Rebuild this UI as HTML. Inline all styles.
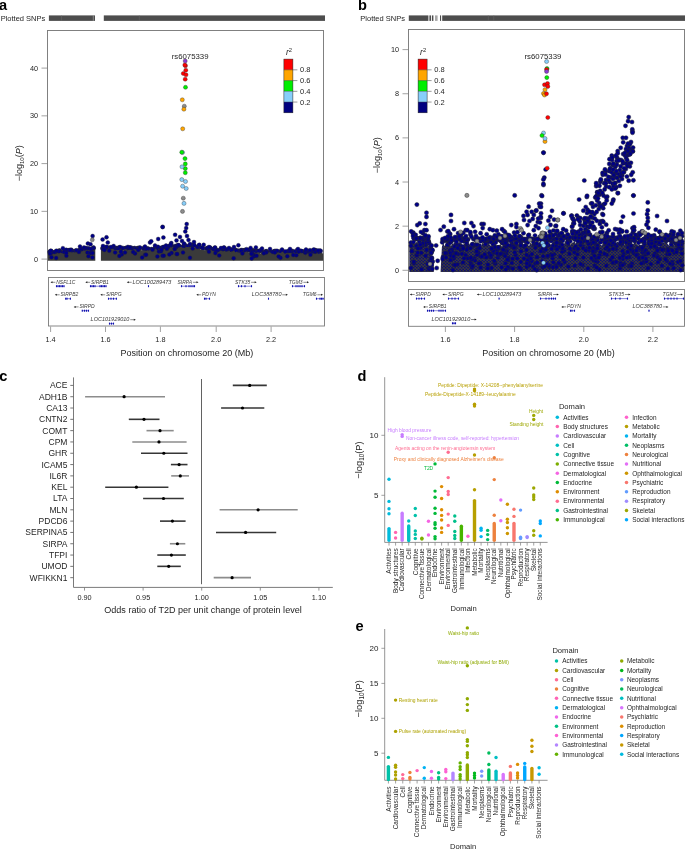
<!DOCTYPE html>
<html><head><meta charset="utf-8"><style>
html,body{margin:0;padding:0;background:#fff;}
body{width:685px;height:849px;overflow:hidden;}
svg{display:block;font-family:"Liberation Sans",sans-serif;will-change:transform;}
</style></head><body>
<svg width="685" height="849" viewBox="0 0 685 849">
<rect width="685" height="849" fill="#fff"/>
<text x="-0.9" y="9.6" font-size="14.6" fill="#000" font-weight="bold">a</text>
<text x="0.7" y="20.9" font-size="7.5" fill="#252525">Plotted SNPs</text>
<rect x="48.9" y="15.4" width="46.1" height="5.5" fill="#4d4d4d"/>
<rect x="103.8" y="15.4" width="221.2" height="5.5" fill="#4d4d4d"/>
<line x1="61.5" y1="15.4" x2="61.5" y2="20.9" stroke="#6a6a6a" stroke-width="0.5"/>
<line x1="139.3" y1="15.4" x2="139.3" y2="20.9" stroke="#6a6a6a" stroke-width="0.5"/>
<line x1="93.3" y1="15.4" x2="93.3" y2="20.9" stroke="#b0b0b0" stroke-width="0.6"/>
<rect x="47.5" y="30.5" width="276" height="240" fill="none" stroke="#7a7a7a" stroke-width="0.95"/>
<line x1="41.5" y1="259.1" x2="47.5" y2="259.1" stroke="#7a7a7a" stroke-width="0.7"/>
<text x="38" y="261.7" font-size="7.3" fill="#252525" text-anchor="end">0</text>
<line x1="41.5" y1="211.35" x2="47.5" y2="211.35" stroke="#7a7a7a" stroke-width="0.7"/>
<text x="38" y="213.95" font-size="7.3" fill="#252525" text-anchor="end">10</text>
<line x1="41.5" y1="163.6" x2="47.5" y2="163.6" stroke="#7a7a7a" stroke-width="0.7"/>
<text x="38" y="166.2" font-size="7.3" fill="#252525" text-anchor="end">20</text>
<line x1="41.5" y1="115.85" x2="47.5" y2="115.85" stroke="#7a7a7a" stroke-width="0.7"/>
<text x="38" y="118.45" font-size="7.3" fill="#252525" text-anchor="end">30</text>
<line x1="41.5" y1="68.1" x2="47.5" y2="68.1" stroke="#7a7a7a" stroke-width="0.7"/>
<text x="38" y="70.7" font-size="7.3" fill="#252525" text-anchor="end">40</text>
<text transform="translate(21.7 163.3) rotate(-90)" font-size="9" fill="#252525" text-anchor="middle">&#8722;log<tspan font-size="6.12" dy="2.52">10</tspan><tspan dy="-2.52">(</tspan><tspan font-style="italic">P</tspan>)</text>
<g fill="#000086" stroke="#2a2a2a" stroke-width="0.45"><circle cx="55.37" cy="252.06" r="2.1"/><circle cx="60.73" cy="252.33" r="2.1"/><circle cx="71.4" cy="251.79" r="2.1"/><circle cx="84.42" cy="249.14" r="2.1"/><circle cx="53.57" cy="253.21" r="2.1"/><circle cx="68.61" cy="250.67" r="2.1"/><circle cx="83.25" cy="250.19" r="2.1"/><circle cx="81.44" cy="249.36" r="2.1"/><circle cx="59.56" cy="253.15" r="2.1"/><circle cx="50.76" cy="251.96" r="2.1"/><circle cx="50.53" cy="253.84" r="2.1"/><circle cx="66.33" cy="251.11" r="2.1"/><circle cx="59.02" cy="251" r="2.1"/><circle cx="59.24" cy="250.87" r="2.1"/><circle cx="68.84" cy="251.13" r="2.1"/><circle cx="59.65" cy="250.74" r="2.1"/><circle cx="59.11" cy="251.7" r="2.1"/><circle cx="50.35" cy="251.35" r="2.1"/><circle cx="86.59" cy="249.67" r="2.1"/><circle cx="57.65" cy="251.4" r="2.1"/><circle cx="93.47" cy="247.7" r="2.1"/><circle cx="64.17" cy="250.96" r="2.1"/><circle cx="81.43" cy="250.02" r="2.1"/><circle cx="68.14" cy="253.03" r="2.1"/><circle cx="86.25" cy="248.63" r="2.1"/><circle cx="75.49" cy="250.82" r="2.1"/><circle cx="88.58" cy="248.47" r="2.1"/><circle cx="75.55" cy="251.09" r="2.1"/><circle cx="50.93" cy="251.18" r="2.1"/><circle cx="67.8" cy="252.45" r="2.1"/><circle cx="57.08" cy="252.6" r="2.1"/><circle cx="79.35" cy="250.3" r="2.1"/><circle cx="66.04" cy="251.72" r="2.1"/><circle cx="83.96" cy="249.24" r="2.1"/><circle cx="72.53" cy="251.16" r="2.1"/><circle cx="50.71" cy="251.95" r="2.1"/><circle cx="51.33" cy="252.05" r="2.1"/><circle cx="75.74" cy="253.2" r="2.1"/><circle cx="66.88" cy="251.04" r="2.1"/><circle cx="93" cy="248.59" r="2.1"/><circle cx="83.61" cy="251.1" r="2.1"/><circle cx="59.71" cy="251.3" r="2.1"/><circle cx="72.21" cy="251.6" r="2.1"/><circle cx="69.79" cy="250.67" r="2.1"/><circle cx="61.36" cy="253.51" r="2.1"/><circle cx="49.65" cy="252.03" r="2.1"/><circle cx="84.19" cy="249.72" r="2.1"/><circle cx="82.28" cy="251.39" r="2.1"/><circle cx="85.33" cy="249.9" r="2.1"/><circle cx="68.32" cy="250.46" r="2.1"/><circle cx="51.89" cy="252.11" r="2.1"/><circle cx="58.27" cy="251.91" r="2.1"/><circle cx="213.09" cy="249.74" r="2.1"/><circle cx="178.29" cy="245.67" r="2.1"/><circle cx="220.49" cy="250.18" r="2.1"/><circle cx="202.87" cy="248.72" r="2.1"/><circle cx="108.53" cy="247.71" r="2.1"/><circle cx="230.57" cy="250.27" r="2.1"/><circle cx="291.22" cy="251.59" r="2.1"/><circle cx="281.44" cy="252.91" r="2.1"/><circle cx="158.39" cy="248.62" r="2.1"/><circle cx="120.65" cy="249.34" r="2.1"/><circle cx="106.06" cy="249.49" r="2.1"/><circle cx="157.13" cy="247.91" r="2.1"/><circle cx="126.41" cy="248.69" r="2.1"/><circle cx="117.64" cy="248.57" r="2.1"/><circle cx="137.41" cy="248.76" r="2.1"/><circle cx="162.25" cy="247.51" r="2.1"/><circle cx="258.45" cy="251.65" r="2.1"/><circle cx="206.3" cy="248.56" r="2.1"/><circle cx="107.58" cy="248.51" r="2.1"/><circle cx="143.64" cy="248.94" r="2.1"/><circle cx="126.25" cy="249.06" r="2.1"/><circle cx="148.25" cy="249.02" r="2.1"/><circle cx="235.22" cy="249.81" r="2.1"/><circle cx="106.32" cy="247.72" r="2.1"/><circle cx="134.52" cy="248.14" r="2.1"/><circle cx="256.92" cy="251.27" r="2.1"/><circle cx="251.12" cy="251.16" r="2.1"/><circle cx="316.35" cy="251.38" r="2.1"/><circle cx="277.36" cy="251.69" r="2.1"/><circle cx="244.62" cy="250.17" r="2.1"/><circle cx="189" cy="246.27" r="2.1"/><circle cx="240.77" cy="250.42" r="2.1"/><circle cx="115.29" cy="248.71" r="2.1"/><circle cx="294.4" cy="253.97" r="2.1"/><circle cx="169.59" cy="246.87" r="2.1"/><circle cx="308.39" cy="251.89" r="2.1"/><circle cx="265.52" cy="251.54" r="2.1"/><circle cx="104.26" cy="247.84" r="2.1"/><circle cx="295.1" cy="253.14" r="2.1"/><circle cx="313.41" cy="251.65" r="2.1"/><circle cx="227.46" cy="250.51" r="2.1"/><circle cx="315.95" cy="253.27" r="2.1"/><circle cx="256.79" cy="251.74" r="2.1"/><circle cx="178.48" cy="245.62" r="2.1"/><circle cx="147.52" cy="248.76" r="2.1"/><circle cx="144.97" cy="249.27" r="2.1"/><circle cx="125.3" cy="248.4" r="2.1"/><circle cx="212.01" cy="249.43" r="2.1"/><circle cx="173.75" cy="247.44" r="2.1"/><circle cx="106.37" cy="249.36" r="2.1"/><circle cx="146.45" cy="249.82" r="2.1"/><circle cx="274.05" cy="253.94" r="2.1"/><circle cx="176.76" cy="246.01" r="2.1"/><circle cx="286.11" cy="252.66" r="2.1"/><circle cx="306.83" cy="252.45" r="2.1"/><circle cx="253.08" cy="252.49" r="2.1"/><circle cx="208.65" cy="249.26" r="2.1"/><circle cx="261.49" cy="250.79" r="2.1"/><circle cx="120.97" cy="249.11" r="2.1"/><circle cx="149.1" cy="250.5" r="2.1"/><circle cx="268.87" cy="252.63" r="2.1"/><circle cx="183.13" cy="246.81" r="2.1"/><circle cx="177.02" cy="246.21" r="2.1"/><circle cx="234.85" cy="252.03" r="2.1"/><circle cx="311.68" cy="251.6" r="2.1"/><circle cx="223.27" cy="249.57" r="2.1"/><circle cx="125.27" cy="248.34" r="2.1"/><circle cx="292.35" cy="251.07" r="2.1"/><circle cx="275.23" cy="251.34" r="2.1"/><circle cx="237.31" cy="250.76" r="2.1"/><circle cx="273.87" cy="251.93" r="2.1"/><circle cx="151.46" cy="249.18" r="2.1"/><circle cx="120.33" cy="248.09" r="2.1"/><circle cx="226.18" cy="251.81" r="2.1"/><circle cx="305.27" cy="251.99" r="2.1"/><circle cx="274.99" cy="251.07" r="2.1"/><circle cx="283.93" cy="252.67" r="2.1"/><circle cx="122.51" cy="248" r="2.1"/><circle cx="127.64" cy="248.18" r="2.1"/><circle cx="154.95" cy="248.1" r="2.1"/><circle cx="319.1" cy="251.69" r="2.1"/><circle cx="139.11" cy="248.35" r="2.1"/><circle cx="155.34" cy="247.86" r="2.1"/><circle cx="302.13" cy="251.59" r="2.1"/><circle cx="185.36" cy="247.99" r="2.1"/><circle cx="166.88" cy="247.29" r="2.1"/><circle cx="157.97" cy="248.21" r="2.1"/><circle cx="245.39" cy="250.2" r="2.1"/><circle cx="111.09" cy="251.12" r="2.1"/><circle cx="167.21" cy="246.95" r="2.1"/><circle cx="233.23" cy="250.62" r="2.1"/><circle cx="116.21" cy="248.1" r="2.1"/><circle cx="302.71" cy="254.16" r="2.1"/><circle cx="126.82" cy="248.51" r="2.1"/><circle cx="149.59" cy="250.67" r="2.1"/><circle cx="221.46" cy="251.32" r="2.1"/><circle cx="253.32" cy="250.92" r="2.1"/><circle cx="221.17" cy="249.83" r="2.1"/><circle cx="169.8" cy="246.18" r="2.1"/><circle cx="163.98" cy="247.76" r="2.1"/><circle cx="318.05" cy="252.81" r="2.1"/><circle cx="243.51" cy="250.6" r="2.1"/><circle cx="308.7" cy="251.88" r="2.1"/><circle cx="174.16" cy="246.31" r="2.1"/><circle cx="171.86" cy="247.19" r="2.1"/><circle cx="168.81" cy="248.47" r="2.1"/><circle cx="175.72" cy="247.14" r="2.1"/><circle cx="233.09" cy="250.06" r="2.1"/><circle cx="156.15" cy="248.68" r="2.1"/><circle cx="118.26" cy="247.92" r="2.1"/><circle cx="223.28" cy="249.58" r="2.1"/><circle cx="241.74" cy="250.17" r="2.1"/><circle cx="166.18" cy="247.31" r="2.1"/><circle cx="291.58" cy="252.3" r="2.1"/><circle cx="136.21" cy="250.16" r="2.1"/><circle cx="119.31" cy="247.84" r="2.1"/><circle cx="310.57" cy="252.06" r="2.1"/><circle cx="318.39" cy="253" r="2.1"/><circle cx="282.57" cy="251.12" r="2.1"/><circle cx="215.2" cy="249.25" r="2.1"/><circle cx="304.01" cy="251.74" r="2.1"/><circle cx="133.47" cy="250.44" r="2.1"/><circle cx="302.07" cy="252.06" r="2.1"/><circle cx="300.45" cy="251.23" r="2.1"/><circle cx="278.69" cy="252.77" r="2.1"/><circle cx="266.04" cy="252.01" r="2.1"/><circle cx="253.63" cy="251" r="2.1"/><circle cx="137.03" cy="249.19" r="2.1"/><circle cx="259.16" cy="251.12" r="2.1"/><circle cx="116.53" cy="248.58" r="2.1"/><circle cx="313.67" cy="251.67" r="2.1"/><circle cx="221.12" cy="250.45" r="2.1"/><circle cx="289.09" cy="252.08" r="2.1"/><circle cx="176.67" cy="245.95" r="2.1"/><circle cx="158.97" cy="249.31" r="2.1"/><circle cx="193.78" cy="245.49" r="2.1"/><circle cx="227.53" cy="250.41" r="2.1"/><circle cx="132.73" cy="248.41" r="2.1"/><circle cx="129.84" cy="248.08" r="2.1"/><circle cx="189.64" cy="247.57" r="2.1"/><circle cx="190.36" cy="245.97" r="2.1"/><circle cx="104.04" cy="247.94" r="2.1"/><circle cx="218.34" cy="250.63" r="2.1"/><circle cx="198.52" cy="246.27" r="2.1"/><circle cx="252.95" cy="250.52" r="2.1"/><circle cx="210.97" cy="249.39" r="2.1"/><circle cx="207.41" cy="248.52" r="2.1"/><circle cx="225.3" cy="250.48" r="2.1"/><circle cx="301.29" cy="251.86" r="2.1"/><circle cx="244.16" cy="250.54" r="2.1"/><circle cx="112.97" cy="249.03" r="2.1"/><circle cx="294.82" cy="251.6" r="2.1"/><circle cx="137.37" cy="248.29" r="2.1"/><circle cx="170.78" cy="248.44" r="2.1"/><circle cx="254.28" cy="251.15" r="2.1"/><circle cx="256.19" cy="251.49" r="2.1"/><circle cx="263.9" cy="252.69" r="2.1"/><circle cx="299.03" cy="252.33" r="2.1"/><circle cx="312.95" cy="251.79" r="2.1"/><circle cx="157.36" cy="248.03" r="2.1"/><circle cx="150.12" cy="250.02" r="2.1"/><circle cx="113.83" cy="248.6" r="2.1"/><circle cx="251.88" cy="250.6" r="2.1"/><circle cx="215.35" cy="249.82" r="2.1"/><circle cx="138.54" cy="248.1" r="2.1"/><circle cx="317.58" cy="251.5" r="2.1"/><circle cx="279.58" cy="251.51" r="2.1"/><circle cx="302.59" cy="251.72" r="2.1"/><circle cx="312.8" cy="252.45" r="2.1"/><circle cx="287.04" cy="252.51" r="2.1"/><circle cx="247.08" cy="250.58" r="2.1"/><circle cx="305.1" cy="252.3" r="2.1"/><circle cx="315.39" cy="252.74" r="2.1"/><circle cx="197.34" cy="247.36" r="2.1"/><circle cx="138.53" cy="248.34" r="2.1"/><circle cx="301.72" cy="251.59" r="2.1"/><circle cx="312.8" cy="252.31" r="2.1"/><circle cx="191.92" cy="246.37" r="2.1"/><circle cx="128.3" cy="248.18" r="2.1"/><circle cx="266.78" cy="251.62" r="2.1"/><circle cx="103.28" cy="247.8" r="2.1"/><circle cx="107.01" cy="248.73" r="2.1"/><circle cx="240.02" cy="251.7" r="2.1"/><circle cx="147.71" cy="249.58" r="2.1"/><circle cx="164.85" cy="248.13" r="2.1"/><circle cx="230.85" cy="249.79" r="2.1"/><circle cx="157.42" cy="248.57" r="2.1"/><circle cx="279.74" cy="252.8" r="2.1"/><circle cx="315.91" cy="252.48" r="2.1"/><circle cx="290.05" cy="251.33" r="2.1"/><circle cx="271.06" cy="251.85" r="2.1"/><circle cx="164.69" cy="247.73" r="2.1"/><circle cx="126.11" cy="248.11" r="2.1"/><circle cx="266.28" cy="251.31" r="2.1"/><circle cx="221.98" cy="251.06" r="2.1"/><circle cx="315.89" cy="251.59" r="2.1"/><circle cx="132.36" cy="249.54" r="2.1"/><circle cx="170.66" cy="245.99" r="2.1"/><circle cx="212.72" cy="249.52" r="2.1"/><circle cx="102.59" cy="248.44" r="2.1"/><circle cx="199.4" cy="247.49" r="2.1"/><circle cx="189.99" cy="245.63" r="2.1"/><circle cx="274.13" cy="251.38" r="2.1"/><circle cx="244.43" cy="251.35" r="2.1"/><circle cx="185.2" cy="245.44" r="2.1"/><circle cx="163.28" cy="247.42" r="2.1"/><circle cx="233.58" cy="251.3" r="2.1"/><circle cx="214.45" cy="250.22" r="2.1"/><circle cx="318.85" cy="253.38" r="2.1"/><circle cx="192.09" cy="245.81" r="2.1"/><circle cx="265.7" cy="251.77" r="2.1"/><circle cx="139.75" cy="248.15" r="2.1"/><circle cx="238.37" cy="250.95" r="2.1"/><circle cx="103.17" cy="247.54" r="2.1"/><circle cx="187.74" cy="246.45" r="2.1"/><circle cx="291.27" cy="251.5" r="2.1"/><circle cx="230.57" cy="249.78" r="2.1"/><circle cx="266.61" cy="253.3" r="2.1"/><circle cx="210.45" cy="248.53" r="2.1"/><circle cx="244.67" cy="251.8" r="2.1"/><circle cx="240.49" cy="251.33" r="2.1"/><circle cx="241.38" cy="250.89" r="2.1"/><circle cx="307.91" cy="251.55" r="2.1"/><circle cx="270.71" cy="253.06" r="2.1"/><circle cx="281.2" cy="251.75" r="2.1"/><circle cx="160.42" cy="248.19" r="2.1"/><circle cx="257.67" cy="251.66" r="2.1"/><circle cx="135.75" cy="249.09" r="2.1"/><circle cx="285.07" cy="252.24" r="2.1"/><circle cx="112.35" cy="247.86" r="2.1"/><circle cx="214.3" cy="248.73" r="2.1"/><circle cx="180.29" cy="246.78" r="2.1"/><circle cx="246.45" cy="251.57" r="2.1"/><circle cx="309.89" cy="251.27" r="2.1"/><circle cx="253.82" cy="251.95" r="2.1"/><circle cx="235.08" cy="250.76" r="2.1"/><circle cx="148.21" cy="248.83" r="2.1"/><circle cx="161.41" cy="249.85" r="2.1"/><circle cx="118.82" cy="248.52" r="2.1"/><circle cx="183.15" cy="246.73" r="2.1"/><circle cx="214.58" cy="248.76" r="2.1"/><circle cx="245.62" cy="250.85" r="2.1"/><circle cx="258.86" cy="251.03" r="2.1"/><circle cx="236.1" cy="250.62" r="2.1"/></g>
<path d="M47.9 260.8 L47.9 252.46 L49.1 253.08 L50.3 252.25 L51.5 253.43 L52.7 253.54 L53.9 252.41 L55.1 252.15 L56.3 253.58 L57.5 253.02 L58.7 253.24 L59.9 251.57 L61.1 253.24 L62.3 252.63 L63.5 251.96 L64.7 252.13 L65.9 252.73 L67.1 252.72 L68.3 251.46 L69.5 252.28 L70.7 251.3 L71.9 252.85 L73.1 251.73 L74.3 252.61 L75.5 252.18 L76.7 251.88 L77.9 251.13 L79.1 251.6 L80.3 250.7 L81.5 250.4 L82.7 251.26 L83.9 250.25 L85.1 250.73 L86.3 249.41 L87.5 250.06 L88.7 249.89 L89.9 248.98 L91.1 248.49 L92.3 248.99 L93.5 249.09 L94.7 248.22 L95.3 248.37 L95.3 260.8 Z" fill="#3a3a3a"/>
<path d="M100.9 260.8 L100.9 248.93 L102.1 249.74 L103.3 249.94 L104.5 248.27 L105.7 248.38 L106.9 250.01 L108.1 248.48 L109.3 249.01 L110.5 248.74 L111.7 248.7 L112.9 248.59 L114.1 249.83 L115.3 250.06 L116.5 249.95 L117.7 250.29 L118.9 249.94 L120.1 249.41 L121.3 249.9 L122.5 250.6 L123.7 249.95 L124.9 249.17 L126.1 248.82 L127.3 250.59 L128.5 249.91 L129.7 249.45 L130.9 249.97 L132.1 249.9 L133.3 249.84 L134.5 248.93 L135.7 249.53 L136.9 249.66 L138.1 249.25 L139.3 250.63 L140.5 249.73 L141.7 250.22 L142.9 250.34 L144.1 250.41 L145.3 250.38 L146.5 250.46 L147.7 249.47 L148.9 250.94 L150.1 249.3 L151.3 250.75 L152.5 250.54 L153.7 250.46 L154.9 248.78 L156.1 248.78 L157.3 250.14 L158.5 249.37 L159.7 249.09 L160.9 250.24 L162.1 248.27 L163.3 249.18 L164.5 248.92 L165.7 248.11 L166.9 248.38 L168.1 248.75 L169.3 248.84 L170.5 246.87 L171.7 247.61 L172.9 246.66 L174.1 248.06 L175.3 246.6 L176.5 246.47 L177.7 247.14 L178.9 247.82 L180.1 246.95 L181.3 246.56 L182.5 247.86 L183.7 247.86 L184.9 247.93 L186.1 246.8 L187.3 247.02 L188.5 246.63 L189.7 247.23 L190.9 246.75 L192.1 246.74 L193.3 247.6 L194.5 247.92 L195.7 247.38 L196.9 246.78 L198.1 248.24 L199.3 248.19 L200.5 249.63 L201.7 249.45 L202.9 250.04 L204.1 250.13 L205.3 250.09 L206.5 250.87 L207.7 250.8 L208.9 249.79 L210.1 249.58 L211.3 250.07 L212.5 250.43 L213.7 249.65 L214.9 250.21 L216.1 250.73 L217.3 249.73 L218.5 251.33 L219.7 251.07 L220.9 250.45 L222.1 250.49 L223.3 250.66 L224.5 250.66 L225.7 251.57 L226.9 251.14 L228.1 251.25 L229.3 250.56 L230.5 252.15 L231.7 251.02 L232.9 251.07 L234.1 250.6 L235.3 252.47 L236.5 251.52 L237.7 252.43 L238.9 252.51 L240.1 252.64 L241.3 252.38 L242.5 252.65 L243.7 252.69 L244.9 252.5 L246.1 251.21 L247.3 252.04 L248.5 252.19 L249.7 253.07 L250.9 252.7 L252.1 252.59 L253.3 252.73 L254.5 252 L255.7 253.21 L256.9 252.66 L258.1 252.23 L259.3 252.4 L260.5 253.46 L261.7 252.58 L262.9 251.86 L264.1 251.83 L265.3 252.92 L266.5 252.68 L267.7 253.37 L268.9 251.94 L270.1 252.4 L271.3 253.05 L272.5 251.7 L273.7 251.81 L274.9 252.71 L276.1 252.16 L277.3 251.85 L278.5 252.17 L279.7 252.92 L280.9 252.72 L282.1 251.83 L283.3 251.83 L284.5 253.4 L285.7 252.99 L286.9 252.06 L288.1 253.45 L289.3 251.78 L290.5 252.48 L291.7 253.45 L292.9 253.18 L294.1 252.34 L295.3 253.56 L296.5 252.99 L297.7 253.53 L298.9 253.59 L300.1 252.67 L301.3 253.18 L302.5 252.93 L303.7 253.74 L304.9 253.45 L306.1 253.32 L307.3 253.5 L308.5 253.88 L309.7 252.41 L310.9 252.31 L312.1 253.41 L313.3 253.46 L314.5 252.96 L315.7 252.92 L316.9 252.76 L318.1 253.73 L319.3 253.56 L320.5 253.15 L321.7 252.07 L322.9 253.7 L323.2 252.92 L323.2 260.8 Z" fill="#3a3a3a"/>
<circle cx="51.86" cy="252.41" r="2" fill="#000086" stroke="#2a2a2a" stroke-width="0.35"/>
<circle cx="59.02" cy="251.35" r="2" fill="#000086" stroke="#2a2a2a" stroke-width="0.35"/>
<circle cx="50.94" cy="250.66" r="2" fill="#000086" stroke="#2a2a2a" stroke-width="0.35"/>
<circle cx="92.21" cy="248.84" r="2" fill="#000086" stroke="#2a2a2a" stroke-width="0.35"/>
<circle cx="76.63" cy="250.24" r="2" fill="#000086" stroke="#2a2a2a" stroke-width="0.35"/>
<circle cx="54.64" cy="252.12" r="2" fill="#000086" stroke="#2a2a2a" stroke-width="0.35"/>
<circle cx="80.15" cy="249.71" r="2" fill="#000086" stroke="#2a2a2a" stroke-width="0.35"/>
<circle cx="71.38" cy="249.78" r="2" fill="#000086" stroke="#2a2a2a" stroke-width="0.35"/>
<circle cx="66.18" cy="249.72" r="2" fill="#000086" stroke="#2a2a2a" stroke-width="0.35"/>
<circle cx="85.81" cy="248" r="2" fill="#000086" stroke="#2a2a2a" stroke-width="0.35"/>
<circle cx="69.94" cy="249.91" r="2" fill="#000086" stroke="#2a2a2a" stroke-width="0.35"/>
<circle cx="81.14" cy="248.71" r="2" fill="#000086" stroke="#2a2a2a" stroke-width="0.35"/>
<circle cx="64.06" cy="252.03" r="2" fill="#000086" stroke="#2a2a2a" stroke-width="0.35"/>
<circle cx="93.55" cy="247.93" r="2" fill="#000086" stroke="#2a2a2a" stroke-width="0.35"/>
<circle cx="51.45" cy="257.36" r="2" fill="#000086" stroke="#2a2a2a" stroke-width="0.35"/>
<circle cx="87.48" cy="252.47" r="2" fill="#000086" stroke="#2a2a2a" stroke-width="0.35"/>
<circle cx="66.41" cy="255.85" r="2" fill="#000086" stroke="#2a2a2a" stroke-width="0.35"/>
<circle cx="90.2" cy="253.01" r="2" fill="#000086" stroke="#2a2a2a" stroke-width="0.35"/>
<circle cx="88.47" cy="256.32" r="2" fill="#000086" stroke="#2a2a2a" stroke-width="0.35"/>
<circle cx="56.16" cy="258" r="2" fill="#000086" stroke="#2a2a2a" stroke-width="0.35"/>
<circle cx="50.07" cy="253.72" r="2" fill="#000086" stroke="#2a2a2a" stroke-width="0.35"/>
<circle cx="78.92" cy="251.95" r="2" fill="#000086" stroke="#2a2a2a" stroke-width="0.35"/>
<circle cx="66.25" cy="253.01" r="2" fill="#000086" stroke="#2a2a2a" stroke-width="0.35"/>
<circle cx="144.01" cy="247.63" r="2" fill="#000086" stroke="#2a2a2a" stroke-width="0.35"/>
<circle cx="103.61" cy="248.34" r="2" fill="#000086" stroke="#2a2a2a" stroke-width="0.35"/>
<circle cx="128.73" cy="247.75" r="2" fill="#000086" stroke="#2a2a2a" stroke-width="0.35"/>
<circle cx="266.19" cy="252.51" r="2" fill="#000086" stroke="#2a2a2a" stroke-width="0.35"/>
<circle cx="315.29" cy="251.82" r="2" fill="#000086" stroke="#2a2a2a" stroke-width="0.35"/>
<circle cx="223.32" cy="248.47" r="2" fill="#000086" stroke="#2a2a2a" stroke-width="0.35"/>
<circle cx="217.67" cy="250.33" r="2" fill="#000086" stroke="#2a2a2a" stroke-width="0.35"/>
<circle cx="311.47" cy="250.63" r="2" fill="#000086" stroke="#2a2a2a" stroke-width="0.35"/>
<circle cx="191.94" cy="244.95" r="2" fill="#000086" stroke="#2a2a2a" stroke-width="0.35"/>
<circle cx="168.61" cy="246.16" r="2" fill="#000086" stroke="#2a2a2a" stroke-width="0.35"/>
<circle cx="213.44" cy="249.06" r="2" fill="#000086" stroke="#2a2a2a" stroke-width="0.35"/>
<circle cx="316.56" cy="250.93" r="2" fill="#000086" stroke="#2a2a2a" stroke-width="0.35"/>
<circle cx="138.14" cy="250.02" r="2" fill="#000086" stroke="#2a2a2a" stroke-width="0.35"/>
<circle cx="263.83" cy="253.2" r="2" fill="#000086" stroke="#2a2a2a" stroke-width="0.35"/>
<circle cx="226.5" cy="249.15" r="2" fill="#000086" stroke="#2a2a2a" stroke-width="0.35"/>
<circle cx="307.78" cy="251" r="2" fill="#000086" stroke="#2a2a2a" stroke-width="0.35"/>
<circle cx="298.75" cy="251.36" r="2" fill="#000086" stroke="#2a2a2a" stroke-width="0.35"/>
<circle cx="305.29" cy="252.67" r="2" fill="#000086" stroke="#2a2a2a" stroke-width="0.35"/>
<circle cx="288" cy="250.97" r="2" fill="#000086" stroke="#2a2a2a" stroke-width="0.35"/>
<circle cx="276.94" cy="250.76" r="2" fill="#000086" stroke="#2a2a2a" stroke-width="0.35"/>
<circle cx="184.12" cy="244.24" r="2" fill="#000086" stroke="#2a2a2a" stroke-width="0.35"/>
<circle cx="176.2" cy="246.13" r="2" fill="#000086" stroke="#2a2a2a" stroke-width="0.35"/>
<circle cx="202.43" cy="247.27" r="2" fill="#000086" stroke="#2a2a2a" stroke-width="0.35"/>
<circle cx="193.45" cy="244.97" r="2" fill="#000086" stroke="#2a2a2a" stroke-width="0.35"/>
<circle cx="106.38" cy="246.85" r="2" fill="#000086" stroke="#2a2a2a" stroke-width="0.35"/>
<circle cx="290.53" cy="250.77" r="2" fill="#000086" stroke="#2a2a2a" stroke-width="0.35"/>
<circle cx="231.69" cy="249.58" r="2" fill="#000086" stroke="#2a2a2a" stroke-width="0.35"/>
<circle cx="158.96" cy="251.49" r="2" fill="#000086" stroke="#2a2a2a" stroke-width="0.35"/>
<circle cx="215.07" cy="247.68" r="2" fill="#000086" stroke="#2a2a2a" stroke-width="0.35"/>
<circle cx="197.47" cy="247.04" r="2" fill="#000086" stroke="#2a2a2a" stroke-width="0.35"/>
<circle cx="272.8" cy="251.97" r="2" fill="#000086" stroke="#2a2a2a" stroke-width="0.35"/>
<circle cx="210.16" cy="247.48" r="2" fill="#000086" stroke="#2a2a2a" stroke-width="0.35"/>
<circle cx="315.45" cy="250.08" r="2" fill="#000086" stroke="#2a2a2a" stroke-width="0.35"/>
<circle cx="130.79" cy="247.4" r="2" fill="#000086" stroke="#2a2a2a" stroke-width="0.35"/>
<circle cx="314.36" cy="249.98" r="2" fill="#000086" stroke="#2a2a2a" stroke-width="0.35"/>
<circle cx="157.93" cy="246.81" r="2" fill="#000086" stroke="#2a2a2a" stroke-width="0.35"/>
<circle cx="207.62" cy="248.58" r="2" fill="#000086" stroke="#2a2a2a" stroke-width="0.35"/>
<circle cx="261.06" cy="249.96" r="2" fill="#000086" stroke="#2a2a2a" stroke-width="0.35"/>
<circle cx="285.38" cy="251.45" r="2" fill="#000086" stroke="#2a2a2a" stroke-width="0.35"/>
<circle cx="320.78" cy="251.08" r="2" fill="#000086" stroke="#2a2a2a" stroke-width="0.35"/>
<circle cx="222.93" cy="249.28" r="2" fill="#000086" stroke="#2a2a2a" stroke-width="0.35"/>
<circle cx="309.88" cy="250.19" r="2" fill="#000086" stroke="#2a2a2a" stroke-width="0.35"/>
<circle cx="315.03" cy="251.45" r="2" fill="#000086" stroke="#2a2a2a" stroke-width="0.35"/>
<circle cx="194.42" cy="245.16" r="2" fill="#000086" stroke="#2a2a2a" stroke-width="0.35"/>
<circle cx="249.69" cy="249.95" r="2" fill="#000086" stroke="#2a2a2a" stroke-width="0.35"/>
<circle cx="163.53" cy="246.9" r="2" fill="#000086" stroke="#2a2a2a" stroke-width="0.35"/>
<circle cx="207.6" cy="247.93" r="2" fill="#000086" stroke="#2a2a2a" stroke-width="0.35"/>
<circle cx="274.86" cy="252.47" r="2" fill="#000086" stroke="#2a2a2a" stroke-width="0.35"/>
<circle cx="250.82" cy="250.41" r="2" fill="#000086" stroke="#2a2a2a" stroke-width="0.35"/>
<circle cx="249.05" cy="249.84" r="2" fill="#000086" stroke="#2a2a2a" stroke-width="0.35"/>
<circle cx="166.93" cy="248.84" r="2" fill="#000086" stroke="#2a2a2a" stroke-width="0.35"/>
<circle cx="127.87" cy="246.88" r="2" fill="#000086" stroke="#2a2a2a" stroke-width="0.35"/>
<circle cx="289.66" cy="250.9" r="2" fill="#000086" stroke="#2a2a2a" stroke-width="0.35"/>
<circle cx="300.95" cy="250.74" r="2" fill="#000086" stroke="#2a2a2a" stroke-width="0.35"/>
<circle cx="146.52" cy="248.5" r="2" fill="#000086" stroke="#2a2a2a" stroke-width="0.35"/>
<circle cx="297.13" cy="250" r="2" fill="#000086" stroke="#2a2a2a" stroke-width="0.35"/>
<circle cx="319.96" cy="250.4" r="2" fill="#000086" stroke="#2a2a2a" stroke-width="0.35"/>
<circle cx="298.67" cy="251.5" r="2" fill="#000086" stroke="#2a2a2a" stroke-width="0.35"/>
<circle cx="221.87" cy="248.44" r="2" fill="#000086" stroke="#2a2a2a" stroke-width="0.35"/>
<circle cx="176.32" cy="246.88" r="2" fill="#000086" stroke="#2a2a2a" stroke-width="0.35"/>
<circle cx="208.97" cy="251.7" r="2" fill="#000086" stroke="#2a2a2a" stroke-width="0.35"/>
<circle cx="246.54" cy="249.2" r="2" fill="#000086" stroke="#2a2a2a" stroke-width="0.35"/>
<circle cx="305.43" cy="251.02" r="2" fill="#000086" stroke="#2a2a2a" stroke-width="0.35"/>
<circle cx="220.94" cy="248.06" r="2" fill="#000086" stroke="#2a2a2a" stroke-width="0.35"/>
<circle cx="198.95" cy="245.36" r="2" fill="#000086" stroke="#2a2a2a" stroke-width="0.35"/>
<circle cx="152.52" cy="249.71" r="2" fill="#000086" stroke="#2a2a2a" stroke-width="0.35"/>
<circle cx="162.61" cy="255.76" r="2" fill="#000086" stroke="#2a2a2a" stroke-width="0.35"/>
<circle cx="192.67" cy="248.54" r="2" fill="#000086" stroke="#2a2a2a" stroke-width="0.35"/>
<circle cx="145.23" cy="254.74" r="2" fill="#000086" stroke="#2a2a2a" stroke-width="0.35"/>
<circle cx="233.65" cy="258.22" r="2" fill="#000086" stroke="#2a2a2a" stroke-width="0.35"/>
<circle cx="219.24" cy="255.47" r="2" fill="#000086" stroke="#2a2a2a" stroke-width="0.35"/>
<circle cx="135.04" cy="253.41" r="2" fill="#000086" stroke="#2a2a2a" stroke-width="0.35"/>
<circle cx="163.76" cy="255.63" r="2" fill="#000086" stroke="#2a2a2a" stroke-width="0.35"/>
<circle cx="160.97" cy="251.25" r="2" fill="#000086" stroke="#2a2a2a" stroke-width="0.35"/>
<circle cx="183.03" cy="252.55" r="2" fill="#000086" stroke="#2a2a2a" stroke-width="0.35"/>
<circle cx="176.61" cy="254.12" r="2" fill="#000086" stroke="#2a2a2a" stroke-width="0.35"/>
<circle cx="142.14" cy="257.47" r="2" fill="#000086" stroke="#2a2a2a" stroke-width="0.35"/>
<circle cx="254.63" cy="255.61" r="2" fill="#000086" stroke="#2a2a2a" stroke-width="0.35"/>
<circle cx="115.15" cy="252.48" r="2" fill="#000086" stroke="#2a2a2a" stroke-width="0.35"/>
<circle cx="253.74" cy="256.28" r="2" fill="#000086" stroke="#2a2a2a" stroke-width="0.35"/>
<circle cx="280.46" cy="257.87" r="2" fill="#000086" stroke="#2a2a2a" stroke-width="0.35"/>
<circle cx="171.56" cy="252.98" r="2" fill="#000086" stroke="#2a2a2a" stroke-width="0.35"/>
<circle cx="174.78" cy="248.85" r="2" fill="#000086" stroke="#2a2a2a" stroke-width="0.35"/>
<circle cx="133.13" cy="252.02" r="2" fill="#000086" stroke="#2a2a2a" stroke-width="0.35"/>
<circle cx="121.7" cy="254.42" r="2" fill="#000086" stroke="#2a2a2a" stroke-width="0.35"/>
<circle cx="256.55" cy="255.82" r="2" fill="#000086" stroke="#2a2a2a" stroke-width="0.35"/>
<circle cx="252.57" cy="253.63" r="2" fill="#000086" stroke="#2a2a2a" stroke-width="0.35"/>
<circle cx="146.13" cy="254.8" r="2" fill="#000086" stroke="#2a2a2a" stroke-width="0.35"/>
<circle cx="296.32" cy="255.2" r="2" fill="#000086" stroke="#2a2a2a" stroke-width="0.35"/>
<circle cx="103.33" cy="249.32" r="2" fill="#000086" stroke="#2a2a2a" stroke-width="0.35"/>
<circle cx="169.35" cy="254.49" r="2" fill="#000086" stroke="#2a2a2a" stroke-width="0.35"/>
<circle cx="120.95" cy="251.63" r="2" fill="#000086" stroke="#2a2a2a" stroke-width="0.35"/>
<circle cx="251.68" cy="258.4" r="2" fill="#000086" stroke="#2a2a2a" stroke-width="0.35"/>
<circle cx="177.2" cy="254.07" r="2" fill="#000086" stroke="#2a2a2a" stroke-width="0.35"/>
<circle cx="216.09" cy="250.76" r="2" fill="#000086" stroke="#2a2a2a" stroke-width="0.35"/>
<circle cx="174.73" cy="248.98" r="2" fill="#000086" stroke="#2a2a2a" stroke-width="0.35"/>
<circle cx="157.41" cy="256.43" r="2" fill="#000086" stroke="#2a2a2a" stroke-width="0.35"/>
<circle cx="251.79" cy="252.43" r="2" fill="#000086" stroke="#2a2a2a" stroke-width="0.35"/>
<circle cx="119.37" cy="256.06" r="2" fill="#000086" stroke="#2a2a2a" stroke-width="0.35"/>
<circle cx="125.03" cy="252.48" r="2" fill="#000086" stroke="#2a2a2a" stroke-width="0.35"/>
<circle cx="161.47" cy="249.7" r="2" fill="#000086" stroke="#2a2a2a" stroke-width="0.35"/>
<circle cx="109.24" cy="250.71" r="2" fill="#000086" stroke="#2a2a2a" stroke-width="0.35"/>
<circle cx="189.97" cy="257.74" r="2" fill="#000086" stroke="#2a2a2a" stroke-width="0.35"/>
<circle cx="242.4" cy="253.42" r="2" fill="#000086" stroke="#2a2a2a" stroke-width="0.35"/>
<circle cx="251.45" cy="253.89" r="2" fill="#000086" stroke="#2a2a2a" stroke-width="0.35"/>
<circle cx="215.39" cy="253.1" r="2" fill="#000086" stroke="#2a2a2a" stroke-width="0.35"/>
<circle cx="310.44" cy="254.87" r="2" fill="#000086" stroke="#2a2a2a" stroke-width="0.35"/>
<circle cx="278.62" cy="256.4" r="2" fill="#000086" stroke="#2a2a2a" stroke-width="0.35"/>
<circle cx="287.34" cy="256.22" r="2" fill="#000086" stroke="#2a2a2a" stroke-width="0.35"/>
<circle cx="293.28" cy="255.09" r="2" fill="#000086" stroke="#2a2a2a" stroke-width="0.35"/>
<circle cx="92.6" cy="236" r="2" fill="#000086" stroke="#2a2a2a" stroke-width="0.35"/>
<circle cx="87.9" cy="243.5" r="2" fill="#000086" stroke="#2a2a2a" stroke-width="0.35"/>
<circle cx="90.5" cy="244.2" r="2" fill="#000086" stroke="#2a2a2a" stroke-width="0.35"/>
<circle cx="102.6" cy="239.5" r="2" fill="#000086" stroke="#2a2a2a" stroke-width="0.35"/>
<circle cx="106.5" cy="237.3" r="2" fill="#000086" stroke="#2a2a2a" stroke-width="0.35"/>
<circle cx="107.8" cy="242.6" r="2" fill="#000086" stroke="#2a2a2a" stroke-width="0.35"/>
<circle cx="113.6" cy="246" r="2" fill="#000086" stroke="#2a2a2a" stroke-width="0.35"/>
<circle cx="162.6" cy="226.9" r="2" fill="#000086" stroke="#2a2a2a" stroke-width="0.35"/>
<circle cx="163.4" cy="237.5" r="2" fill="#000086" stroke="#2a2a2a" stroke-width="0.35"/>
<circle cx="158.2" cy="239" r="2" fill="#000086" stroke="#2a2a2a" stroke-width="0.35"/>
<circle cx="150" cy="242.5" r="2" fill="#000086" stroke="#2a2a2a" stroke-width="0.35"/>
<circle cx="151.2" cy="241.3" r="2" fill="#000086" stroke="#2a2a2a" stroke-width="0.35"/>
<circle cx="175.1" cy="234.8" r="2" fill="#000086" stroke="#2a2a2a" stroke-width="0.35"/>
<circle cx="186.7" cy="224.1" r="2" fill="#000086" stroke="#2a2a2a" stroke-width="0.35"/>
<circle cx="186.2" cy="228.1" r="2" fill="#000086" stroke="#2a2a2a" stroke-width="0.35"/>
<circle cx="185.3" cy="231.6" r="2" fill="#000086" stroke="#2a2a2a" stroke-width="0.35"/>
<circle cx="187" cy="236" r="2" fill="#000086" stroke="#2a2a2a" stroke-width="0.35"/>
<circle cx="180" cy="236.9" r="2" fill="#000086" stroke="#2a2a2a" stroke-width="0.35"/>
<circle cx="194" cy="242.1" r="2" fill="#000086" stroke="#2a2a2a" stroke-width="0.35"/>
<circle cx="199.3" cy="244.8" r="2" fill="#000086" stroke="#2a2a2a" stroke-width="0.35"/>
<circle cx="203.7" cy="244.8" r="2" fill="#000086" stroke="#2a2a2a" stroke-width="0.35"/>
<circle cx="224.2" cy="247.7" r="2" fill="#000086" stroke="#2a2a2a" stroke-width="0.35"/>
<circle cx="171.3" cy="243" r="2" fill="#000086" stroke="#2a2a2a" stroke-width="0.35"/>
<circle cx="176.5" cy="240.4" r="2" fill="#000086" stroke="#2a2a2a" stroke-width="0.35"/>
<circle cx="62.9" cy="248.2" r="2" fill="#000086" stroke="#2a2a2a" stroke-width="0.35"/>
<circle cx="70.4" cy="250" r="2" fill="#000086" stroke="#2a2a2a" stroke-width="0.35"/>
<circle cx="56.4" cy="250.7" r="2" fill="#000086" stroke="#2a2a2a" stroke-width="0.35"/>
<circle cx="170.8" cy="244.2" r="2" fill="#000086" stroke="#2a2a2a" stroke-width="0.35"/>
<circle cx="223.9" cy="247.4" r="2" fill="#000086" stroke="#2a2a2a" stroke-width="0.35"/>
<circle cx="238.4" cy="245.3" r="2" fill="#000086" stroke="#2a2a2a" stroke-width="0.35"/>
<circle cx="250.6" cy="247.9" r="2" fill="#000086" stroke="#2a2a2a" stroke-width="0.35"/>
<circle cx="255.9" cy="247.4" r="2" fill="#000086" stroke="#2a2a2a" stroke-width="0.35"/>
<circle cx="313.7" cy="249.5" r="2" fill="#000086" stroke="#2a2a2a" stroke-width="0.35"/>
<circle cx="182" cy="241" r="2" fill="#000086" stroke="#2a2a2a" stroke-width="0.35"/>
<circle cx="184" cy="243.5" r="2" fill="#000086" stroke="#2a2a2a" stroke-width="0.35"/>
<circle cx="188.5" cy="240" r="2" fill="#000086" stroke="#2a2a2a" stroke-width="0.35"/>
<circle cx="190" cy="244" r="2" fill="#000086" stroke="#2a2a2a" stroke-width="0.35"/>
<circle cx="178.5" cy="245" r="2" fill="#000086" stroke="#2a2a2a" stroke-width="0.35"/>
<circle cx="92.4" cy="257.5" r="2" fill="#000086" stroke="#2a2a2a" stroke-width="0.35"/>
<circle cx="92.5" cy="253" r="2" fill="#000086" stroke="#2a2a2a" stroke-width="0.35"/>
<circle cx="91" cy="249" r="2" fill="#000086" stroke="#2a2a2a" stroke-width="0.35"/>
<circle cx="103" cy="246" r="2" fill="#000086" stroke="#2a2a2a" stroke-width="0.35"/>
<circle cx="104.5" cy="250" r="2" fill="#000086" stroke="#2a2a2a" stroke-width="0.35"/>
<circle cx="111" cy="247" r="2" fill="#000086" stroke="#2a2a2a" stroke-width="0.35"/>
<circle cx="80" cy="246.5" r="2" fill="#000086" stroke="#2a2a2a" stroke-width="0.35"/>
<circle cx="84" cy="247.5" r="2" fill="#000086" stroke="#2a2a2a" stroke-width="0.35"/>
<circle cx="229" cy="248" r="2" fill="#000086" stroke="#2a2a2a" stroke-width="0.35"/>
<circle cx="234" cy="247" r="2" fill="#000086" stroke="#2a2a2a" stroke-width="0.35"/>
<circle cx="262" cy="248.5" r="2" fill="#000086" stroke="#2a2a2a" stroke-width="0.35"/>
<circle cx="270" cy="249" r="2" fill="#000086" stroke="#2a2a2a" stroke-width="0.35"/>
<circle cx="282" cy="249.5" r="2" fill="#000086" stroke="#2a2a2a" stroke-width="0.35"/>
<circle cx="290" cy="249" r="2" fill="#000086" stroke="#2a2a2a" stroke-width="0.35"/>
<circle cx="298" cy="249" r="2" fill="#000086" stroke="#2a2a2a" stroke-width="0.35"/>
<circle cx="306" cy="249.5" r="2" fill="#000086" stroke="#2a2a2a" stroke-width="0.35"/>
<circle cx="318" cy="250.5" r="2" fill="#000086" stroke="#2a2a2a" stroke-width="0.35"/>
<circle cx="130" cy="247.5" r="2" fill="#000086" stroke="#2a2a2a" stroke-width="0.35"/>
<circle cx="140" cy="247.5" r="2" fill="#000086" stroke="#2a2a2a" stroke-width="0.35"/>
<circle cx="120" cy="247" r="2" fill="#000086" stroke="#2a2a2a" stroke-width="0.35"/>
<circle cx="145" cy="246.5" r="2" fill="#000086" stroke="#2a2a2a" stroke-width="0.35"/>
<circle cx="155" cy="245.5" r="2" fill="#000086" stroke="#2a2a2a" stroke-width="0.35"/>
<circle cx="166" cy="245.5" r="2" fill="#000086" stroke="#2a2a2a" stroke-width="0.35"/>
<circle cx="209" cy="247" r="2" fill="#000086" stroke="#2a2a2a" stroke-width="0.35"/>
<circle cx="215" cy="247.5" r="2" fill="#000086" stroke="#2a2a2a" stroke-width="0.35"/>
<circle cx="92.3" cy="239.8" r="2" fill="#8c8c8c" stroke="#2a2a2a" stroke-width="0.35"/>
<circle cx="162.6" cy="227" r="2" fill="#000086" stroke="#2a2a2a" stroke-width="0.35"/>
<circle cx="182.5" cy="211.4" r="2.05" fill="#8c8c8c" stroke="#2a2a2a" stroke-width="0.35"/>
<circle cx="183.3" cy="198.2" r="2.05" fill="#8c8c8c" stroke="#2a2a2a" stroke-width="0.35"/>
<circle cx="184" cy="203.4" r="2.05" fill="#87cefa" stroke="#2a2a2a" stroke-width="0.35"/>
<circle cx="186.2" cy="188.5" r="2.05" fill="#87cefa" stroke="#2a2a2a" stroke-width="0.35"/>
<circle cx="182.6" cy="186.2" r="2.05" fill="#87cefa" stroke="#2a2a2a" stroke-width="0.35"/>
<circle cx="185.5" cy="181.5" r="2.05" fill="#87cefa" stroke="#2a2a2a" stroke-width="0.35"/>
<circle cx="181.8" cy="179.6" r="2.05" fill="#87cefa" stroke="#2a2a2a" stroke-width="0.35"/>
<circle cx="185.3" cy="172.7" r="2.05" fill="#00ee00" stroke="#2a2a2a" stroke-width="0.35"/>
<circle cx="185.3" cy="168.6" r="2.05" fill="#00ee00" stroke="#2a2a2a" stroke-width="0.35"/>
<circle cx="182" cy="166.8" r="2.05" fill="#87cefa" stroke="#2a2a2a" stroke-width="0.35"/>
<circle cx="185.3" cy="163.9" r="2.05" fill="#00ee00" stroke="#2a2a2a" stroke-width="0.35"/>
<circle cx="182.5" cy="152.5" r="2.05" fill="#87cefa" stroke="#2a2a2a" stroke-width="0.35"/>
<circle cx="181.8" cy="152.2" r="2.05" fill="#00ee00" stroke="#2a2a2a" stroke-width="0.35"/>
<circle cx="185" cy="158.6" r="2.05" fill="#00ee00" stroke="#2a2a2a" stroke-width="0.35"/>
<circle cx="182.7" cy="128.8" r="2.05" fill="#ffa500" stroke="#2a2a2a" stroke-width="0.35"/>
<circle cx="184.3" cy="106.2" r="2.05" fill="#8c8c8c" stroke="#2a2a2a" stroke-width="0.35"/>
<circle cx="183.9" cy="109.2" r="2.05" fill="#ffa500" stroke="#2a2a2a" stroke-width="0.35"/>
<circle cx="182.3" cy="99.8" r="2.05" fill="#ffa500" stroke="#2a2a2a" stroke-width="0.35"/>
<circle cx="185.5" cy="87.3" r="2.05" fill="#00ee00" stroke="#2a2a2a" stroke-width="0.35"/>
<circle cx="185.2" cy="79.2" r="2.05" fill="#ff0000" stroke="#2a2a2a" stroke-width="0.35"/>
<circle cx="183.3" cy="73.5" r="2.05" fill="#ff0000" stroke="#2a2a2a" stroke-width="0.35"/>
<circle cx="186" cy="74.8" r="2.05" fill="#ff0000" stroke="#2a2a2a" stroke-width="0.35"/>
<circle cx="185.8" cy="70.2" r="2.05" fill="#ff0000" stroke="#2a2a2a" stroke-width="0.35"/>
<circle cx="185.5" cy="65.8" r="2.05" fill="#ff0000" stroke="#2a2a2a" stroke-width="0.35"/>
<circle cx="184.8" cy="65" r="2.05" fill="#ff0000" stroke="#2a2a2a" stroke-width="0.35"/>
<circle cx="185.2" cy="61" r="2.05" fill="#8b3bcf" stroke="#2a2a2a" stroke-width="0.35"/>
<text x="190.1" y="58.6" font-size="7.8" fill="#252525" text-anchor="middle">rs6075339</text>
<rect x="283.9" y="59.1" width="9" height="10.74" fill="#ff0000"/>
<rect x="283.9" y="69.84" width="9" height="10.74" fill="#ffa500"/>
<rect x="283.9" y="80.58" width="9" height="10.74" fill="#00ee00"/>
<rect x="283.9" y="91.32" width="9" height="10.74" fill="#87cefa"/>
<rect x="283.9" y="102.06" width="9" height="10.74" fill="#000080"/>
<rect x="283.9" y="59.1" width="9" height="53.7" fill="none" stroke="#222" stroke-width="0.5"/>
<line x1="283.9" y1="69.84" x2="292.9" y2="69.84" stroke="#222" stroke-width="0.4"/>
<line x1="283.9" y1="80.58" x2="292.9" y2="80.58" stroke="#222" stroke-width="0.4"/>
<line x1="283.9" y1="91.32" x2="292.9" y2="91.32" stroke="#222" stroke-width="0.4"/>
<line x1="283.9" y1="102.06" x2="292.9" y2="102.06" stroke="#222" stroke-width="0.4"/>
<line x1="292.9" y1="69.84" x2="297.4" y2="69.84" stroke="#555" stroke-width="0.6"/>
<text x="300.1" y="72.44" font-size="7.5" fill="#252525">0.8</text>
<line x1="292.9" y1="80.58" x2="297.4" y2="80.58" stroke="#555" stroke-width="0.6"/>
<text x="300.1" y="83.18" font-size="7.5" fill="#252525">0.6</text>
<line x1="292.9" y1="91.32" x2="297.4" y2="91.32" stroke="#555" stroke-width="0.6"/>
<text x="300.1" y="93.92" font-size="7.5" fill="#252525">0.4</text>
<line x1="292.9" y1="102.06" x2="297.4" y2="102.06" stroke="#555" stroke-width="0.6"/>
<text x="300.1" y="104.66" font-size="7.5" fill="#252525">0.2</text>
<text x="285.9" y="55.3" font-size="8.6" fill="#252525" font-style="italic">r<tspan font-size="5.8" dy="-3.4" font-style="normal">2</tspan></text>
<rect x="48.5" y="277.5" width="276" height="48.5" fill="none" stroke="#7a7a7a" stroke-width="0.9"/>
<line x1="51.4" y1="282.3" x2="55.4" y2="282.3" stroke="#222" stroke-width="0.5"/>
<path d="M50.5 282.3 l2 -1 v2 z" fill="#222"/>
<text x="56.2" y="283.6" font-size="5" fill="#3a3a3a" font-style="italic">NSFL1C</text>
<line x1="56" y1="286.2" x2="64.3" y2="286.2" stroke="#1010b0" stroke-width="0.5"/>
<rect x="55.95" y="285.2" width="1.1" height="2" fill="#1010b0"/>
<rect x="57.45" y="285.2" width="1.1" height="2" fill="#1010b0"/>
<rect x="58.95" y="285.2" width="1.1" height="2" fill="#1010b0"/>
<rect x="60.45" y="285.2" width="1.1" height="2" fill="#1010b0"/>
<rect x="61.95" y="285.2" width="1.1" height="2" fill="#1010b0"/>
<rect x="63.45" y="285.2" width="1.1" height="2" fill="#1010b0"/>
<line x1="86.2" y1="282.3" x2="90.2" y2="282.3" stroke="#222" stroke-width="0.5"/>
<path d="M85.3 282.3 l2 -1 v2 z" fill="#222"/>
<text x="91" y="283.6" font-size="5" fill="#3a3a3a" font-style="italic">SIRPB1</text>
<line x1="90" y1="286.2" x2="106.4" y2="286.2" stroke="#1010b0" stroke-width="0.5"/>
<rect x="89.95" y="285.2" width="1.1" height="2" fill="#1010b0"/>
<rect x="91.45" y="285.2" width="1.1" height="2" fill="#1010b0"/>
<rect x="92.95" y="285.2" width="1.1" height="2" fill="#1010b0"/>
<rect x="94.45" y="285.2" width="1.1" height="2" fill="#1010b0"/>
<rect x="99.45" y="285.2" width="1.1" height="2" fill="#1010b0"/>
<rect x="100.95" y="285.2" width="1.1" height="2" fill="#1010b0"/>
<rect x="102.45" y="285.2" width="1.1" height="2" fill="#1010b0"/>
<rect x="103.95" y="285.2" width="1.1" height="2" fill="#1010b0"/>
<rect x="105.45" y="285.2" width="1.1" height="2" fill="#1010b0"/>
<line x1="127.7" y1="282.3" x2="131.7" y2="282.3" stroke="#222" stroke-width="0.5"/>
<path d="M126.8 282.3 l2 -1 v2 z" fill="#222"/>
<text x="132.5" y="283.6" font-size="5.5" fill="#3a3a3a" font-style="italic">LOC100289473</text>
<line x1="148.3" y1="286.2" x2="148.8" y2="286.2" stroke="#1010b0" stroke-width="0.5"/>
<rect x="147.95" y="285.2" width="1.1" height="2" fill="#1010b0"/>
<text x="177.5" y="283.6" font-size="5" fill="#3a3a3a" font-style="italic">SIRPA</text>
<line x1="192.93" y1="282.3" x2="197.13" y2="282.3" stroke="#222" stroke-width="0.5"/>
<path d="M198.53 282.3 l-2 -1 v2 z" fill="#222"/>
<line x1="181" y1="286.2" x2="195" y2="286.2" stroke="#1010b0" stroke-width="0.5"/>
<rect x="180.95" y="285.2" width="1.1" height="2" fill="#1010b0"/>
<rect x="185.45" y="285.2" width="1.1" height="2" fill="#1010b0"/>
<rect x="188.45" y="285.2" width="1.1" height="2" fill="#1010b0"/>
<rect x="190.45" y="285.2" width="1.1" height="2" fill="#1010b0"/>
<rect x="192.45" y="285.2" width="1.1" height="2" fill="#1010b0"/>
<rect x="193.95" y="285.2" width="1.1" height="2" fill="#1010b0"/>
<text x="235" y="283.6" font-size="5" fill="#3a3a3a" font-style="italic">STK35</text>
<line x1="251.09" y1="282.3" x2="255.29" y2="282.3" stroke="#222" stroke-width="0.5"/>
<path d="M256.69 282.3 l-2 -1 v2 z" fill="#222"/>
<line x1="238" y1="286.2" x2="252" y2="286.2" stroke="#1010b0" stroke-width="0.5"/>
<rect x="237.95" y="285.2" width="1.1" height="2" fill="#1010b0"/>
<rect x="240.95" y="285.2" width="1.1" height="2" fill="#1010b0"/>
<rect x="244.45" y="285.2" width="1.1" height="2" fill="#1010b0"/>
<rect x="250.95" y="285.2" width="1.1" height="2" fill="#1010b0"/>
<text x="288.7" y="283.6" font-size="5" fill="#3a3a3a" font-style="italic">TGM3</text>
<line x1="303.39" y1="282.3" x2="307.59" y2="282.3" stroke="#222" stroke-width="0.5"/>
<path d="M308.99 282.3 l-2 -1 v2 z" fill="#222"/>
<line x1="292" y1="286.2" x2="305" y2="286.2" stroke="#1010b0" stroke-width="0.5"/>
<rect x="291.95" y="285.2" width="1.1" height="2" fill="#1010b0"/>
<rect x="295.45" y="285.2" width="1.1" height="2" fill="#1010b0"/>
<rect x="297.45" y="285.2" width="1.1" height="2" fill="#1010b0"/>
<rect x="299.45" y="285.2" width="1.1" height="2" fill="#1010b0"/>
<rect x="301.45" y="285.2" width="1.1" height="2" fill="#1010b0"/>
<rect x="303.95" y="285.2" width="1.1" height="2" fill="#1010b0"/>
<line x1="55.7" y1="294.8" x2="59.7" y2="294.8" stroke="#222" stroke-width="0.5"/>
<path d="M54.8 294.8 l2 -1 v2 z" fill="#222"/>
<text x="60.5" y="296.1" font-size="5" fill="#3a3a3a" font-style="italic">SIRPB2</text>
<line x1="65.2" y1="298.7" x2="70.9" y2="298.7" stroke="#1010b0" stroke-width="0.5"/>
<rect x="65.15" y="297.7" width="1.1" height="2" fill="#1010b0"/>
<rect x="66.45" y="297.7" width="1.1" height="2" fill="#1010b0"/>
<rect x="69.85" y="297.7" width="1.1" height="2" fill="#1010b0"/>
<line x1="101.2" y1="294.8" x2="105.2" y2="294.8" stroke="#222" stroke-width="0.5"/>
<path d="M100.3 294.8 l2 -1 v2 z" fill="#222"/>
<text x="106" y="296.1" font-size="5" fill="#3a3a3a" font-style="italic">SIRPG</text>
<line x1="108" y1="298.7" x2="116.9" y2="298.7" stroke="#1010b0" stroke-width="0.5"/>
<rect x="107.95" y="297.7" width="1.1" height="2" fill="#1010b0"/>
<rect x="110.45" y="297.7" width="1.1" height="2" fill="#1010b0"/>
<rect x="112.95" y="297.7" width="1.1" height="2" fill="#1010b0"/>
<rect x="115.85" y="297.7" width="1.1" height="2" fill="#1010b0"/>
<line x1="197.2" y1="294.8" x2="201.2" y2="294.8" stroke="#222" stroke-width="0.5"/>
<path d="M196.3 294.8 l2 -1 v2 z" fill="#222"/>
<text x="202" y="296.1" font-size="5" fill="#3a3a3a" font-style="italic">PDYN</text>
<line x1="204" y1="298.7" x2="210" y2="298.7" stroke="#1010b0" stroke-width="0.5"/>
<rect x="203.95" y="297.7" width="1.1" height="2" fill="#1010b0"/>
<rect x="205.45" y="297.7" width="1.1" height="2" fill="#1010b0"/>
<rect x="208.95" y="297.7" width="1.1" height="2" fill="#1010b0"/>
<text x="251.8" y="296.1" font-size="5.5" fill="#3a3a3a" font-style="italic">LOC388780</text>
<line x1="282.26" y1="294.8" x2="286.46" y2="294.8" stroke="#222" stroke-width="0.5"/>
<path d="M287.86 294.8 l-2 -1 v2 z" fill="#222"/>
<line x1="268.3" y1="298.7" x2="268.8" y2="298.7" stroke="#1010b0" stroke-width="0.5"/>
<rect x="267.95" y="297.7" width="1.1" height="2" fill="#1010b0"/>
<text x="302.7" y="296.1" font-size="5" fill="#3a3a3a" font-style="italic">TGM6</text>
<line x1="317.39" y1="294.8" x2="321.59" y2="294.8" stroke="#222" stroke-width="0.5"/>
<path d="M322.99 294.8 l-2 -1 v2 z" fill="#222"/>
<line x1="316" y1="298.7" x2="324" y2="298.7" stroke="#1010b0" stroke-width="0.5"/>
<rect x="315.95" y="297.7" width="1.1" height="2" fill="#1010b0"/>
<rect x="319.45" y="297.7" width="1.1" height="2" fill="#1010b0"/>
<rect x="320.95" y="297.7" width="1.1" height="2" fill="#1010b0"/>
<rect x="322.45" y="297.7" width="1.1" height="2" fill="#1010b0"/>
<line x1="74.6" y1="306.9" x2="78.6" y2="306.9" stroke="#222" stroke-width="0.5"/>
<path d="M73.7 306.9 l2 -1 v2 z" fill="#222"/>
<text x="79.4" y="308.2" font-size="5" fill="#3a3a3a" font-style="italic">SIRPD</text>
<line x1="81.8" y1="310.7" x2="89" y2="310.7" stroke="#1010b0" stroke-width="0.5"/>
<rect x="81.75" y="309.7" width="1.1" height="2" fill="#1010b0"/>
<rect x="83.95" y="309.7" width="1.1" height="2" fill="#1010b0"/>
<rect x="85.95" y="309.7" width="1.1" height="2" fill="#1010b0"/>
<rect x="87.95" y="309.7" width="1.1" height="2" fill="#1010b0"/>
<text x="90.6" y="321" font-size="5.5" fill="#3a3a3a" font-style="italic">LOC101929010</text>
<line x1="130.24" y1="319.7" x2="134.44" y2="319.7" stroke="#222" stroke-width="0.5"/>
<path d="M135.84 319.7 l-2 -1 v2 z" fill="#222"/>
<line x1="109" y1="323.6" x2="114" y2="323.6" stroke="#1010b0" stroke-width="0.5"/>
<rect x="108.95" y="322.6" width="1.1" height="2" fill="#1010b0"/>
<rect x="110.95" y="322.6" width="1.1" height="2" fill="#1010b0"/>
<rect x="112.95" y="322.6" width="1.1" height="2" fill="#1010b0"/>
<line x1="50.6" y1="326.6" x2="50.6" y2="332" stroke="#7a7a7a" stroke-width="0.7"/>
<text x="50.6" y="342" font-size="7.3" fill="#252525" text-anchor="middle">1.4</text>
<line x1="105.5" y1="326.6" x2="105.5" y2="332" stroke="#7a7a7a" stroke-width="0.7"/>
<text x="105.5" y="342" font-size="7.3" fill="#252525" text-anchor="middle">1.6</text>
<line x1="160.4" y1="326.6" x2="160.4" y2="332" stroke="#7a7a7a" stroke-width="0.7"/>
<text x="160.4" y="342" font-size="7.3" fill="#252525" text-anchor="middle">1.8</text>
<line x1="216.2" y1="326.6" x2="216.2" y2="332" stroke="#7a7a7a" stroke-width="0.7"/>
<text x="216.2" y="342" font-size="7.3" fill="#252525" text-anchor="middle">2.0</text>
<line x1="271.1" y1="326.6" x2="271.1" y2="332" stroke="#7a7a7a" stroke-width="0.7"/>
<text x="271.1" y="342" font-size="7.3" fill="#252525" text-anchor="middle">2.2</text>
<text x="186.9" y="355.9" font-size="9" fill="#252525" text-anchor="middle">Position on chromosome 20 (Mb)</text>
<text x="358" y="9.6" font-size="14.6" fill="#000" font-weight="bold">b</text>
<text x="360.3" y="20.9" font-size="7.5" fill="#252525">Plotted SNPs</text>
<rect x="408.8" y="15.4" width="19.6" height="5.5" fill="#4d4d4d"/>
<rect x="429.4" y="15.4" width="1.6" height="5.5" fill="#4d4d4d"/>
<rect x="431.9" y="15.4" width="1.5" height="5.5" fill="#4d4d4d"/>
<rect x="440" y="15.4" width="1.1" height="5.5" fill="#4d4d4d"/>
<rect x="442.2" y="15.4" width="243.3" height="5.5" fill="#4d4d4d"/>
<rect x="435" y="15.4" width="2.6" height="5.5" fill="#a8a8a8"/>
<line x1="488.3" y1="15.4" x2="488.3" y2="20.9" stroke="#6a6a6a" stroke-width="0.5"/>
<line x1="493.8" y1="15.4" x2="493.8" y2="20.9" stroke="#6a6a6a" stroke-width="0.5"/>
<rect x="408.5" y="29.5" width="276" height="252" fill="none" stroke="#7a7a7a" stroke-width="0.95"/>
<line x1="402.5" y1="270.3" x2="408.5" y2="270.3" stroke="#7a7a7a" stroke-width="0.7"/>
<text x="399" y="272.9" font-size="7.3" fill="#252525" text-anchor="end">0</text>
<line x1="402.5" y1="226.16" x2="408.5" y2="226.16" stroke="#7a7a7a" stroke-width="0.7"/>
<text x="399" y="228.76" font-size="7.3" fill="#252525" text-anchor="end">2</text>
<line x1="402.5" y1="182.02" x2="408.5" y2="182.02" stroke="#7a7a7a" stroke-width="0.7"/>
<text x="399" y="184.62" font-size="7.3" fill="#252525" text-anchor="end">4</text>
<line x1="402.5" y1="137.88" x2="408.5" y2="137.88" stroke="#7a7a7a" stroke-width="0.7"/>
<text x="399" y="140.48" font-size="7.3" fill="#252525" text-anchor="end">6</text>
<line x1="402.5" y1="93.74" x2="408.5" y2="93.74" stroke="#7a7a7a" stroke-width="0.7"/>
<text x="399" y="96.34" font-size="7.3" fill="#252525" text-anchor="end">8</text>
<line x1="402.5" y1="49.6" x2="408.5" y2="49.6" stroke="#7a7a7a" stroke-width="0.7"/>
<text x="399" y="52.2" font-size="7.3" fill="#252525" text-anchor="end">10</text>
<text transform="translate(379.9 155.3) rotate(-90)" font-size="9" fill="#252525" text-anchor="middle">&#8722;log<tspan font-size="6.12" dy="2.52">10</tspan><tspan dy="-2.52">(</tspan><tspan font-style="italic">P</tspan>)</text>
<defs><pattern id="mesh" width="3.2" height="3" patternUnits="userSpaceOnUse"><rect width="3.2" height="3" fill="#3b3b36"/><circle cx="0.8" cy="0.75" r="0.85" fill="#0a0a78"/><circle cx="2.4" cy="2.25" r="0.85" fill="#0a0a78"/></pattern></defs>
<path d="M409.3 272.1 L409.3 242.62 L410.6 241.75 L411.9 244.25 L413.2 241.36 L414.5 243.68 L415.8 242.83 L417.1 241.29 L418.4 243.54 L419.7 241.19 L421 243.17 L422.3 241.35 L423.6 241.45 L424.9 243.12 L426.2 245.13 L427.5 242.72 L428.8 246.08 L430.1 250.96 L431.4 255.42 L432.7 256.43 L433.8 260.96 L433.8 272.1 Z" fill="url(#mesh)"/>
<path d="M440.6 272.1 L440.6 271.5 L441.9 246.88 L443.2 242.23 L444.5 246.29 L445.8 243.45 L447.1 242.72 L448.4 242.59 L449.7 243.54 L451 246.08 L452.3 242.9 L453.6 244.91 L454.9 245.19 L456.2 243.86 L457.5 244.74 L458.8 242.31 L460.1 242.3 L461.4 243.03 L462.7 245.4 L464 244.14 L465.3 243.57 L466.6 244.93 L467.9 244.27 L469.2 243.5 L470.5 245.97 L471.8 245.49 L473.1 243.22 L474.4 244.87 L475.7 244.63 L477 246.38 L478.3 245.65 L479.6 243.44 L480.9 246.9 L482.2 242.59 L483.5 244.09 L484.8 245.79 L486.1 242.76 L487.4 244.44 L488.7 242.2 L490 245.34 L491.3 245.82 L492.6 244.87 L493.9 246.38 L495.2 243.57 L496.5 245.48 L497.8 244.97 L499.1 244.9 L500.4 244.28 L501.7 246.2 L503 246.72 L504.3 244.37 L505.6 245.32 L506.9 242.3 L508.2 245.51 L509.5 245.24 L510.8 246.97 L512.1 246.11 L513.4 243.42 L514.7 243.93 L516 245.34 L517.3 242.11 L518.6 244.31 L519.9 242.84 L521.2 242.59 L522.5 242.29 L523.8 245.84 L525.1 242.65 L526.4 243.24 L527.7 243.95 L529 246.36 L530.3 242.4 L531.6 244.25 L532.9 244.75 L534.2 246.42 L535.5 246.1 L536.8 246.32 L538.1 243.39 L539.4 244.08 L540.7 243.79 L542 246.42 L543.3 246.79 L544.6 242.75 L545.9 242.88 L547.2 243.16 L548.5 243.17 L549.8 244.42 L551.1 244.95 L552.4 243.31 L553.7 242.02 L555 244.09 L556.3 243.85 L557.6 244.83 L558.9 246.77 L560.2 243.95 L561.5 243.08 L562.8 243.59 L564.1 243.88 L565.4 240.77 L566.7 245 L568 244.4 L569.3 244.87 L570.6 244.49 L571.9 242.46 L573.2 242.49 L574.5 241.02 L575.8 243.67 L577.1 240.81 L578.4 240.84 L579.7 241.54 L581 241.31 L582.3 242.2 L583.6 240.76 L584.9 240.5 L586.2 241.26 L587.5 241.01 L588.8 242.32 L590.1 240.63 L591.4 244.87 L592.7 243.57 L594 241.24 L595.3 241.76 L596.6 242.24 L597.9 242.32 L599.2 241.11 L600.5 244.74 L601.8 245.47 L603.1 242.83 L604.4 242.92 L605.7 240.93 L607 241.01 L608.3 242.21 L609.6 241.82 L610.9 244.64 L612.2 241.31 L613.5 240.62 L614.8 245.25 L616.1 243.14 L617.4 241.23 L618.7 243.22 L620 240.64 L621.3 243.14 L622.6 245.39 L623.9 244.82 L625.2 243.98 L626.5 241.81 L627.8 242.33 L629.1 241.34 L630.4 244.36 L631.7 243.16 L633 244.4 L634.3 242.15 L635.6 241.62 L636.9 244.56 L638.2 245.42 L639.5 244.76 L640.8 245.53 L642.1 245.59 L643.4 245.2 L644.7 242.63 L646 244.09 L647.3 243.28 L648.6 241.64 L649.9 241.64 L651.2 242.9 L652.5 242.8 L653.8 244.96 L655.1 246.28 L656.4 243.74 L657.7 246.19 L659 246.44 L660.3 246.28 L661.6 243.32 L662.9 242.6 L664.2 242.63 L665.5 242.48 L666.8 242.52 L668.1 244.62 L669.4 246 L670.7 245.7 L672 243.9 L673.3 244.76 L674.6 245.5 L675.9 241.92 L677.2 244.8 L678.5 246.05 L679.8 245.41 L681.1 245.25 L682.4 243.89 L683.7 242.39 L684 246.5 L684 272.1 Z" fill="url(#mesh)"/>
<g fill="#000086" stroke="#2a2a2a" stroke-width="0.45"><circle cx="428.28" cy="242.9" r="2.1"/><circle cx="428.54" cy="268.28" r="2.1"/><circle cx="419.47" cy="241.6" r="2.1"/><circle cx="431.81" cy="258.56" r="2.1"/><circle cx="414.41" cy="238.23" r="2.1"/><circle cx="413.99" cy="263.33" r="2.1"/><circle cx="428.67" cy="241.95" r="2.1"/><circle cx="429.11" cy="268.92" r="2.1"/><circle cx="425.32" cy="240.6" r="2.1"/><circle cx="422.89" cy="238.25" r="2.1"/><circle cx="410.92" cy="268" r="2.1"/><circle cx="425.15" cy="244.91" r="2.1"/><circle cx="431.51" cy="250.93" r="2.1"/><circle cx="430.13" cy="260.89" r="2.1"/><circle cx="415.33" cy="239.18" r="2.1"/><circle cx="417.16" cy="239.05" r="2.1"/><circle cx="423.74" cy="239.26" r="2.1"/><circle cx="419.99" cy="238.25" r="2.1"/><circle cx="430.98" cy="248.7" r="2.1"/><circle cx="420.86" cy="246.83" r="2.1"/><circle cx="430.86" cy="249.45" r="2.1"/><circle cx="431.16" cy="251.55" r="2.1"/><circle cx="422.51" cy="244.81" r="2.1"/><circle cx="411.02" cy="242.49" r="2.1"/><circle cx="414.7" cy="238" r="2.1"/><circle cx="428.5" cy="241.73" r="2.1"/><circle cx="421.21" cy="252.89" r="2.1"/><circle cx="423.07" cy="240.19" r="2.1"/><circle cx="422.21" cy="245.85" r="2.1"/><circle cx="428.17" cy="240.7" r="2.1"/><circle cx="423.15" cy="239.14" r="2.1"/><circle cx="416.8" cy="255.32" r="2.1"/><circle cx="421.97" cy="246.07" r="2.1"/><circle cx="427.62" cy="264.12" r="2.1"/><circle cx="420.53" cy="247.93" r="2.1"/><circle cx="421.92" cy="244.46" r="2.1"/><circle cx="426.12" cy="242.8" r="2.1"/><circle cx="422.55" cy="243.48" r="2.1"/><circle cx="431.69" cy="257.59" r="2.1"/><circle cx="430.23" cy="266.86" r="2.1"/><circle cx="416.41" cy="245.99" r="2.1"/><circle cx="431.73" cy="262.75" r="2.1"/><circle cx="413.67" cy="238.21" r="2.1"/><circle cx="420.5" cy="238.06" r="2.1"/><circle cx="415.99" cy="238.06" r="2.1"/><circle cx="425.6" cy="255.95" r="2.1"/><circle cx="430.69" cy="246.4" r="2.1"/><circle cx="426.64" cy="249.89" r="2.1"/><circle cx="413.8" cy="261.88" r="2.1"/><circle cx="432.27" cy="250.14" r="2.1"/><circle cx="431.94" cy="251.2" r="2.1"/><circle cx="421.51" cy="269.42" r="2.1"/><circle cx="429.25" cy="243.29" r="2.1"/><circle cx="420.27" cy="244.57" r="2.1"/><circle cx="418.2" cy="238.64" r="2.1"/><circle cx="417.73" cy="252.74" r="2.1"/><circle cx="411.04" cy="245.81" r="2.1"/><circle cx="420.47" cy="238" r="2.1"/><circle cx="418.03" cy="248.38" r="2.1"/><circle cx="422.07" cy="238.04" r="2.1"/><circle cx="432.67" cy="261.62" r="2.1"/><circle cx="432.37" cy="249.9" r="2.1"/><circle cx="416.55" cy="238.01" r="2.1"/><circle cx="428.05" cy="241.6" r="2.1"/><circle cx="413.5" cy="242.07" r="2.1"/><circle cx="431.02" cy="261.3" r="2.1"/><circle cx="416.39" cy="238.34" r="2.1"/><circle cx="431.19" cy="253.2" r="2.1"/><circle cx="426.29" cy="238.1" r="2.1"/><circle cx="411.89" cy="251.13" r="2.1"/><circle cx="420.13" cy="238.06" r="2.1"/><circle cx="667.97" cy="249.14" r="2.1"/><circle cx="635.07" cy="237.59" r="2.1"/><circle cx="648.21" cy="238.55" r="2.1"/><circle cx="649.78" cy="243.26" r="2.1"/><circle cx="523.8" cy="246.53" r="2.1"/><circle cx="665.16" cy="239.84" r="2.1"/><circle cx="473.29" cy="245.7" r="2.1"/><circle cx="499.57" cy="239.15" r="2.1"/><circle cx="481.04" cy="239.02" r="2.1"/><circle cx="490.75" cy="240.91" r="2.1"/><circle cx="515.58" cy="255.12" r="2.1"/><circle cx="511.96" cy="244.91" r="2.1"/><circle cx="485" cy="241.46" r="2.1"/><circle cx="446.57" cy="240.12" r="2.1"/><circle cx="445.89" cy="253.81" r="2.1"/><circle cx="574.78" cy="238.1" r="2.1"/><circle cx="556.43" cy="265.53" r="2.1"/><circle cx="467.77" cy="258.32" r="2.1"/><circle cx="546.18" cy="244.77" r="2.1"/><circle cx="643.01" cy="241.87" r="2.1"/><circle cx="564.11" cy="250.82" r="2.1"/><circle cx="678.58" cy="240.93" r="2.1"/><circle cx="642.45" cy="252.28" r="2.1"/><circle cx="595.22" cy="241.23" r="2.1"/><circle cx="525.82" cy="239.03" r="2.1"/><circle cx="473.43" cy="239.05" r="2.1"/><circle cx="620.46" cy="238.74" r="2.1"/><circle cx="481.48" cy="239.08" r="2.1"/><circle cx="644.61" cy="261.23" r="2.1"/><circle cx="603.53" cy="239.07" r="2.1"/><circle cx="500.48" cy="240.64" r="2.1"/><circle cx="552.74" cy="239.37" r="2.1"/><circle cx="549.47" cy="240.27" r="2.1"/><circle cx="673.61" cy="268.16" r="2.1"/><circle cx="573.83" cy="238.61" r="2.1"/><circle cx="674.54" cy="240.4" r="2.1"/><circle cx="527.99" cy="239" r="2.1"/><circle cx="534.02" cy="244.22" r="2.1"/><circle cx="563.17" cy="238.2" r="2.1"/><circle cx="563.64" cy="237.5" r="2.1"/><circle cx="505.76" cy="239.1" r="2.1"/><circle cx="538.32" cy="239.02" r="2.1"/><circle cx="447.61" cy="240.79" r="2.1"/><circle cx="498.21" cy="247.64" r="2.1"/><circle cx="569.52" cy="253.92" r="2.1"/><circle cx="600.41" cy="252.17" r="2.1"/><circle cx="653.71" cy="241.8" r="2.1"/><circle cx="520.67" cy="269.07" r="2.1"/><circle cx="478.16" cy="253.38" r="2.1"/><circle cx="596.96" cy="237.52" r="2.1"/><circle cx="643.17" cy="262.59" r="2.1"/><circle cx="593.14" cy="253.06" r="2.1"/><circle cx="637.62" cy="237.79" r="2.1"/><circle cx="568.22" cy="243.83" r="2.1"/><circle cx="643.09" cy="257.32" r="2.1"/><circle cx="641.03" cy="247.22" r="2.1"/><circle cx="657.01" cy="251.19" r="2.1"/><circle cx="609.01" cy="238.46" r="2.1"/><circle cx="449.7" cy="239.25" r="2.1"/><circle cx="528.99" cy="239.14" r="2.1"/><circle cx="643.3" cy="246.33" r="2.1"/><circle cx="593.24" cy="248.13" r="2.1"/><circle cx="605.97" cy="243.38" r="2.1"/><circle cx="443" cy="257.14" r="2.1"/><circle cx="622.23" cy="243.78" r="2.1"/><circle cx="570.97" cy="249.53" r="2.1"/><circle cx="458.09" cy="253.99" r="2.1"/><circle cx="502.88" cy="239.06" r="2.1"/><circle cx="506.09" cy="253.63" r="2.1"/><circle cx="491.58" cy="254.14" r="2.1"/><circle cx="676.96" cy="244.33" r="2.1"/><circle cx="534.24" cy="244.33" r="2.1"/><circle cx="606.7" cy="254.8" r="2.1"/><circle cx="590.64" cy="248.82" r="2.1"/><circle cx="460.84" cy="239.32" r="2.1"/><circle cx="503.3" cy="254.3" r="2.1"/><circle cx="515.44" cy="247.02" r="2.1"/><circle cx="445.2" cy="239.04" r="2.1"/><circle cx="506.87" cy="251.02" r="2.1"/><circle cx="608.74" cy="250.26" r="2.1"/><circle cx="512.18" cy="245.39" r="2.1"/><circle cx="554" cy="244" r="2.1"/><circle cx="470.71" cy="262.82" r="2.1"/><circle cx="490.14" cy="268.59" r="2.1"/><circle cx="667.46" cy="238.5" r="2.1"/><circle cx="552.63" cy="258.37" r="2.1"/><circle cx="675.13" cy="243.15" r="2.1"/><circle cx="506.84" cy="239.74" r="2.1"/><circle cx="669.71" cy="239.25" r="2.1"/><circle cx="582.1" cy="237.8" r="2.1"/><circle cx="568.29" cy="266.61" r="2.1"/><circle cx="474.1" cy="258.39" r="2.1"/><circle cx="564.6" cy="262.01" r="2.1"/><circle cx="611.42" cy="238.47" r="2.1"/><circle cx="658.19" cy="244.11" r="2.1"/><circle cx="448.18" cy="239" r="2.1"/><circle cx="560.5" cy="242.33" r="2.1"/><circle cx="514.85" cy="239.28" r="2.1"/><circle cx="524.96" cy="240.97" r="2.1"/><circle cx="644.36" cy="238.5" r="2.1"/><circle cx="622.83" cy="258.96" r="2.1"/><circle cx="471.08" cy="264.97" r="2.1"/><circle cx="613.75" cy="263" r="2.1"/><circle cx="511.93" cy="241.91" r="2.1"/><circle cx="536.73" cy="270.11" r="2.1"/><circle cx="583.96" cy="240.33" r="2.1"/><circle cx="545.19" cy="240.41" r="2.1"/><circle cx="453.81" cy="239.13" r="2.1"/><circle cx="643.02" cy="240.07" r="2.1"/><circle cx="667.3" cy="239.63" r="2.1"/><circle cx="506.13" cy="245.23" r="2.1"/><circle cx="487.88" cy="241.93" r="2.1"/><circle cx="672.25" cy="262.1" r="2.1"/><circle cx="637.56" cy="248.33" r="2.1"/><circle cx="661.97" cy="265.87" r="2.1"/><circle cx="574.34" cy="252.34" r="2.1"/><circle cx="454.1" cy="253.77" r="2.1"/><circle cx="550.68" cy="254.78" r="2.1"/><circle cx="597.26" cy="239.12" r="2.1"/><circle cx="453.98" cy="265" r="2.1"/><circle cx="472.83" cy="244.15" r="2.1"/><circle cx="524.89" cy="240.7" r="2.1"/><circle cx="620.01" cy="268.37" r="2.1"/><circle cx="504.8" cy="250.34" r="2.1"/><circle cx="514.58" cy="246.67" r="2.1"/><circle cx="537.08" cy="239.43" r="2.1"/><circle cx="481.09" cy="239.72" r="2.1"/><circle cx="660.17" cy="244.42" r="2.1"/><circle cx="495.14" cy="263.64" r="2.1"/><circle cx="681.95" cy="243.16" r="2.1"/><circle cx="475.79" cy="239.6" r="2.1"/><circle cx="464.03" cy="241.38" r="2.1"/><circle cx="464.12" cy="240.01" r="2.1"/><circle cx="504.36" cy="247.08" r="2.1"/><circle cx="655.67" cy="254.38" r="2.1"/><circle cx="541.52" cy="242.76" r="2.1"/><circle cx="568.31" cy="240.64" r="2.1"/><circle cx="523.57" cy="239.04" r="2.1"/><circle cx="508.97" cy="267.83" r="2.1"/><circle cx="472.49" cy="245.01" r="2.1"/><circle cx="593.69" cy="260.45" r="2.1"/><circle cx="494.16" cy="240.36" r="2.1"/><circle cx="501.98" cy="242.46" r="2.1"/><circle cx="549.47" cy="266.86" r="2.1"/><circle cx="646.39" cy="261.38" r="2.1"/><circle cx="447.45" cy="239.01" r="2.1"/><circle cx="612.91" cy="262.6" r="2.1"/><circle cx="556.07" cy="247.69" r="2.1"/><circle cx="442.24" cy="242.29" r="2.1"/><circle cx="665.19" cy="258.51" r="2.1"/><circle cx="648.02" cy="268.13" r="2.1"/><circle cx="501.98" cy="239.15" r="2.1"/><circle cx="479.34" cy="245.57" r="2.1"/><circle cx="606.31" cy="265.79" r="2.1"/><circle cx="615.85" cy="249.02" r="2.1"/><circle cx="626.21" cy="242.5" r="2.1"/><circle cx="574.89" cy="237.51" r="2.1"/><circle cx="630.42" cy="238.49" r="2.1"/><circle cx="663.53" cy="249.59" r="2.1"/><circle cx="515.29" cy="239.22" r="2.1"/><circle cx="502.78" cy="249.54" r="2.1"/><circle cx="610.28" cy="237.67" r="2.1"/><circle cx="459.13" cy="245.63" r="2.1"/><circle cx="582.44" cy="240.87" r="2.1"/><circle cx="495.99" cy="248.2" r="2.1"/><circle cx="444.72" cy="240.76" r="2.1"/><circle cx="553.04" cy="267.21" r="2.1"/><circle cx="597.28" cy="261.81" r="2.1"/><circle cx="556.56" cy="239.96" r="2.1"/><circle cx="501.64" cy="267.33" r="2.1"/><circle cx="611.74" cy="239.43" r="2.1"/><circle cx="447.44" cy="244.86" r="2.1"/><circle cx="604.48" cy="241.58" r="2.1"/><circle cx="504.1" cy="250.82" r="2.1"/><circle cx="664.79" cy="239.4" r="2.1"/><circle cx="450.4" cy="241.31" r="2.1"/><circle cx="543.39" cy="251.48" r="2.1"/><circle cx="489.86" cy="257.1" r="2.1"/><circle cx="620.03" cy="243.84" r="2.1"/><circle cx="491.58" cy="267.99" r="2.1"/><circle cx="517.2" cy="258.38" r="2.1"/><circle cx="497.73" cy="239.84" r="2.1"/><circle cx="625.17" cy="239.25" r="2.1"/><circle cx="671.23" cy="244.38" r="2.1"/><circle cx="487.27" cy="239.85" r="2.1"/><circle cx="542.54" cy="250.73" r="2.1"/><circle cx="670.47" cy="238.81" r="2.1"/><circle cx="536.87" cy="239.76" r="2.1"/><circle cx="676.57" cy="238.79" r="2.1"/><circle cx="454.67" cy="239.04" r="2.1"/><circle cx="536.83" cy="263.11" r="2.1"/><circle cx="654.79" cy="253.53" r="2.1"/><circle cx="682.21" cy="265.24" r="2.1"/><circle cx="521.42" cy="239.55" r="2.1"/><circle cx="667.37" cy="254.21" r="2.1"/><circle cx="449.87" cy="250.7" r="2.1"/><circle cx="533.3" cy="241.94" r="2.1"/><circle cx="522.01" cy="239.44" r="2.1"/><circle cx="442.89" cy="240.47" r="2.1"/><circle cx="526.76" cy="266.97" r="2.1"/><circle cx="471.96" cy="267.59" r="2.1"/><circle cx="492.1" cy="241.63" r="2.1"/><circle cx="639.87" cy="257.93" r="2.1"/><circle cx="546.25" cy="239.02" r="2.1"/><circle cx="556.12" cy="241.92" r="2.1"/><circle cx="663.43" cy="239.11" r="2.1"/><circle cx="529.84" cy="263.04" r="2.1"/><circle cx="449.49" cy="242.69" r="2.1"/><circle cx="637.52" cy="254.78" r="2.1"/><circle cx="451.98" cy="239.01" r="2.1"/><circle cx="457.26" cy="264.55" r="2.1"/><circle cx="504.04" cy="254.51" r="2.1"/><circle cx="658.39" cy="240.86" r="2.1"/><circle cx="507.72" cy="267.13" r="2.1"/><circle cx="590.65" cy="238.82" r="2.1"/><circle cx="614.62" cy="239.57" r="2.1"/><circle cx="508.52" cy="239" r="2.1"/><circle cx="624.01" cy="264.02" r="2.1"/><circle cx="594.74" cy="265.92" r="2.1"/><circle cx="448.04" cy="239.95" r="2.1"/><circle cx="556.53" cy="267.06" r="2.1"/><circle cx="671.71" cy="241.74" r="2.1"/><circle cx="502.6" cy="243.11" r="2.1"/><circle cx="560.93" cy="264.84" r="2.1"/><circle cx="486.22" cy="257.4" r="2.1"/><circle cx="619.88" cy="257.97" r="2.1"/><circle cx="628.14" cy="247.38" r="2.1"/><circle cx="521.07" cy="241.02" r="2.1"/><circle cx="529.26" cy="256.31" r="2.1"/><circle cx="461.21" cy="239.63" r="2.1"/><circle cx="623.34" cy="238.64" r="2.1"/><circle cx="457.77" cy="239.01" r="2.1"/><circle cx="575.15" cy="239.72" r="2.1"/><circle cx="678.05" cy="262.05" r="2.1"/><circle cx="679.87" cy="239.81" r="2.1"/><circle cx="462.43" cy="239.11" r="2.1"/><circle cx="562.13" cy="251.86" r="2.1"/><circle cx="549.74" cy="239.96" r="2.1"/><circle cx="542.49" cy="248.92" r="2.1"/><circle cx="604.39" cy="253.79" r="2.1"/><circle cx="645.99" cy="250.38" r="2.1"/><circle cx="471.35" cy="259.58" r="2.1"/><circle cx="512.88" cy="246.99" r="2.1"/><circle cx="531.94" cy="254.05" r="2.1"/><circle cx="490.13" cy="240.09" r="2.1"/><circle cx="501.23" cy="239.35" r="2.1"/><circle cx="654.93" cy="247.02" r="2.1"/><circle cx="520.72" cy="242.38" r="2.1"/><circle cx="680.98" cy="244.72" r="2.1"/><circle cx="497.87" cy="257.73" r="2.1"/><circle cx="599.39" cy="269.49" r="2.1"/><circle cx="466.82" cy="244.22" r="2.1"/><circle cx="639.28" cy="259.05" r="2.1"/><circle cx="662.2" cy="238.51" r="2.1"/><circle cx="512.86" cy="239.19" r="2.1"/><circle cx="487.81" cy="268.21" r="2.1"/><circle cx="582.52" cy="264.99" r="2.1"/><circle cx="531.76" cy="261.1" r="2.1"/><circle cx="550.26" cy="240.23" r="2.1"/><circle cx="629.33" cy="266.1" r="2.1"/><circle cx="467.65" cy="248.02" r="2.1"/><circle cx="591.36" cy="238.34" r="2.1"/><circle cx="530.91" cy="239.29" r="2.1"/><circle cx="491.28" cy="240.17" r="2.1"/><circle cx="586.42" cy="249.2" r="2.1"/><circle cx="491.15" cy="239" r="2.1"/><circle cx="520.94" cy="251.29" r="2.1"/><circle cx="486.75" cy="240.91" r="2.1"/><circle cx="491.14" cy="257.01" r="2.1"/><circle cx="574.06" cy="237.54" r="2.1"/><circle cx="466.59" cy="242.36" r="2.1"/><circle cx="574.56" cy="248.67" r="2.1"/><circle cx="464.13" cy="239.41" r="2.1"/><circle cx="609.51" cy="241.34" r="2.1"/><circle cx="510.36" cy="240.84" r="2.1"/><circle cx="671.54" cy="240.44" r="2.1"/><circle cx="578.5" cy="240.26" r="2.1"/><circle cx="542.4" cy="260.98" r="2.1"/><circle cx="681.99" cy="241.3" r="2.1"/><circle cx="489.65" cy="253.57" r="2.1"/><circle cx="491.2" cy="239" r="2.1"/><circle cx="659.13" cy="242.54" r="2.1"/><circle cx="639.58" cy="241.26" r="2.1"/><circle cx="654.61" cy="243.44" r="2.1"/><circle cx="481.31" cy="239" r="2.1"/><circle cx="574.9" cy="248.73" r="2.1"/><circle cx="661.1" cy="238.6" r="2.1"/><circle cx="591.9" cy="240.52" r="2.1"/><circle cx="563.57" cy="237.82" r="2.1"/><circle cx="510.36" cy="245.53" r="2.1"/><circle cx="664.88" cy="238.65" r="2.1"/><circle cx="560.22" cy="256.92" r="2.1"/><circle cx="674.83" cy="239.15" r="2.1"/><circle cx="472.67" cy="266.11" r="2.1"/><circle cx="676.92" cy="244.02" r="2.1"/><circle cx="455.04" cy="264.95" r="2.1"/><circle cx="535.53" cy="263.5" r="2.1"/><circle cx="591.45" cy="258.08" r="2.1"/><circle cx="480.76" cy="256.5" r="2.1"/><circle cx="495.63" cy="242.55" r="2.1"/><circle cx="645.83" cy="258.72" r="2.1"/><circle cx="486.22" cy="239.81" r="2.1"/><circle cx="538.38" cy="245.43" r="2.1"/><circle cx="534.49" cy="239.2" r="2.1"/><circle cx="501.64" cy="253.41" r="2.1"/><circle cx="658.09" cy="238.51" r="2.1"/><circle cx="577.5" cy="254.29" r="2.1"/><circle cx="451.37" cy="259.43" r="2.1"/><circle cx="470.53" cy="248.14" r="2.1"/><circle cx="574.54" cy="248.17" r="2.1"/><circle cx="515.88" cy="242.89" r="2.1"/><circle cx="582.38" cy="241.71" r="2.1"/><circle cx="600.72" cy="242.23" r="2.1"/><circle cx="547.67" cy="239" r="2.1"/><circle cx="591.11" cy="243.39" r="2.1"/><circle cx="498.8" cy="255.33" r="2.1"/><circle cx="629.86" cy="242.53" r="2.1"/><circle cx="485.4" cy="244.18" r="2.1"/><circle cx="467.96" cy="239.23" r="2.1"/><circle cx="545.8" cy="239.1" r="2.1"/><circle cx="548.54" cy="245.2" r="2.1"/><circle cx="452.01" cy="249.55" r="2.1"/><circle cx="461.99" cy="253.83" r="2.1"/><circle cx="629.3" cy="244.04" r="2.1"/><circle cx="455.26" cy="245.02" r="2.1"/><circle cx="533.11" cy="266.65" r="2.1"/><circle cx="474.97" cy="260.55" r="2.1"/><circle cx="681.87" cy="253.5" r="2.1"/><circle cx="638.29" cy="238.14" r="2.1"/><circle cx="678.4" cy="244.27" r="2.1"/><circle cx="672.37" cy="264.18" r="2.1"/><circle cx="481.93" cy="256.63" r="2.1"/><circle cx="666.1" cy="238.55" r="2.1"/><circle cx="526.63" cy="254.95" r="2.1"/><circle cx="480.4" cy="263.01" r="2.1"/><circle cx="508.36" cy="258.13" r="2.1"/><circle cx="476.74" cy="244.97" r="2.1"/><circle cx="663.53" cy="239.23" r="2.1"/><circle cx="505.45" cy="245.08" r="2.1"/><circle cx="518.97" cy="239.01" r="2.1"/><circle cx="486.01" cy="239.39" r="2.1"/><circle cx="667.5" cy="251.05" r="2.1"/><circle cx="657.64" cy="238.94" r="2.1"/><circle cx="631.04" cy="237.68" r="2.1"/><circle cx="569.89" cy="248.55" r="2.1"/><circle cx="528.76" cy="261.52" r="2.1"/><circle cx="575.78" cy="246.35" r="2.1"/><circle cx="654.54" cy="238.64" r="2.1"/><circle cx="681.1" cy="248.95" r="2.1"/><circle cx="537.06" cy="257.14" r="2.1"/><circle cx="505.9" cy="269.49" r="2.1"/><circle cx="581.11" cy="240.32" r="2.1"/><circle cx="626.17" cy="242.12" r="2.1"/><circle cx="484.73" cy="254.32" r="2.1"/><circle cx="453.82" cy="258.37" r="2.1"/><circle cx="503.23" cy="249.66" r="2.1"/><circle cx="678.96" cy="247.29" r="2.1"/><circle cx="601.89" cy="239.51" r="2.1"/><circle cx="442.63" cy="239.01" r="2.1"/><circle cx="478.14" cy="248.76" r="2.1"/><circle cx="546.2" cy="245.28" r="2.1"/><circle cx="657.67" cy="238.75" r="2.1"/><circle cx="496.88" cy="250.22" r="2.1"/><circle cx="447.56" cy="239" r="2.1"/><circle cx="527.6" cy="239.14" r="2.1"/><circle cx="528.13" cy="239.86" r="2.1"/><circle cx="582.61" cy="246.68" r="2.1"/><circle cx="491.33" cy="249.06" r="2.1"/><circle cx="556.46" cy="239.25" r="2.1"/><circle cx="667.54" cy="239.57" r="2.1"/><circle cx="478.12" cy="239.11" r="2.1"/><circle cx="595.75" cy="260.99" r="2.1"/><circle cx="630.39" cy="241.17" r="2.1"/><circle cx="505.78" cy="239" r="2.1"/><circle cx="597.37" cy="245.71" r="2.1"/><circle cx="526.49" cy="249.92" r="2.1"/><circle cx="548.97" cy="265.7" r="2.1"/><circle cx="618.69" cy="238.66" r="2.1"/><circle cx="659.58" cy="238.52" r="2.1"/><circle cx="570.09" cy="241.26" r="2.1"/><circle cx="499.38" cy="239.03" r="2.1"/><circle cx="629.6" cy="237.5" r="2.1"/><circle cx="574.75" cy="265.75" r="2.1"/><circle cx="476.43" cy="239.65" r="2.1"/><circle cx="588.5" cy="243.9" r="2.1"/><circle cx="596.56" cy="257.42" r="2.1"/><circle cx="484.22" cy="240.87" r="2.1"/><circle cx="514.44" cy="239.02" r="2.1"/><circle cx="656.18" cy="256.12" r="2.1"/><circle cx="614.32" cy="237.5" r="2.1"/><circle cx="645.37" cy="254.15" r="2.1"/><circle cx="554.14" cy="254.23" r="2.1"/><circle cx="551.07" cy="239.88" r="2.1"/><circle cx="467.53" cy="239.94" r="2.1"/><circle cx="451.54" cy="241.27" r="2.1"/><circle cx="622.57" cy="251.16" r="2.1"/><circle cx="645.59" cy="252.51" r="2.1"/><circle cx="506.2" cy="246.55" r="2.1"/><circle cx="547.11" cy="256.64" r="2.1"/><circle cx="568.09" cy="238.85" r="2.1"/><circle cx="596.67" cy="267.53" r="2.1"/><circle cx="494.41" cy="261.96" r="2.1"/><circle cx="445.86" cy="240.23" r="2.1"/><circle cx="499.01" cy="254.34" r="2.1"/><circle cx="669.49" cy="254.2" r="2.1"/><circle cx="520.85" cy="261.97" r="2.1"/><circle cx="521.25" cy="240.01" r="2.1"/><circle cx="660.56" cy="248.99" r="2.1"/><circle cx="608.9" cy="249.79" r="2.1"/><circle cx="677.75" cy="243.66" r="2.1"/><circle cx="644.23" cy="251.86" r="2.1"/><circle cx="648.52" cy="242.85" r="2.1"/><circle cx="616.54" cy="246" r="2.1"/><circle cx="516.24" cy="239.75" r="2.1"/><circle cx="592" cy="237.57" r="2.1"/><circle cx="661.34" cy="238.81" r="2.1"/><circle cx="448.67" cy="239.15" r="2.1"/><circle cx="665.71" cy="240.96" r="2.1"/><circle cx="476.33" cy="239.01" r="2.1"/><circle cx="452.22" cy="251.92" r="2.1"/><circle cx="594.71" cy="251.25" r="2.1"/><circle cx="619.47" cy="237.55" r="2.1"/><circle cx="584.27" cy="240.38" r="2.1"/><circle cx="638.91" cy="257.78" r="2.1"/><circle cx="656.64" cy="238.55" r="2.1"/><circle cx="650.99" cy="264.07" r="2.1"/><circle cx="669.4" cy="238.65" r="2.1"/><circle cx="491.7" cy="239.16" r="2.1"/><circle cx="450.48" cy="259.99" r="2.1"/><circle cx="637.57" cy="248.46" r="2.1"/><circle cx="640.71" cy="249.02" r="2.1"/><circle cx="511.34" cy="239.12" r="2.1"/><circle cx="465.75" cy="255.01" r="2.1"/><circle cx="491.52" cy="241.01" r="2.1"/><circle cx="544.16" cy="239" r="2.1"/><circle cx="503.96" cy="240.5" r="2.1"/><circle cx="614.41" cy="240.47" r="2.1"/><circle cx="519.39" cy="267.57" r="2.1"/><circle cx="563.4" cy="259.72" r="2.1"/><circle cx="590.96" cy="237.51" r="2.1"/><circle cx="541.55" cy="243.27" r="2.1"/><circle cx="628.19" cy="240.07" r="2.1"/><circle cx="611.74" cy="244.88" r="2.1"/><circle cx="494.31" cy="260.86" r="2.1"/><circle cx="464.07" cy="258.37" r="2.1"/><circle cx="483.19" cy="239" r="2.1"/><circle cx="490.81" cy="255.26" r="2.1"/><circle cx="677.47" cy="238.5" r="2.1"/><circle cx="560.29" cy="243.45" r="2.1"/><circle cx="633.9" cy="238.07" r="2.1"/><circle cx="561.2" cy="240.08" r="2.1"/><circle cx="642.34" cy="239.76" r="2.1"/><circle cx="669.3" cy="240.04" r="2.1"/><circle cx="493.86" cy="252.23" r="2.1"/><circle cx="562.09" cy="237.66" r="2.1"/><circle cx="595.35" cy="237.58" r="2.1"/><circle cx="631.77" cy="251.26" r="2.1"/><circle cx="631.54" cy="248.2" r="2.1"/><circle cx="527.76" cy="242.49" r="2.1"/><circle cx="537.14" cy="262.61" r="2.1"/><circle cx="462.93" cy="262.49" r="2.1"/><circle cx="448.26" cy="239.7" r="2.1"/><circle cx="505.52" cy="263.31" r="2.1"/><circle cx="562.79" cy="240.69" r="2.1"/><circle cx="654.89" cy="239.47" r="2.1"/><circle cx="553.09" cy="245.85" r="2.1"/><circle cx="623.73" cy="254.05" r="2.1"/><circle cx="597.7" cy="240.1" r="2.1"/><circle cx="520.79" cy="239.36" r="2.1"/><circle cx="645.05" cy="250.28" r="2.1"/><circle cx="620.72" cy="237.96" r="2.1"/><circle cx="547.77" cy="255.84" r="2.1"/><circle cx="581.55" cy="237.73" r="2.1"/><circle cx="553.36" cy="262.28" r="2.1"/><circle cx="499.45" cy="239.59" r="2.1"/><circle cx="514.74" cy="252.4" r="2.1"/><circle cx="645.19" cy="238.86" r="2.1"/><circle cx="479.73" cy="240.09" r="2.1"/><circle cx="520.77" cy="245.56" r="2.1"/><circle cx="480.92" cy="241.15" r="2.1"/><circle cx="487.74" cy="268.37" r="2.1"/><circle cx="617.53" cy="237.64" r="2.1"/><circle cx="673.75" cy="238.63" r="2.1"/><circle cx="534.65" cy="269" r="2.1"/><circle cx="633.45" cy="253.03" r="2.1"/><circle cx="546.84" cy="239.63" r="2.1"/><circle cx="595.7" cy="237.65" r="2.1"/><circle cx="491.87" cy="242.22" r="2.1"/><circle cx="450.36" cy="242.44" r="2.1"/><circle cx="632.52" cy="251.08" r="2.1"/><circle cx="562.62" cy="248.39" r="2.1"/><circle cx="553.66" cy="239.29" r="2.1"/><circle cx="587.45" cy="241.23" r="2.1"/><circle cx="620.47" cy="263.44" r="2.1"/><circle cx="545.66" cy="247.23" r="2.1"/><circle cx="622.43" cy="241.6" r="2.1"/><circle cx="497.19" cy="253.29" r="2.1"/><circle cx="653.95" cy="255.64" r="2.1"/><circle cx="610.64" cy="259.79" r="2.1"/><circle cx="605.71" cy="248.77" r="2.1"/><circle cx="551.41" cy="240.92" r="2.1"/><circle cx="593.36" cy="237.62" r="2.1"/><circle cx="543.15" cy="256.31" r="2.1"/><circle cx="613.78" cy="248.27" r="2.1"/><circle cx="502.36" cy="242.97" r="2.1"/><circle cx="551.72" cy="248.97" r="2.1"/><circle cx="540.69" cy="251.16" r="2.1"/><circle cx="666.01" cy="239.04" r="2.1"/><circle cx="599.67" cy="255.41" r="2.1"/><circle cx="535.72" cy="244.63" r="2.1"/><circle cx="676.69" cy="238.51" r="2.1"/><circle cx="572.93" cy="237.91" r="2.1"/><circle cx="630.3" cy="265.73" r="2.1"/><circle cx="567.12" cy="237.63" r="2.1"/><circle cx="580.44" cy="244.99" r="2.1"/><circle cx="614.78" cy="244.06" r="2.1"/><circle cx="596.01" cy="258.35" r="2.1"/><circle cx="567.72" cy="241.36" r="2.1"/><circle cx="670.28" cy="239.25" r="2.1"/><circle cx="606.86" cy="240.97" r="2.1"/><circle cx="625.71" cy="237.71" r="2.1"/><circle cx="679.06" cy="241.15" r="2.1"/><circle cx="455.82" cy="240.4" r="2.1"/><circle cx="538.36" cy="239" r="2.1"/><circle cx="542.91" cy="242.9" r="2.1"/><circle cx="610.2" cy="240.17" r="2.1"/><circle cx="506" cy="239.86" r="2.1"/><circle cx="620.6" cy="265.68" r="2.1"/><circle cx="569.01" cy="238.35" r="2.1"/><circle cx="635.04" cy="240.95" r="2.1"/><circle cx="493.21" cy="239.23" r="2.1"/><circle cx="629.05" cy="257.2" r="2.1"/><circle cx="594.81" cy="242.82" r="2.1"/><circle cx="577.43" cy="238.42" r="2.1"/><circle cx="674.11" cy="241.11" r="2.1"/><circle cx="595.89" cy="257.73" r="2.1"/><circle cx="638.57" cy="242.79" r="2.1"/><circle cx="513.02" cy="246.37" r="2.1"/><circle cx="472.31" cy="259.17" r="2.1"/><circle cx="527.55" cy="260.16" r="2.1"/><circle cx="506.54" cy="241.99" r="2.1"/><circle cx="503.2" cy="243.03" r="2.1"/><circle cx="486.93" cy="239" r="2.1"/><circle cx="615.86" cy="239.06" r="2.1"/><circle cx="501.14" cy="240.76" r="2.1"/><circle cx="557.58" cy="243.08" r="2.1"/><circle cx="595.53" cy="249.53" r="2.1"/><circle cx="529.4" cy="265.13" r="2.1"/><circle cx="647.78" cy="238.53" r="2.1"/><circle cx="641.39" cy="263.5" r="2.1"/><circle cx="630.84" cy="237.79" r="2.1"/><circle cx="642.22" cy="249.09" r="2.1"/><circle cx="445.81" cy="239" r="2.1"/><circle cx="671.2" cy="250.02" r="2.1"/><circle cx="502.36" cy="239.13" r="2.1"/><circle cx="476.54" cy="239.95" r="2.1"/><circle cx="628.98" cy="240.07" r="2.1"/><circle cx="478.93" cy="263.49" r="2.1"/><circle cx="632.68" cy="237.95" r="2.1"/><circle cx="656.61" cy="248.12" r="2.1"/><circle cx="630.18" cy="249.94" r="2.1"/><circle cx="657.28" cy="256.4" r="2.1"/><circle cx="644.02" cy="239.15" r="2.1"/><circle cx="608.89" cy="244.65" r="2.1"/><circle cx="620.7" cy="242.02" r="2.1"/><circle cx="654.57" cy="246.22" r="2.1"/><circle cx="505.84" cy="239.96" r="2.1"/><circle cx="475.72" cy="244.72" r="2.1"/><circle cx="456.26" cy="244.02" r="2.1"/><circle cx="476.95" cy="244.67" r="2.1"/><circle cx="562.06" cy="244.94" r="2.1"/><circle cx="649.81" cy="238.5" r="2.1"/><circle cx="644.49" cy="243.62" r="2.1"/><circle cx="577.55" cy="249.8" r="2.1"/><circle cx="644.44" cy="241.51" r="2.1"/><circle cx="542.97" cy="267.33" r="2.1"/><circle cx="460.34" cy="249.57" r="2.1"/><circle cx="595.25" cy="237.51" r="2.1"/><circle cx="588.89" cy="250.58" r="2.1"/><circle cx="666.32" cy="240.72" r="2.1"/><circle cx="678.4" cy="244.82" r="2.1"/><circle cx="558.81" cy="263.07" r="2.1"/><circle cx="450.36" cy="253.1" r="2.1"/><circle cx="592.64" cy="239.93" r="2.1"/><circle cx="649.52" cy="241.34" r="2.1"/><circle cx="556.37" cy="245.66" r="2.1"/><circle cx="627.6" cy="238.28" r="2.1"/><circle cx="546.91" cy="242.94" r="2.1"/><circle cx="575.5" cy="258.21" r="2.1"/><circle cx="512.67" cy="258.82" r="2.1"/><circle cx="539.34" cy="245.02" r="2.1"/><circle cx="507.57" cy="245.1" r="2.1"/><circle cx="676.78" cy="249.96" r="2.1"/><circle cx="632.74" cy="239.8" r="2.1"/><circle cx="518.49" cy="240.72" r="2.1"/><circle cx="583.3" cy="248.49" r="2.1"/><circle cx="630.88" cy="237.51" r="2.1"/><circle cx="616.08" cy="261.93" r="2.1"/><circle cx="573.42" cy="237.52" r="2.1"/><circle cx="514.48" cy="239" r="2.1"/><circle cx="487.9" cy="264.64" r="2.1"/><circle cx="588.65" cy="249.48" r="2.1"/><circle cx="632.04" cy="263.56" r="2.1"/><circle cx="589.38" cy="247.75" r="2.1"/><circle cx="593.01" cy="251.22" r="2.1"/><circle cx="585.67" cy="250.5" r="2.1"/><circle cx="493.33" cy="250.8" r="2.1"/><circle cx="552.37" cy="255.28" r="2.1"/><circle cx="466.59" cy="239.52" r="2.1"/><circle cx="451.1" cy="255.9" r="2.1"/><circle cx="662.13" cy="250.01" r="2.1"/><circle cx="530.95" cy="258.53" r="2.1"/><circle cx="631.44" cy="245.71" r="2.1"/><circle cx="504.28" cy="240.76" r="2.1"/><circle cx="543.68" cy="241" r="2.1"/><circle cx="545.82" cy="249.76" r="2.1"/><circle cx="666.89" cy="238.53" r="2.1"/><circle cx="578.74" cy="237.51" r="2.1"/><circle cx="470.79" cy="257.83" r="2.1"/><circle cx="580.62" cy="264.17" r="2.1"/><circle cx="549.62" cy="239" r="2.1"/><circle cx="535.35" cy="247.86" r="2.1"/><circle cx="667.82" cy="268.76" r="2.1"/><circle cx="556.59" cy="242.72" r="2.1"/><circle cx="466.75" cy="249.87" r="2.1"/><circle cx="493.27" cy="239.34" r="2.1"/><circle cx="445.94" cy="239" r="2.1"/><circle cx="606.71" cy="237.71" r="2.1"/><circle cx="674.7" cy="238.59" r="2.1"/><circle cx="651.41" cy="238.73" r="2.1"/><circle cx="446.48" cy="253.15" r="2.1"/><circle cx="500.49" cy="253.83" r="2.1"/><circle cx="487.29" cy="239.02" r="2.1"/><circle cx="628.43" cy="252.05" r="2.1"/><circle cx="648.03" cy="253.38" r="2.1"/><circle cx="462.48" cy="249.24" r="2.1"/><circle cx="612.84" cy="242.59" r="2.1"/><circle cx="666.52" cy="239.68" r="2.1"/><circle cx="674.21" cy="252.78" r="2.1"/><circle cx="444.94" cy="239" r="2.1"/><circle cx="598.76" cy="257.65" r="2.1"/><circle cx="461.37" cy="240.89" r="2.1"/><circle cx="617.7" cy="237.94" r="2.1"/><circle cx="649.35" cy="244.12" r="2.1"/><circle cx="456.58" cy="241.82" r="2.1"/><circle cx="580.54" cy="242.03" r="2.1"/><circle cx="605.06" cy="237.82" r="2.1"/><circle cx="634.04" cy="240.38" r="2.1"/><circle cx="597.36" cy="248.28" r="2.1"/><circle cx="542.76" cy="242.17" r="2.1"/><circle cx="631.37" cy="266.04" r="2.1"/><circle cx="630.98" cy="245.87" r="2.1"/><circle cx="512.55" cy="239.04" r="2.1"/><circle cx="676.53" cy="252.12" r="2.1"/><circle cx="641.27" cy="240.75" r="2.1"/><circle cx="587.96" cy="268.46" r="2.1"/><circle cx="642.21" cy="247.85" r="2.1"/><circle cx="516.45" cy="243.08" r="2.1"/><circle cx="655.88" cy="241.54" r="2.1"/><circle cx="606.97" cy="247.17" r="2.1"/><circle cx="657.81" cy="257.47" r="2.1"/><circle cx="510.36" cy="239" r="2.1"/><circle cx="505.49" cy="242.95" r="2.1"/><circle cx="583.35" cy="257.57" r="2.1"/><circle cx="655.72" cy="238.52" r="2.1"/><circle cx="642.68" cy="257.72" r="2.1"/><circle cx="650.85" cy="246.79" r="2.1"/><circle cx="508.09" cy="260.19" r="2.1"/><circle cx="636.37" cy="250.67" r="2.1"/><circle cx="662.05" cy="241" r="2.1"/><circle cx="462.67" cy="246.55" r="2.1"/><circle cx="634.05" cy="238.19" r="2.1"/><circle cx="622.69" cy="265.1" r="2.1"/><circle cx="498.51" cy="248.41" r="2.1"/><circle cx="605.25" cy="242.71" r="2.1"/><circle cx="491.9" cy="240.17" r="2.1"/><circle cx="622.92" cy="256.17" r="2.1"/><circle cx="552.81" cy="239.09" r="2.1"/><circle cx="636.26" cy="255.08" r="2.1"/><circle cx="498.23" cy="247.43" r="2.1"/><circle cx="658" cy="262.15" r="2.1"/><circle cx="567.76" cy="243.02" r="2.1"/><circle cx="583.99" cy="238.1" r="2.1"/><circle cx="488.47" cy="239.51" r="2.1"/><circle cx="610.88" cy="240.37" r="2.1"/><circle cx="578" cy="241.18" r="2.1"/><circle cx="566.64" cy="237.84" r="2.1"/><circle cx="452.93" cy="269.99" r="2.1"/><circle cx="532.19" cy="239.14" r="2.1"/><circle cx="594.44" cy="255.92" r="2.1"/><circle cx="479.77" cy="248.05" r="2.1"/><circle cx="525.19" cy="245.48" r="2.1"/><circle cx="447.15" cy="239.01" r="2.1"/><circle cx="680.49" cy="260.95" r="2.1"/><circle cx="559.21" cy="247" r="2.1"/><circle cx="505.14" cy="256.14" r="2.1"/><circle cx="544.68" cy="266.34" r="2.1"/><circle cx="626.8" cy="257.74" r="2.1"/><circle cx="674.01" cy="239.68" r="2.1"/><circle cx="451.31" cy="239.66" r="2.1"/><circle cx="485.68" cy="239.08" r="2.1"/><circle cx="454.47" cy="246.67" r="2.1"/><circle cx="651.68" cy="243.37" r="2.1"/><circle cx="670.1" cy="263.77" r="2.1"/><circle cx="457.64" cy="248.09" r="2.1"/><circle cx="537.81" cy="239.19" r="2.1"/><circle cx="673.01" cy="239.72" r="2.1"/><circle cx="578.01" cy="248.73" r="2.1"/><circle cx="672.31" cy="250.61" r="2.1"/><circle cx="536.78" cy="243.55" r="2.1"/><circle cx="480.63" cy="267.7" r="2.1"/><circle cx="680.81" cy="239.35" r="2.1"/><circle cx="451.49" cy="240.18" r="2.1"/><circle cx="526.89" cy="263.41" r="2.1"/><circle cx="659.84" cy="259.2" r="2.1"/><circle cx="453.52" cy="256.53" r="2.1"/><circle cx="612.93" cy="248.99" r="2.1"/><circle cx="679.29" cy="238.53" r="2.1"/><circle cx="477.04" cy="254.89" r="2.1"/><circle cx="668.21" cy="250.93" r="2.1"/><circle cx="514.09" cy="247.85" r="2.1"/><circle cx="624.55" cy="237.65" r="2.1"/><circle cx="520.13" cy="240.2" r="2.1"/><circle cx="472.07" cy="244.39" r="2.1"/><circle cx="482.76" cy="240" r="2.1"/><circle cx="476.64" cy="251.26" r="2.1"/><circle cx="445.23" cy="253.05" r="2.1"/><circle cx="489.14" cy="239.01" r="2.1"/><circle cx="665.4" cy="239.34" r="2.1"/><circle cx="666.91" cy="260.99" r="2.1"/><circle cx="656.02" cy="238.78" r="2.1"/><circle cx="549.81" cy="239.12" r="2.1"/><circle cx="665.66" cy="259.5" r="2.1"/><circle cx="593.39" cy="242.37" r="2.1"/><circle cx="523.95" cy="258.55" r="2.1"/><circle cx="557.1" cy="249.22" r="2.1"/><circle cx="476.55" cy="239.84" r="2.1"/><circle cx="455.85" cy="252.89" r="2.1"/><circle cx="575.34" cy="237.82" r="2.1"/><circle cx="651.7" cy="239.83" r="2.1"/><circle cx="541.27" cy="239.36" r="2.1"/><circle cx="507.43" cy="259.51" r="2.1"/><circle cx="522.68" cy="239.43" r="2.1"/><circle cx="560.34" cy="239.59" r="2.1"/><circle cx="659.5" cy="238.67" r="2.1"/><circle cx="677.66" cy="238.53" r="2.1"/><circle cx="657.55" cy="250.55" r="2.1"/><circle cx="493" cy="244.29" r="2.1"/><circle cx="511.07" cy="240.21" r="2.1"/><circle cx="490.71" cy="241.76" r="2.1"/><circle cx="680.64" cy="270.05" r="2.1"/><circle cx="664.77" cy="238.62" r="2.1"/><circle cx="511.84" cy="262.98" r="2.1"/><circle cx="456.03" cy="253.49" r="2.1"/><circle cx="512.82" cy="268.62" r="2.1"/><circle cx="446.06" cy="257.65" r="2.1"/><circle cx="524.22" cy="239.28" r="2.1"/><circle cx="442.66" cy="259.08" r="2.1"/><circle cx="568.9" cy="238.08" r="2.1"/><circle cx="546.92" cy="264.01" r="2.1"/><circle cx="494.71" cy="247.14" r="2.1"/><circle cx="475.42" cy="239.51" r="2.1"/><circle cx="627.57" cy="251.95" r="2.1"/><circle cx="489.53" cy="239.07" r="2.1"/><circle cx="463.23" cy="248.47" r="2.1"/><circle cx="561.41" cy="238.96" r="2.1"/><circle cx="491.77" cy="248.62" r="2.1"/><circle cx="612.49" cy="257.31" r="2.1"/><circle cx="582.45" cy="238.21" r="2.1"/><circle cx="427.93" cy="239.56" r="2.1"/><circle cx="607.01" cy="232.92" r="2.1"/><circle cx="425.12" cy="236.49" r="2.1"/><circle cx="639.84" cy="233.73" r="2.1"/><circle cx="646.01" cy="237.71" r="2.1"/><circle cx="658.49" cy="238.47" r="2.1"/><circle cx="540.12" cy="236.54" r="2.1"/><circle cx="460.79" cy="236.45" r="2.1"/><circle cx="637.03" cy="235.7" r="2.1"/><circle cx="511.33" cy="237.01" r="2.1"/><circle cx="572.41" cy="232.05" r="2.1"/><circle cx="531.69" cy="238.84" r="2.1"/><circle cx="550.77" cy="233.83" r="2.1"/><circle cx="632.91" cy="232.6" r="2.1"/><circle cx="646.27" cy="235.44" r="2.1"/><circle cx="514.12" cy="232.6" r="2.1"/><circle cx="615.11" cy="229.03" r="2.1"/><circle cx="670.46" cy="235.07" r="2.1"/><circle cx="545.08" cy="233.49" r="2.1"/><circle cx="556.69" cy="238.54" r="2.1"/><circle cx="415.65" cy="234.86" r="2.1"/><circle cx="459.79" cy="238.35" r="2.1"/><circle cx="478.38" cy="238.54" r="2.1"/><circle cx="600.82" cy="236.49" r="2.1"/><circle cx="463.26" cy="232.95" r="2.1"/><circle cx="567.38" cy="236.82" r="2.1"/><circle cx="552.75" cy="238.39" r="2.1"/><circle cx="647.38" cy="236.5" r="2.1"/><circle cx="605.77" cy="235.29" r="2.1"/><circle cx="544.75" cy="238.35" r="2.1"/><circle cx="546.71" cy="238.58" r="2.1"/><circle cx="520.74" cy="236.74" r="2.1"/><circle cx="447.39" cy="231.51" r="2.1"/><circle cx="450.19" cy="234.12" r="2.1"/><circle cx="566.39" cy="237.44" r="2.1"/><circle cx="635.5" cy="234.8" r="2.1"/><circle cx="665.96" cy="234.9" r="2.1"/><circle cx="639.24" cy="234.48" r="2.1"/><circle cx="553.49" cy="230.51" r="2.1"/><circle cx="622.1" cy="230.97" r="2.1"/><circle cx="502.42" cy="238.75" r="2.1"/><circle cx="528.91" cy="234.94" r="2.1"/><circle cx="677.87" cy="235.17" r="2.1"/><circle cx="632.51" cy="228.14" r="2.1"/><circle cx="641.4" cy="233.37" r="2.1"/><circle cx="671.5" cy="236.71" r="2.1"/><circle cx="665.07" cy="238.48" r="2.1"/><circle cx="582.72" cy="232.79" r="2.1"/><circle cx="509.49" cy="237.33" r="2.1"/><circle cx="528.22" cy="238.67" r="2.1"/><circle cx="547.8" cy="236.56" r="2.1"/><circle cx="674.73" cy="238.18" r="2.1"/><circle cx="622.01" cy="231.62" r="2.1"/><circle cx="630.93" cy="235.04" r="2.1"/><circle cx="651.43" cy="237.61" r="2.1"/><circle cx="585.15" cy="236.71" r="2.1"/><circle cx="482.56" cy="237.44" r="2.1"/><circle cx="558.04" cy="235.76" r="2.1"/><circle cx="662.36" cy="236.03" r="2.1"/><circle cx="552.04" cy="236.64" r="2.1"/><circle cx="528.4" cy="235.47" r="2.1"/><circle cx="493.38" cy="237.87" r="2.1"/><circle cx="586.77" cy="233.1" r="2.1"/><circle cx="671.01" cy="234.35" r="2.1"/><circle cx="550.26" cy="238.42" r="2.1"/><circle cx="555.74" cy="233.99" r="2.1"/><circle cx="450.52" cy="237.3" r="2.1"/><circle cx="490.15" cy="237.32" r="2.1"/><circle cx="520.99" cy="238.2" r="2.1"/><circle cx="559.14" cy="235.74" r="2.1"/><circle cx="639.25" cy="232.99" r="2.1"/><circle cx="587.55" cy="233.77" r="2.1"/><circle cx="464.93" cy="237.77" r="2.1"/><circle cx="559.61" cy="234.15" r="2.1"/><circle cx="577.29" cy="233.69" r="2.1"/><circle cx="476.14" cy="238.25" r="2.1"/><circle cx="470.49" cy="234.59" r="2.1"/><circle cx="569.89" cy="237.15" r="2.1"/><circle cx="413.24" cy="232.62" r="2.1"/><circle cx="475.12" cy="231.84" r="2.1"/><circle cx="561.97" cy="233.82" r="2.1"/><circle cx="679.59" cy="238.3" r="2.1"/><circle cx="490.67" cy="238.63" r="2.1"/><circle cx="428.24" cy="238.1" r="2.1"/><circle cx="647.86" cy="237" r="2.1"/><circle cx="515.89" cy="238.41" r="2.1"/><circle cx="530.09" cy="238.8" r="2.1"/><circle cx="471.47" cy="236.84" r="2.1"/><circle cx="671.89" cy="238.31" r="2.1"/><circle cx="502.01" cy="236.4" r="2.1"/><circle cx="506.22" cy="236.18" r="2.1"/><circle cx="642.05" cy="232.94" r="2.1"/><circle cx="634.19" cy="230.17" r="2.1"/><circle cx="612.92" cy="236.68" r="2.1"/><circle cx="617.4" cy="229.71" r="2.1"/><circle cx="603.43" cy="236.28" r="2.1"/><circle cx="659.71" cy="232.15" r="2.1"/><circle cx="411.18" cy="231.47" r="2.1"/><circle cx="619.03" cy="232.97" r="2.1"/><circle cx="672.83" cy="235.79" r="2.1"/><circle cx="566.14" cy="230.65" r="2.1"/><circle cx="648.26" cy="234.62" r="2.1"/><circle cx="575.8" cy="233.91" r="2.1"/><circle cx="535.01" cy="235.61" r="2.1"/><circle cx="607.4" cy="236.31" r="2.1"/><circle cx="561.61" cy="233.18" r="2.1"/><circle cx="514.97" cy="235.54" r="2.1"/><circle cx="641.93" cy="231.38" r="2.1"/><circle cx="546.38" cy="236.3" r="2.1"/><circle cx="493" cy="238.01" r="2.1"/><circle cx="449.58" cy="233.71" r="2.1"/><circle cx="661.2" cy="235.79" r="2.1"/><circle cx="498.42" cy="234.24" r="2.1"/><circle cx="671.74" cy="231.35" r="2.1"/><circle cx="465.78" cy="230.15" r="2.1"/><circle cx="412.92" cy="233.59" r="2.1"/><circle cx="422.95" cy="233.16" r="2.1"/><circle cx="661.25" cy="236.41" r="2.1"/><circle cx="621.16" cy="221.88" r="2.1"/><circle cx="551.26" cy="235.15" r="2.1"/><circle cx="551.21" cy="237.23" r="2.1"/><circle cx="507.66" cy="234.89" r="2.1"/><circle cx="572.36" cy="231.01" r="2.1"/><circle cx="594.68" cy="228.7" r="2.1"/><circle cx="553.39" cy="235.46" r="2.1"/><circle cx="519.44" cy="236.46" r="2.1"/><circle cx="563.25" cy="229.22" r="2.1"/><circle cx="673.3" cy="234.34" r="2.1"/><circle cx="542.87" cy="233.14" r="2.1"/><circle cx="681.94" cy="236.19" r="2.1"/><circle cx="503.72" cy="230.87" r="2.1"/><circle cx="456.61" cy="237.44" r="2.1"/><circle cx="496.84" cy="230.66" r="2.1"/><circle cx="549.94" cy="237.86" r="2.1"/><circle cx="654.2" cy="235.42" r="2.1"/><circle cx="680.34" cy="230.75" r="2.1"/><circle cx="652.46" cy="236.19" r="2.1"/><circle cx="489.15" cy="237.75" r="2.1"/><circle cx="549.67" cy="236.1" r="2.1"/><circle cx="459.8" cy="238.91" r="2.1"/><circle cx="582.02" cy="234.15" r="2.1"/><circle cx="681.29" cy="235.96" r="2.1"/><circle cx="583.77" cy="233.03" r="2.1"/><circle cx="625.02" cy="236.28" r="2.1"/><circle cx="493.74" cy="238.85" r="2.1"/><circle cx="416.9" cy="204.6" r="2.1"/><circle cx="426.5" cy="212.8" r="2.1"/><circle cx="426.5" cy="216.9" r="2.1"/><circle cx="417.3" cy="225.1" r="2.1"/><circle cx="419.7" cy="223.4" r="2.1"/><circle cx="425.4" cy="224" r="2.1"/><circle cx="424.4" cy="230.2" r="2.1"/><circle cx="426.5" cy="230.2" r="2.1"/><circle cx="428.5" cy="236.3" r="2.1"/><circle cx="425.4" cy="235.3" r="2.1"/><circle cx="416.2" cy="238.4" r="2.1"/><circle cx="421" cy="232" r="2.1"/><circle cx="413" cy="236" r="2.1"/><circle cx="431.6" cy="245.5" r="2.1"/><circle cx="431.2" cy="252.7" r="2.1"/><circle cx="431.2" cy="258.8" r="2.1"/><circle cx="431.6" cy="264.9" r="2.1"/><circle cx="432.2" cy="269" r="2.1"/><circle cx="436.1" cy="245.5" r="2.1"/><circle cx="437.7" cy="260.8" r="2.1"/><circle cx="436.7" cy="268" r="2.1"/><circle cx="443.8" cy="226.7" r="2.1"/><circle cx="451" cy="214.9" r="2.1"/><circle cx="451" cy="221" r="2.1"/><circle cx="448.3" cy="231.2" r="2.1"/><circle cx="454" cy="229.2" r="2.1"/><circle cx="447.9" cy="236.3" r="2.1"/><circle cx="464.3" cy="223" r="2.1"/><circle cx="471.4" cy="223" r="2.1"/><circle cx="473.5" cy="226.1" r="2.1"/><circle cx="467.3" cy="230.2" r="2.1"/><circle cx="470.4" cy="232.2" r="2.1"/><circle cx="461.2" cy="234.3" r="2.1"/><circle cx="458.1" cy="233.2" r="2.1"/><circle cx="459.2" cy="236.3" r="2.1"/><circle cx="481.6" cy="224" r="2.1"/><circle cx="483.7" cy="224" r="2.1"/><circle cx="482.7" cy="228.1" r="2.1"/><circle cx="489.8" cy="229.2" r="2.1"/><circle cx="492.9" cy="230.2" r="2.1"/><circle cx="480.6" cy="233.2" r="2.1"/><circle cx="486.7" cy="234.3" r="2.1"/><circle cx="494.9" cy="235.3" r="2.1"/><circle cx="502.1" cy="229.2" r="2.1"/><circle cx="501.1" cy="236.3" r="2.1"/><circle cx="511.3" cy="225.1" r="2.1"/><circle cx="516.4" cy="224" r="2.1"/><circle cx="516.4" cy="227.1" r="2.1"/><circle cx="514.7" cy="195.4" r="2.1"/><circle cx="509.2" cy="235.3" r="2.1"/><circle cx="517.4" cy="232.2" r="2.1"/><circle cx="523.5" cy="233.2" r="2.1"/><circle cx="527.6" cy="225.1" r="2.1"/><circle cx="527.6" cy="214.9" r="2.1"/><circle cx="526.6" cy="211.8" r="2.1"/><circle cx="528.6" cy="206.7" r="2.1"/><circle cx="523.5" cy="215.9" r="2.1"/><circle cx="532.7" cy="218.9" r="2.1"/><circle cx="531.7" cy="211.8" r="2.1"/><circle cx="535.8" cy="210.8" r="2.1"/><circle cx="533.8" cy="214.9" r="2.1"/><circle cx="539.9" cy="206.7" r="2.1"/><circle cx="540.9" cy="203.6" r="2.1"/><circle cx="540.9" cy="217.9" r="2.1"/><circle cx="537.8" cy="222" r="2.1"/><circle cx="535.8" cy="226.1" r="2.1"/><circle cx="533.8" cy="230.2" r="2.1"/><circle cx="541.5" cy="195.4" r="2.1"/><circle cx="519.4" cy="236.3" r="2.1"/><circle cx="524" cy="220" r="2.1"/><circle cx="529.5" cy="221" r="2.1"/><circle cx="476" cy="236" r="2.1"/><circle cx="505" cy="232" r="2.1"/><circle cx="497" cy="237" r="2.1"/><circle cx="455" cy="237" r="2.1"/><circle cx="440.5" cy="230" r="2.1"/><circle cx="445" cy="238" r="2.1"/><circle cx="466" cy="236" r="2.1"/><circle cx="543.5" cy="185" r="2.1"/><circle cx="542.1" cy="196" r="2.1"/><circle cx="539.2" cy="203.7" r="2.1"/><circle cx="541" cy="206.9" r="2.1"/><circle cx="536.4" cy="210.4" r="2.1"/><circle cx="541" cy="213.3" r="2.1"/><circle cx="540.7" cy="216.8" r="2.1"/><circle cx="538.2" cy="218.6" r="2.1"/><circle cx="540" cy="222.5" r="2.1"/><circle cx="552" cy="210.8" r="2.1"/><circle cx="563.6" cy="213.3" r="2.1"/><circle cx="571.7" cy="215.7" r="2.1"/><circle cx="573.2" cy="218.9" r="2.1"/><circle cx="573.5" cy="223.2" r="2.1"/><circle cx="572.1" cy="226.7" r="2.1"/><circle cx="550.2" cy="216.8" r="2.1"/><circle cx="548.4" cy="220.7" r="2.1"/><circle cx="554.1" cy="219.6" r="2.1"/><circle cx="550.5" cy="224.9" r="2.1"/><circle cx="555.5" cy="226" r="2.1"/><circle cx="549.8" cy="231.6" r="2.1"/><circle cx="556.9" cy="231.3" r="2.1"/><circle cx="538.5" cy="228.1" r="2.1"/><circle cx="567.5" cy="234.8" r="2.1"/><circle cx="564" cy="236.6" r="2.1"/><circle cx="556.1" cy="225.8" r="2.1"/><circle cx="557.2" cy="230.9" r="2.1"/><circle cx="543.5" cy="152.6" r="2.1"/><circle cx="545.7" cy="169.5" r="2.1"/><circle cx="544.3" cy="177.6" r="2.1"/><circle cx="543.4" cy="179.5" r="2.1"/><circle cx="543.4" cy="183.9" r="2.1"/><circle cx="628.7" cy="117.1" r="2.1"/><circle cx="628.1" cy="121.2" r="2.1"/><circle cx="632" cy="122" r="2.1"/><circle cx="625.5" cy="125.8" r="2.1"/><circle cx="632.3" cy="129.4" r="2.1"/><circle cx="632.5" cy="131.5" r="2.1"/><circle cx="632.5" cy="132.7" r="2.1"/><circle cx="622.8" cy="137.8" r="2.1"/><circle cx="626" cy="137.8" r="2.1"/><circle cx="623.2" cy="142.3" r="2.1"/><circle cx="631" cy="142" r="2.1"/><circle cx="629" cy="145" r="2.1"/><circle cx="633" cy="147.6" r="2.1"/><circle cx="632.8" cy="151.2" r="2.1"/><circle cx="620.7" cy="147.8" r="2.1"/><circle cx="627" cy="146" r="2.1"/><circle cx="629" cy="148" r="2.1"/><circle cx="631" cy="150" r="2.1"/><circle cx="628" cy="151" r="2.1"/><circle cx="626" cy="149" r="2.1"/><circle cx="630" cy="144" r="2.1"/><circle cx="628" cy="143.5" r="2.1"/><circle cx="617.7" cy="151.1" r="2.1"/><circle cx="617.7" cy="153.3" r="2.1"/><circle cx="623.2" cy="154" r="2.1"/><circle cx="626.5" cy="151.5" r="2.1"/><circle cx="629.4" cy="151.1" r="2.1"/><circle cx="632.7" cy="151.5" r="2.1"/><circle cx="625" cy="155.5" r="2.1"/><circle cx="628" cy="155.1" r="2.1"/><circle cx="629.8" cy="154.4" r="2.1"/><circle cx="612.3" cy="157.3" r="2.1"/><circle cx="617" cy="157.7" r="2.1"/><circle cx="626.1" cy="158" r="2.1"/><circle cx="627.2" cy="160.2" r="2.1"/><circle cx="630.9" cy="162.8" r="2.1"/><circle cx="628.7" cy="163.9" r="2.1"/><circle cx="625.8" cy="163.5" r="2.1"/><circle cx="609.3" cy="163.9" r="2.1"/><circle cx="620.7" cy="166.4" r="2.1"/><circle cx="629.8" cy="166.4" r="2.1"/><circle cx="625.8" cy="169" r="2.1"/><circle cx="610.4" cy="168.2" r="2.1"/><circle cx="619.9" cy="170.1" r="2.1"/><circle cx="609.3" cy="171.2" r="2.1"/><circle cx="611.9" cy="172.6" r="2.1"/><circle cx="632.7" cy="172.3" r="2.1"/><circle cx="631.2" cy="174.8" r="2.1"/><circle cx="615.5" cy="173.4" r="2.1"/><circle cx="618.8" cy="174.1" r="2.1"/><circle cx="622.1" cy="175.5" r="2.1"/><circle cx="602.8" cy="174.8" r="2.1"/><circle cx="626.9" cy="176.6" r="2.1"/><circle cx="610.8" cy="177.4" r="2.1"/><circle cx="614.1" cy="177.4" r="2.1"/><circle cx="617.7" cy="177.7" r="2.1"/><circle cx="628.7" cy="180.7" r="2.1"/><circle cx="633.4" cy="180.3" r="2.1"/><circle cx="618.8" cy="181" r="2.1"/><circle cx="600.2" cy="182.1" r="2.1"/><circle cx="604.2" cy="183.2" r="2.1"/><circle cx="609.7" cy="182.1" r="2.1"/><circle cx="612.6" cy="183.6" r="2.1"/><circle cx="615.5" cy="182.8" r="2.1"/><circle cx="596.2" cy="186.1" r="2.1"/><circle cx="599.5" cy="185.8" r="2.1"/><circle cx="606.1" cy="186.5" r="2.1"/><circle cx="609.3" cy="187.2" r="2.1"/><circle cx="613.4" cy="186.5" r="2.1"/><circle cx="616.3" cy="187.2" r="2.1"/><circle cx="619.9" cy="185.8" r="2.1"/><circle cx="597.3" cy="192.3" r="2.1"/><circle cx="600.2" cy="190.9" r="2.1"/><circle cx="604.6" cy="189.4" r="2.1"/><circle cx="611.9" cy="189.4" r="2.1"/><circle cx="615.2" cy="188.7" r="2.1"/><circle cx="617.7" cy="193.1" r="2.1"/><circle cx="596.9" cy="196" r="2.1"/><circle cx="599.5" cy="194.5" r="2.1"/><circle cx="603.5" cy="195.6" r="2.1"/><circle cx="607.2" cy="196.7" r="2.1"/><circle cx="633.4" cy="195.6" r="2.1"/><circle cx="613.4" cy="199.6" r="2.1"/><circle cx="584.3" cy="180.5" r="2.1"/><circle cx="613" cy="179" r="2.1"/><circle cx="606" cy="180" r="2.1"/><circle cx="622" cy="179" r="2.1"/><circle cx="624" cy="172" r="2.1"/><circle cx="621" cy="160" r="2.1"/><circle cx="614" cy="165" r="2.1"/><circle cx="612" cy="160" r="2.1"/><circle cx="579.1" cy="199.5" r="2.1"/><circle cx="586.8" cy="196.9" r="2.1"/><circle cx="587.1" cy="195.8" r="2.1"/><circle cx="597.3" cy="192.2" r="2.1"/><circle cx="599.5" cy="194.4" r="2.1"/><circle cx="597" cy="195.8" r="2.1"/><circle cx="602.4" cy="192.9" r="2.1"/><circle cx="591.1" cy="203.5" r="2.1"/><circle cx="593" cy="206.8" r="2.1"/><circle cx="595.9" cy="205.3" r="2.1"/><circle cx="599.2" cy="203.1" r="2.1"/><circle cx="600.3" cy="206.1" r="2.1"/><circle cx="598.8" cy="209" r="2.1"/><circle cx="603.5" cy="204.6" r="2.1"/><circle cx="603.2" cy="208.2" r="2.1"/><circle cx="563.4" cy="213.4" r="2.1"/><circle cx="587.5" cy="209.7" r="2.1"/><circle cx="587.1" cy="213" r="2.1"/><circle cx="591.5" cy="212.6" r="2.1"/><circle cx="594.4" cy="214.1" r="2.1"/><circle cx="596.6" cy="211.9" r="2.1"/><circle cx="602.4" cy="214.1" r="2.1"/><circle cx="571.4" cy="215.9" r="2.1"/><circle cx="576.9" cy="215.5" r="2.1"/><circle cx="572.5" cy="218.5" r="2.1"/><circle cx="578.4" cy="217.7" r="2.1"/><circle cx="580.2" cy="218.1" r="2.1"/><circle cx="574" cy="220.7" r="2.1"/><circle cx="579.8" cy="221.4" r="2.1"/><circle cx="584.2" cy="219.2" r="2.1"/><circle cx="587.1" cy="218.5" r="2.1"/><circle cx="588.6" cy="218.8" r="2.1"/><circle cx="592.2" cy="217.7" r="2.1"/><circle cx="594.8" cy="218.5" r="2.1"/><circle cx="584.9" cy="222.1" r="2.1"/><circle cx="589.3" cy="222.1" r="2.1"/><circle cx="592.2" cy="222.5" r="2.1"/><circle cx="574" cy="223.6" r="2.1"/><circle cx="580.2" cy="225" r="2.1"/><circle cx="600.6" cy="221.4" r="2.1"/><circle cx="599.9" cy="223.9" r="2.1"/><circle cx="572.2" cy="226.5" r="2.1"/><circle cx="583.5" cy="225.8" r="2.1"/><circle cx="587.1" cy="226.5" r="2.1"/><circle cx="589.3" cy="227.2" r="2.1"/><circle cx="593.7" cy="228.7" r="2.1"/><circle cx="580.9" cy="229.4" r="2.1"/><circle cx="585.3" cy="229.4" r="2.1"/><circle cx="587.1" cy="230.9" r="2.1"/><circle cx="574.3" cy="231.6" r="2.1"/><circle cx="600.3" cy="232.3" r="2.1"/><circle cx="567.8" cy="234.5" r="2.1"/><circle cx="563.8" cy="236.4" r="2.1"/><circle cx="572.5" cy="233.8" r="2.1"/><circle cx="579.1" cy="234.5" r="2.1"/><circle cx="590" cy="234.5" r="2.1"/><circle cx="594.4" cy="236.7" r="2.1"/><circle cx="633.5" cy="195.5" r="2.1"/><circle cx="618" cy="193.1" r="2.1"/><circle cx="613" cy="201.1" r="2.1"/><circle cx="611.8" cy="203.6" r="2.1"/><circle cx="606.2" cy="197.4" r="2.1"/><circle cx="605" cy="203.6" r="2.1"/><circle cx="647.8" cy="202.4" r="2.1"/><circle cx="647.8" cy="210.4" r="2.1"/><circle cx="647.1" cy="214.2" r="2.1"/><circle cx="647.8" cy="217.9" r="2.1"/><circle cx="647.8" cy="221.6" r="2.1"/><circle cx="646.5" cy="224.7" r="2.1"/><circle cx="648.4" cy="227.8" r="2.1"/><circle cx="633.5" cy="213.5" r="2.1"/><circle cx="623" cy="216.6" r="2.1"/><circle cx="657.1" cy="216" r="2.1"/><circle cx="667" cy="221" r="2.1"/><circle cx="673.8" cy="232.1" r="2.1"/><circle cx="634.1" cy="227.2" r="2.1"/><circle cx="633.5" cy="230.3" r="2.1"/><circle cx="619.9" cy="229.7" r="2.1"/><circle cx="626.7" cy="231.5" r="2.1"/><circle cx="603.1" cy="214.8" r="2.1"/><circle cx="602.5" cy="221" r="2.1"/><circle cx="606.2" cy="224.7" r="2.1"/><circle cx="608.7" cy="230.3" r="2.1"/><circle cx="655.8" cy="229.7" r="2.1"/><circle cx="659.6" cy="231.5" r="2.1"/><circle cx="678.2" cy="234" r="2.1"/><circle cx="602.5" cy="232.1" r="2.1"/><circle cx="613" cy="234" r="2.1"/><circle cx="640" cy="235" r="2.1"/><circle cx="651" cy="236" r="2.1"/><circle cx="668" cy="236" r="2.1"/><circle cx="682" cy="233" r="2.1"/><circle cx="628" cy="236" r="2.1"/><circle cx="620" cy="236" r="2.1"/><circle cx="620.6" cy="176.18" r="2.1"/><circle cx="606.7" cy="200.41" r="2.1"/><circle cx="615.37" cy="166.91" r="2.1"/><circle cx="595.34" cy="197.58" r="2.1"/><circle cx="600.24" cy="205.63" r="2.1"/><circle cx="589.5" cy="235.75" r="2.1"/><circle cx="596.95" cy="185.35" r="2.1"/><circle cx="623.04" cy="163.48" r="2.1"/><circle cx="609.5" cy="159.17" r="2.1"/><circle cx="616.9" cy="164.67" r="2.1"/><circle cx="596.91" cy="220.79" r="2.1"/><circle cx="577.91" cy="219.37" r="2.1"/><circle cx="627.79" cy="151.07" r="2.1"/><circle cx="616.66" cy="177.76" r="2.1"/><circle cx="600.71" cy="180.43" r="2.1"/><circle cx="602.57" cy="172.93" r="2.1"/><circle cx="593.03" cy="227.73" r="2.1"/><circle cx="608.57" cy="180" r="2.1"/><circle cx="596.17" cy="183.17" r="2.1"/><circle cx="593.5" cy="226.59" r="2.1"/><circle cx="585.64" cy="232.53" r="2.1"/><circle cx="592.11" cy="203.34" r="2.1"/><circle cx="630.31" cy="153.78" r="2.1"/><circle cx="584.99" cy="223.51" r="2.1"/><circle cx="601.89" cy="227.3" r="2.1"/><circle cx="614.28" cy="176.12" r="2.1"/><circle cx="587.77" cy="232.56" r="2.1"/><circle cx="578.52" cy="231.68" r="2.1"/><circle cx="614.59" cy="183.52" r="2.1"/><circle cx="609.76" cy="169.04" r="2.1"/><circle cx="590.42" cy="225.28" r="2.1"/><circle cx="584.91" cy="218.18" r="2.1"/><circle cx="612.84" cy="164.92" r="2.1"/><circle cx="627.27" cy="166.04" r="2.1"/><circle cx="613.65" cy="175" r="2.1"/><circle cx="619.14" cy="159.88" r="2.1"/><circle cx="605.91" cy="183.16" r="2.1"/><circle cx="611.79" cy="155.63" r="2.1"/><circle cx="587.44" cy="221.02" r="2.1"/><circle cx="605.84" cy="171.06" r="2.1"/><circle cx="605.43" cy="174.39" r="2.1"/><circle cx="624.8" cy="153" r="2.1"/><circle cx="600.87" cy="179.36" r="2.1"/><circle cx="583.36" cy="210.7" r="2.1"/><circle cx="621.45" cy="173.19" r="2.1"/><circle cx="616.58" cy="160.99" r="2.1"/><circle cx="603.39" cy="221.92" r="2.1"/><circle cx="613.26" cy="163.69" r="2.1"/><circle cx="592.31" cy="212.13" r="2.1"/><circle cx="576.83" cy="232.42" r="2.1"/><circle cx="588.45" cy="231.78" r="2.1"/><circle cx="613.13" cy="169.55" r="2.1"/><circle cx="622.61" cy="161.26" r="2.1"/><circle cx="623.38" cy="172.43" r="2.1"/><circle cx="597.18" cy="200.53" r="2.1"/><circle cx="616.39" cy="171.18" r="2.1"/><circle cx="624.09" cy="168.28" r="2.1"/><circle cx="618.38" cy="160.56" r="2.1"/><circle cx="595.9" cy="196.66" r="2.1"/><circle cx="590.7" cy="216.37" r="2.1"/><circle cx="601.05" cy="206.55" r="2.1"/><circle cx="608.38" cy="176.73" r="2.1"/><circle cx="612.12" cy="157.4" r="2.1"/><circle cx="585.36" cy="223.19" r="2.1"/><circle cx="585.76" cy="207" r="2.1"/><circle cx="597.96" cy="198.33" r="2.1"/><circle cx="598.39" cy="193.03" r="2.1"/><circle cx="615.94" cy="155.67" r="2.1"/><circle cx="604.97" cy="169.47" r="2.1"/><circle cx="589.32" cy="211.64" r="2.1"/></g>
<g fill="#8c8c8c" stroke="#2a2a2a" stroke-width="0.45"><circle cx="466.9" cy="195.4" r="2.1"/><circle cx="460.5" cy="232" r="2.1"/><circle cx="520.5" cy="228.5" r="2.1"/><circle cx="521.5" cy="230.2" r="2.1"/><circle cx="541.9" cy="233.2" r="2.1"/><circle cx="540.9" cy="236.3" r="2.1"/><circle cx="542.8" cy="233.1" r="2.1"/><circle cx="541.7" cy="236.9" r="2.1"/><circle cx="557.6" cy="220" r="2.1"/><circle cx="557.9" cy="219.9" r="2.1"/><circle cx="596.6" cy="234.5" r="2.1"/><circle cx="601.7" cy="236.7" r="2.1"/><circle cx="642.8" cy="231.5" r="2.1"/><circle cx="662" cy="234.6" r="2.1"/><circle cx="430" cy="264" r="2.1"/><circle cx="477" cy="241" r="2.1"/><circle cx="500" cy="238" r="2.1"/><circle cx="588" cy="238" r="2.1"/><circle cx="645" cy="233" r="2.1"/><circle cx="676" cy="240" r="2.1"/><circle cx="505" cy="236" r="2.1"/><circle cx="530" cy="240" r="2.1"/><circle cx="680" cy="238" r="2.1"/></g>
<circle cx="547.5" cy="227.7" r="2.05" fill="#87cefa" stroke="#2a2a2a" stroke-width="0.35"/>
<circle cx="542.5" cy="243" r="2.05" fill="#87cefa" stroke="#2a2a2a" stroke-width="0.35"/>
<circle cx="543.8" cy="245.5" r="2.05" fill="#87cefa" stroke="#2a2a2a" stroke-width="0.35"/>
<circle cx="543.5" cy="262.7" r="2.05" fill="#87cefa" stroke="#2a2a2a" stroke-width="0.35"/>
<circle cx="543.5" cy="152.8" r="2.05" fill="#000086" stroke="#2a2a2a" stroke-width="0.35"/>
<circle cx="547.2" cy="168.2" r="2.05" fill="#ff0000" stroke="#2a2a2a" stroke-width="0.35"/>
<circle cx="545" cy="141.5" r="2.05" fill="#ffa500" stroke="#2a2a2a" stroke-width="0.35"/>
<circle cx="545" cy="138.5" r="2.05" fill="#87cefa" stroke="#2a2a2a" stroke-width="0.35"/>
<circle cx="543.5" cy="133" r="2.05" fill="#87cefa" stroke="#2a2a2a" stroke-width="0.35"/>
<circle cx="542" cy="135.5" r="2.05" fill="#00ee00" stroke="#2a2a2a" stroke-width="0.35"/>
<circle cx="547.8" cy="117.5" r="2.05" fill="#ff0000" stroke="#2a2a2a" stroke-width="0.35"/>
<circle cx="545" cy="89.7" r="2.05" fill="#ffa500" stroke="#2a2a2a" stroke-width="0.35"/>
<circle cx="543.5" cy="93.5" r="2.05" fill="#ffa500" stroke="#2a2a2a" stroke-width="0.35"/>
<circle cx="544.5" cy="95" r="2.05" fill="#ffa500" stroke="#2a2a2a" stroke-width="0.35"/>
<circle cx="546.5" cy="93.8" r="2.05" fill="#ff0000" stroke="#2a2a2a" stroke-width="0.35"/>
<circle cx="544.5" cy="84.8" r="2.05" fill="#ff0000" stroke="#2a2a2a" stroke-width="0.35"/>
<circle cx="547.5" cy="83.5" r="2.05" fill="#ff0000" stroke="#2a2a2a" stroke-width="0.35"/>
<circle cx="547.8" cy="86.5" r="2.05" fill="#ff0000" stroke="#2a2a2a" stroke-width="0.35"/>
<circle cx="546.8" cy="77.6" r="2.05" fill="#00ee00" stroke="#2a2a2a" stroke-width="0.35"/>
<circle cx="547" cy="68.5" r="2.05" fill="#00ee00" stroke="#2a2a2a" stroke-width="0.35"/>
<circle cx="546.6" cy="69.5" r="2.05" fill="#ff0000" stroke="#2a2a2a" stroke-width="0.35"/>
<circle cx="546.6" cy="71.5" r="2.05" fill="#8b3bcf" stroke="#2a2a2a" stroke-width="0.35"/>
<circle cx="546.6" cy="61.5" r="2.05" fill="#87cefa" stroke="#2a2a2a" stroke-width="0.35"/>
<text x="542.9" y="59" font-size="7.8" fill="#252525" text-anchor="middle">rs6075339</text>
<rect x="418.1" y="59.1" width="9" height="10.74" fill="#ff0000"/>
<rect x="418.1" y="69.84" width="9" height="10.74" fill="#ffa500"/>
<rect x="418.1" y="80.58" width="9" height="10.74" fill="#00ee00"/>
<rect x="418.1" y="91.32" width="9" height="10.74" fill="#87cefa"/>
<rect x="418.1" y="102.06" width="9" height="10.74" fill="#000080"/>
<rect x="418.1" y="59.1" width="9" height="53.7" fill="none" stroke="#222" stroke-width="0.5"/>
<line x1="418.1" y1="69.84" x2="427.1" y2="69.84" stroke="#222" stroke-width="0.4"/>
<line x1="418.1" y1="80.58" x2="427.1" y2="80.58" stroke="#222" stroke-width="0.4"/>
<line x1="418.1" y1="91.32" x2="427.1" y2="91.32" stroke="#222" stroke-width="0.4"/>
<line x1="418.1" y1="102.06" x2="427.1" y2="102.06" stroke="#222" stroke-width="0.4"/>
<line x1="427.1" y1="69.84" x2="431.6" y2="69.84" stroke="#555" stroke-width="0.6"/>
<text x="434.3" y="72.44" font-size="7.5" fill="#252525">0.8</text>
<line x1="427.1" y1="80.58" x2="431.6" y2="80.58" stroke="#555" stroke-width="0.6"/>
<text x="434.3" y="83.18" font-size="7.5" fill="#252525">0.6</text>
<line x1="427.1" y1="91.32" x2="431.6" y2="91.32" stroke="#555" stroke-width="0.6"/>
<text x="434.3" y="93.92" font-size="7.5" fill="#252525">0.4</text>
<line x1="427.1" y1="102.06" x2="431.6" y2="102.06" stroke="#555" stroke-width="0.6"/>
<text x="434.3" y="104.66" font-size="7.5" fill="#252525">0.2</text>
<text x="420.1" y="55.3" font-size="8.6" fill="#252525" font-style="italic">r<tspan font-size="5.8" dy="-3.4" font-style="normal">2</tspan></text>
<rect x="408.5" y="289.5" width="276" height="36.8" fill="none" stroke="#7a7a7a" stroke-width="0.9"/>
<line x1="410.7" y1="294.5" x2="414.7" y2="294.5" stroke="#222" stroke-width="0.5"/>
<path d="M409.8 294.5 l2 -1 v2 z" fill="#222"/>
<text x="415.5" y="295.8" font-size="5" fill="#3a3a3a" font-style="italic">SIRPD</text>
<line x1="416" y1="298.6" x2="425" y2="298.6" stroke="#1010b0" stroke-width="0.5"/>
<rect x="415.95" y="297.6" width="1.1" height="2" fill="#1010b0"/>
<rect x="418.45" y="297.6" width="1.1" height="2" fill="#1010b0"/>
<rect x="420.95" y="297.6" width="1.1" height="2" fill="#1010b0"/>
<rect x="423.95" y="297.6" width="1.1" height="2" fill="#1010b0"/>
<line x1="443.2" y1="294.5" x2="447.2" y2="294.5" stroke="#222" stroke-width="0.5"/>
<path d="M442.3 294.5 l2 -1 v2 z" fill="#222"/>
<text x="448" y="295.8" font-size="5" fill="#3a3a3a" font-style="italic">SIRPG</text>
<line x1="448" y1="298.6" x2="459" y2="298.6" stroke="#1010b0" stroke-width="0.5"/>
<rect x="447.95" y="297.6" width="1.1" height="2" fill="#1010b0"/>
<rect x="451.45" y="297.6" width="1.1" height="2" fill="#1010b0"/>
<rect x="454.45" y="297.6" width="1.1" height="2" fill="#1010b0"/>
<rect x="457.95" y="297.6" width="1.1" height="2" fill="#1010b0"/>
<line x1="477.7" y1="294.5" x2="481.7" y2="294.5" stroke="#222" stroke-width="0.5"/>
<path d="M476.8 294.5 l2 -1 v2 z" fill="#222"/>
<text x="482.5" y="295.8" font-size="5.5" fill="#3a3a3a" font-style="italic">LOC100289473</text>
<line x1="498.8" y1="298.6" x2="499.4" y2="298.6" stroke="#1010b0" stroke-width="0.5"/>
<rect x="498.55" y="297.6" width="1.1" height="2" fill="#1010b0"/>
<text x="537.8" y="295.8" font-size="5" fill="#3a3a3a" font-style="italic">SIRPA</text>
<line x1="553.23" y1="294.5" x2="557.43" y2="294.5" stroke="#222" stroke-width="0.5"/>
<path d="M558.83 294.5 l-2 -1 v2 z" fill="#222"/>
<line x1="540" y1="298.6" x2="556" y2="298.6" stroke="#1010b0" stroke-width="0.5"/>
<rect x="539.95" y="297.6" width="1.1" height="2" fill="#1010b0"/>
<rect x="545.45" y="297.6" width="1.1" height="2" fill="#1010b0"/>
<rect x="548.45" y="297.6" width="1.1" height="2" fill="#1010b0"/>
<rect x="550.95" y="297.6" width="1.1" height="2" fill="#1010b0"/>
<rect x="552.95" y="297.6" width="1.1" height="2" fill="#1010b0"/>
<rect x="554.95" y="297.6" width="1.1" height="2" fill="#1010b0"/>
<text x="608.8" y="295.8" font-size="5" fill="#3a3a3a" font-style="italic">STK35</text>
<line x1="624.89" y1="294.5" x2="629.09" y2="294.5" stroke="#222" stroke-width="0.5"/>
<path d="M630.49 294.5 l-2 -1 v2 z" fill="#222"/>
<line x1="611" y1="298.6" x2="628" y2="298.6" stroke="#1010b0" stroke-width="0.5"/>
<rect x="610.95" y="297.6" width="1.1" height="2" fill="#1010b0"/>
<rect x="614.95" y="297.6" width="1.1" height="2" fill="#1010b0"/>
<rect x="619.45" y="297.6" width="1.1" height="2" fill="#1010b0"/>
<rect x="626.95" y="297.6" width="1.1" height="2" fill="#1010b0"/>
<text x="662.6" y="295.8" font-size="5" fill="#3a3a3a" font-style="italic">TGM3</text>
<line x1="677.29" y1="294.5" x2="681.49" y2="294.5" stroke="#222" stroke-width="0.5"/>
<path d="M682.89 294.5 l-2 -1 v2 z" fill="#222"/>
<line x1="664" y1="298.6" x2="684" y2="298.6" stroke="#1010b0" stroke-width="0.5"/>
<rect x="663.95" y="297.6" width="1.1" height="2" fill="#1010b0"/>
<rect x="667.45" y="297.6" width="1.1" height="2" fill="#1010b0"/>
<rect x="670.45" y="297.6" width="1.1" height="2" fill="#1010b0"/>
<rect x="673.45" y="297.6" width="1.1" height="2" fill="#1010b0"/>
<rect x="676.45" y="297.6" width="1.1" height="2" fill="#1010b0"/>
<rect x="682.95" y="297.6" width="1.1" height="2" fill="#1010b0"/>
<line x1="424" y1="306.9" x2="428" y2="306.9" stroke="#222" stroke-width="0.5"/>
<path d="M423.1 306.9 l2 -1 v2 z" fill="#222"/>
<text x="428.8" y="308.2" font-size="5" fill="#3a3a3a" font-style="italic">SIRPB1</text>
<line x1="427" y1="310.7" x2="446" y2="310.7" stroke="#1010b0" stroke-width="0.5"/>
<rect x="426.95" y="309.7" width="1.1" height="2" fill="#1010b0"/>
<rect x="428.95" y="309.7" width="1.1" height="2" fill="#1010b0"/>
<rect x="430.95" y="309.7" width="1.1" height="2" fill="#1010b0"/>
<rect x="432.95" y="309.7" width="1.1" height="2" fill="#1010b0"/>
<rect x="438.45" y="309.7" width="1.1" height="2" fill="#1010b0"/>
<rect x="440.45" y="309.7" width="1.1" height="2" fill="#1010b0"/>
<rect x="442.45" y="309.7" width="1.1" height="2" fill="#1010b0"/>
<rect x="444.95" y="309.7" width="1.1" height="2" fill="#1010b0"/>
<line x1="562.2" y1="306.9" x2="566.2" y2="306.9" stroke="#222" stroke-width="0.5"/>
<path d="M561.3 306.9 l2 -1 v2 z" fill="#222"/>
<text x="567" y="308.2" font-size="5" fill="#3a3a3a" font-style="italic">PDYN</text>
<line x1="570" y1="310.7" x2="575" y2="310.7" stroke="#1010b0" stroke-width="0.5"/>
<rect x="569.95" y="309.7" width="1.1" height="2" fill="#1010b0"/>
<rect x="571.45" y="309.7" width="1.1" height="2" fill="#1010b0"/>
<rect x="573.95" y="309.7" width="1.1" height="2" fill="#1010b0"/>
<text x="632.4" y="308.2" font-size="5.5" fill="#3a3a3a" font-style="italic">LOC388780</text>
<line x1="662.86" y1="306.9" x2="667.06" y2="306.9" stroke="#222" stroke-width="0.5"/>
<path d="M668.46 306.9 l-2 -1 v2 z" fill="#222"/>
<line x1="648.7" y1="310.7" x2="649.3" y2="310.7" stroke="#1010b0" stroke-width="0.5"/>
<rect x="648.45" y="309.7" width="1.1" height="2" fill="#1010b0"/>
<text x="431.4" y="320.8" font-size="5.5" fill="#3a3a3a" font-style="italic">LOC101929010</text>
<line x1="471.04" y1="319.5" x2="475.24" y2="319.5" stroke="#222" stroke-width="0.5"/>
<path d="M476.64 319.5 l-2 -1 v2 z" fill="#222"/>
<line x1="452" y1="323.3" x2="456" y2="323.3" stroke="#1010b0" stroke-width="0.5"/>
<rect x="451.95" y="322.3" width="1.1" height="2" fill="#1010b0"/>
<rect x="453.45" y="322.3" width="1.1" height="2" fill="#1010b0"/>
<rect x="454.95" y="322.3" width="1.1" height="2" fill="#1010b0"/>
<line x1="445.4" y1="326.6" x2="445.4" y2="332" stroke="#7a7a7a" stroke-width="0.7"/>
<text x="445.4" y="342" font-size="7.3" fill="#252525" text-anchor="middle">1.6</text>
<line x1="514.6" y1="326.6" x2="514.6" y2="332" stroke="#7a7a7a" stroke-width="0.7"/>
<text x="514.6" y="342" font-size="7.3" fill="#252525" text-anchor="middle">1.8</text>
<line x1="583.8" y1="326.6" x2="583.8" y2="332" stroke="#7a7a7a" stroke-width="0.7"/>
<text x="583.8" y="342" font-size="7.3" fill="#252525" text-anchor="middle">2.0</text>
<line x1="652.9" y1="326.6" x2="652.9" y2="332" stroke="#7a7a7a" stroke-width="0.7"/>
<text x="652.9" y="342" font-size="7.3" fill="#252525" text-anchor="middle">2.2</text>
<text x="548.6" y="355.9" font-size="9" fill="#252525" text-anchor="middle">Position on chromosome 20 (Mb)</text>
<text x="-0.8" y="381.4" font-size="14.6" fill="#000" font-weight="bold">c</text>
<line x1="73.5" y1="377.4" x2="73.5" y2="587.4" stroke="#7a7a7a" stroke-width="1"/>
<line x1="73.5" y1="587.4" x2="332.8" y2="587.4" stroke="#7a7a7a" stroke-width="1"/>
<line x1="70.3" y1="385.4" x2="73.5" y2="385.4" stroke="#666" stroke-width="0.9"/>
<text x="67.4" y="388.35" font-size="8.5" fill="#252525" text-anchor="end">ACE</text>
<line x1="232.8" y1="385.4" x2="266.8" y2="385.4" stroke="#363636" stroke-width="1.6"/>
<circle cx="249.7" cy="385.4" r="1.6" fill="#000"/>
<line x1="70.3" y1="396.71" x2="73.5" y2="396.71" stroke="#666" stroke-width="0.9"/>
<text x="67.4" y="399.66" font-size="8.5" fill="#252525" text-anchor="end">ADH1B</text>
<line x1="85.1" y1="396.71" x2="165" y2="396.71" stroke="#8c8c8c" stroke-width="1.6"/>
<circle cx="124.1" cy="396.71" r="1.6" fill="#000"/>
<line x1="70.3" y1="408.02" x2="73.5" y2="408.02" stroke="#666" stroke-width="0.9"/>
<text x="67.4" y="410.97" font-size="8.5" fill="#252525" text-anchor="end">CA13</text>
<line x1="221.1" y1="408.02" x2="264.3" y2="408.02" stroke="#363636" stroke-width="1.6"/>
<circle cx="242.5" cy="408.02" r="1.6" fill="#000"/>
<line x1="70.3" y1="419.33" x2="73.5" y2="419.33" stroke="#666" stroke-width="0.9"/>
<text x="67.4" y="422.28" font-size="8.5" fill="#252525" text-anchor="end">CNTN2</text>
<line x1="128.8" y1="419.33" x2="159.5" y2="419.33" stroke="#363636" stroke-width="1.6"/>
<circle cx="144" cy="419.33" r="1.6" fill="#000"/>
<line x1="70.3" y1="430.64" x2="73.5" y2="430.64" stroke="#666" stroke-width="0.9"/>
<text x="67.4" y="433.59" font-size="8.5" fill="#252525" text-anchor="end">COMT</text>
<line x1="146.5" y1="430.64" x2="173.7" y2="430.64" stroke="#8c8c8c" stroke-width="1.6"/>
<circle cx="160" cy="430.64" r="1.6" fill="#000"/>
<line x1="70.3" y1="441.95" x2="73.5" y2="441.95" stroke="#666" stroke-width="0.9"/>
<text x="67.4" y="444.9" font-size="8.5" fill="#252525" text-anchor="end">CPM</text>
<line x1="132.3" y1="441.95" x2="186.6" y2="441.95" stroke="#8c8c8c" stroke-width="1.6"/>
<circle cx="159" cy="441.95" r="1.6" fill="#000"/>
<line x1="70.3" y1="453.26" x2="73.5" y2="453.26" stroke="#666" stroke-width="0.9"/>
<text x="67.4" y="456.21" font-size="8.5" fill="#252525" text-anchor="end">GHR</text>
<line x1="141" y1="453.26" x2="187.5" y2="453.26" stroke="#363636" stroke-width="1.6"/>
<circle cx="163.8" cy="453.26" r="1.6" fill="#000"/>
<line x1="70.3" y1="464.57" x2="73.5" y2="464.57" stroke="#666" stroke-width="0.9"/>
<text x="67.4" y="467.52" font-size="8.5" fill="#252525" text-anchor="end">ICAM5</text>
<line x1="170.9" y1="464.57" x2="187.5" y2="464.57" stroke="#363636" stroke-width="1.6"/>
<circle cx="179.1" cy="464.57" r="1.6" fill="#000"/>
<line x1="70.3" y1="475.88" x2="73.5" y2="475.88" stroke="#666" stroke-width="0.9"/>
<text x="67.4" y="478.83" font-size="8.5" fill="#252525" text-anchor="end">IL6R</text>
<line x1="171.2" y1="475.88" x2="189" y2="475.88" stroke="#8c8c8c" stroke-width="1.6"/>
<circle cx="180.3" cy="475.88" r="1.6" fill="#000"/>
<line x1="70.3" y1="487.19" x2="73.5" y2="487.19" stroke="#666" stroke-width="0.9"/>
<text x="67.4" y="490.14" font-size="8.5" fill="#252525" text-anchor="end">KEL</text>
<line x1="105.2" y1="487.19" x2="168.4" y2="487.19" stroke="#363636" stroke-width="1.6"/>
<circle cx="136.4" cy="487.19" r="1.6" fill="#000"/>
<line x1="70.3" y1="498.5" x2="73.5" y2="498.5" stroke="#666" stroke-width="0.9"/>
<text x="67.4" y="501.45" font-size="8.5" fill="#252525" text-anchor="end">LTA</text>
<line x1="143.1" y1="498.5" x2="183.8" y2="498.5" stroke="#363636" stroke-width="1.6"/>
<circle cx="163.5" cy="498.5" r="1.6" fill="#000"/>
<line x1="70.3" y1="509.81" x2="73.5" y2="509.81" stroke="#666" stroke-width="0.9"/>
<text x="67.4" y="512.76" font-size="8.5" fill="#252525" text-anchor="end">MLN</text>
<line x1="219.6" y1="509.81" x2="297.7" y2="509.81" stroke="#8c8c8c" stroke-width="1.6"/>
<circle cx="258.1" cy="509.81" r="1.6" fill="#000"/>
<line x1="70.3" y1="521.12" x2="73.5" y2="521.12" stroke="#666" stroke-width="0.9"/>
<text x="67.4" y="524.07" font-size="8.5" fill="#252525" text-anchor="end">PDCD6</text>
<line x1="160" y1="521.12" x2="185.6" y2="521.12" stroke="#363636" stroke-width="1.6"/>
<circle cx="172.4" cy="521.12" r="1.6" fill="#000"/>
<line x1="70.3" y1="532.43" x2="73.5" y2="532.43" stroke="#666" stroke-width="0.9"/>
<text x="67.4" y="535.38" font-size="8.5" fill="#252525" text-anchor="end">SERPINA5</text>
<line x1="216" y1="532.43" x2="276.2" y2="532.43" stroke="#363636" stroke-width="1.6"/>
<circle cx="245.6" cy="532.43" r="1.6" fill="#000"/>
<line x1="70.3" y1="543.74" x2="73.5" y2="543.74" stroke="#666" stroke-width="0.9"/>
<text x="67.4" y="546.69" font-size="8.5" fill="#252525" text-anchor="end">SIRPA</text>
<line x1="169.9" y1="543.74" x2="185.3" y2="543.74" stroke="#8c8c8c" stroke-width="1.6"/>
<circle cx="177.4" cy="543.74" r="1.6" fill="#000"/>
<line x1="70.3" y1="555.05" x2="73.5" y2="555.05" stroke="#666" stroke-width="0.9"/>
<text x="67.4" y="558" font-size="8.5" fill="#252525" text-anchor="end">TFPI</text>
<line x1="157.3" y1="555.05" x2="185.8" y2="555.05" stroke="#363636" stroke-width="1.6"/>
<circle cx="171.4" cy="555.05" r="1.6" fill="#000"/>
<line x1="70.3" y1="566.36" x2="73.5" y2="566.36" stroke="#666" stroke-width="0.9"/>
<text x="67.4" y="569.31" font-size="8.5" fill="#252525" text-anchor="end">UMOD</text>
<line x1="157.3" y1="566.36" x2="180.8" y2="566.36" stroke="#363636" stroke-width="1.6"/>
<circle cx="168.7" cy="566.36" r="1.6" fill="#000"/>
<line x1="70.3" y1="577.67" x2="73.5" y2="577.67" stroke="#666" stroke-width="0.9"/>
<text x="67.4" y="580.62" font-size="8.5" fill="#252525" text-anchor="end">WFIKKN1</text>
<line x1="213.7" y1="577.67" x2="251" y2="577.67" stroke="#8c8c8c" stroke-width="1.6"/>
<circle cx="232.1" cy="577.67" r="1.6" fill="#000"/>
<line x1="201.5" y1="379" x2="201.5" y2="584.2" stroke="#5a5a5a" stroke-width="0.95"/>
<line x1="84.5" y1="587.4" x2="84.5" y2="590.6" stroke="#7a7a7a" stroke-width="0.8"/>
<text x="84.5" y="599.8" font-size="7.3" fill="#252525" text-anchor="middle">0.90</text>
<line x1="143.1" y1="587.4" x2="143.1" y2="590.6" stroke="#7a7a7a" stroke-width="0.8"/>
<text x="143.1" y="599.8" font-size="7.3" fill="#252525" text-anchor="middle">0.95</text>
<line x1="201.7" y1="587.4" x2="201.7" y2="590.6" stroke="#7a7a7a" stroke-width="0.8"/>
<text x="201.7" y="599.8" font-size="7.3" fill="#252525" text-anchor="middle">1.00</text>
<line x1="260.3" y1="587.4" x2="260.3" y2="590.6" stroke="#7a7a7a" stroke-width="0.8"/>
<text x="260.3" y="599.8" font-size="7.3" fill="#252525" text-anchor="middle">1.05</text>
<line x1="318.9" y1="587.4" x2="318.9" y2="590.6" stroke="#7a7a7a" stroke-width="0.8"/>
<text x="318.9" y="599.8" font-size="7.3" fill="#252525" text-anchor="middle">1.10</text>
<text x="203" y="613" font-size="9.05" fill="#252525" text-anchor="middle">Odds ratio of T2D per unit change of protein level</text>
<text x="357.5" y="381.2" font-size="14.6" fill="#000" font-weight="bold">d</text>
<line x1="384.7" y1="377.2" x2="384.7" y2="542.4" stroke="#7a7a7a" stroke-width="0.8"/>
<line x1="384.7" y1="542.4" x2="547.6" y2="542.4" stroke="#7a7a7a" stroke-width="0.8"/>
<line x1="381.4" y1="435.3" x2="384.7" y2="435.3" stroke="#7a7a7a" stroke-width="0.7"/>
<text x="378.5" y="438.1" font-size="8" fill="#252525" text-anchor="end">10</text>
<line x1="381.4" y1="495.3" x2="384.7" y2="495.3" stroke="#7a7a7a" stroke-width="0.7"/>
<text x="378.5" y="498.1" font-size="8" fill="#252525" text-anchor="end">5</text>
<text transform="translate(361.5 460) rotate(-90)" font-size="9.3" fill="#252525" text-anchor="middle">&#8722;log<tspan font-size="6.32" dy="2.6">10</tspan><tspan dy="-2.6">(</tspan><tspan>P</tspan>)</text>
<line x1="389" y1="542.4" x2="389" y2="545.6" stroke="#7a7a7a" stroke-width="0.7"/>
<text transform="translate(391.2 548.3) rotate(-90)" font-size="6.45" fill="#252525" text-anchor="end">Activities</text>
<line x1="395.58" y1="542.4" x2="395.58" y2="545.6" stroke="#7a7a7a" stroke-width="0.7"/>
<text transform="translate(397.78 548.3) rotate(-90)" font-size="6.45" fill="#252525" text-anchor="end">Body structures</text>
<line x1="402.16" y1="542.4" x2="402.16" y2="545.6" stroke="#7a7a7a" stroke-width="0.7"/>
<text transform="translate(404.36 548.3) rotate(-90)" font-size="6.45" fill="#252525" text-anchor="end">Cardiovascular</text>
<line x1="408.73" y1="542.4" x2="408.73" y2="545.6" stroke="#7a7a7a" stroke-width="0.7"/>
<text transform="translate(410.93 548.3) rotate(-90)" font-size="6.45" fill="#252525" text-anchor="end">Cell</text>
<line x1="415.31" y1="542.4" x2="415.31" y2="545.6" stroke="#7a7a7a" stroke-width="0.7"/>
<text transform="translate(417.51 548.3) rotate(-90)" font-size="6.45" fill="#252525" text-anchor="end">Cognitive</text>
<line x1="421.89" y1="542.4" x2="421.89" y2="545.6" stroke="#7a7a7a" stroke-width="0.7"/>
<text transform="translate(424.09 548.3) rotate(-90)" font-size="6.45" fill="#252525" text-anchor="end">Connective tissue</text>
<line x1="428.47" y1="542.4" x2="428.47" y2="545.6" stroke="#7a7a7a" stroke-width="0.7"/>
<text transform="translate(430.67 548.3) rotate(-90)" font-size="6.45" fill="#252525" text-anchor="end">Dermatological</text>
<line x1="435.05" y1="542.4" x2="435.05" y2="545.6" stroke="#7a7a7a" stroke-width="0.7"/>
<text transform="translate(437.25 548.3) rotate(-90)" font-size="6.45" fill="#252525" text-anchor="end">Endocrine</text>
<line x1="441.62" y1="542.4" x2="441.62" y2="545.6" stroke="#7a7a7a" stroke-width="0.7"/>
<text transform="translate(443.82 548.3) rotate(-90)" font-size="6.45" fill="#252525" text-anchor="end">Environment</text>
<line x1="448.2" y1="542.4" x2="448.2" y2="545.6" stroke="#7a7a7a" stroke-width="0.7"/>
<text transform="translate(450.4 548.3) rotate(-90)" font-size="6.45" fill="#252525" text-anchor="end">Environmental</text>
<line x1="454.78" y1="542.4" x2="454.78" y2="545.6" stroke="#7a7a7a" stroke-width="0.7"/>
<text transform="translate(456.98 548.3) rotate(-90)" font-size="6.45" fill="#252525" text-anchor="end">Gastrointestinal</text>
<line x1="461.36" y1="542.4" x2="461.36" y2="545.6" stroke="#7a7a7a" stroke-width="0.7"/>
<text transform="translate(463.56 548.3) rotate(-90)" font-size="6.45" fill="#252525" text-anchor="end">Immunological</text>
<line x1="467.94" y1="542.4" x2="467.94" y2="545.6" stroke="#7a7a7a" stroke-width="0.7"/>
<text transform="translate(470.14 548.3) rotate(-90)" font-size="6.45" fill="#252525" text-anchor="end">Infection</text>
<line x1="474.51" y1="542.4" x2="474.51" y2="545.6" stroke="#7a7a7a" stroke-width="0.7"/>
<text transform="translate(476.71 548.3) rotate(-90)" font-size="6.45" fill="#252525" text-anchor="end">Metabolic</text>
<line x1="481.09" y1="542.4" x2="481.09" y2="545.6" stroke="#7a7a7a" stroke-width="0.7"/>
<text transform="translate(483.29 548.3) rotate(-90)" font-size="6.45" fill="#252525" text-anchor="end">Mortality</text>
<line x1="487.67" y1="542.4" x2="487.67" y2="545.6" stroke="#7a7a7a" stroke-width="0.7"/>
<text transform="translate(489.87 548.3) rotate(-90)" font-size="6.45" fill="#252525" text-anchor="end">Neoplasms</text>
<line x1="494.25" y1="542.4" x2="494.25" y2="545.6" stroke="#7a7a7a" stroke-width="0.7"/>
<text transform="translate(496.45 548.3) rotate(-90)" font-size="6.45" fill="#252525" text-anchor="end">Neurological</text>
<line x1="500.83" y1="542.4" x2="500.83" y2="545.6" stroke="#7a7a7a" stroke-width="0.7"/>
<text transform="translate(503.03 548.3) rotate(-90)" font-size="6.45" fill="#252525" text-anchor="end">Nutritional</text>
<line x1="507.4" y1="542.4" x2="507.4" y2="545.6" stroke="#7a7a7a" stroke-width="0.7"/>
<text transform="translate(509.6 548.3) rotate(-90)" font-size="6.45" fill="#252525" text-anchor="end">Ophthalmological</text>
<line x1="513.98" y1="542.4" x2="513.98" y2="545.6" stroke="#7a7a7a" stroke-width="0.7"/>
<text transform="translate(516.18 548.3) rotate(-90)" font-size="6.45" fill="#252525" text-anchor="end">Psychiatric</text>
<line x1="520.56" y1="542.4" x2="520.56" y2="545.6" stroke="#7a7a7a" stroke-width="0.7"/>
<text transform="translate(522.76 548.3) rotate(-90)" font-size="6.45" fill="#252525" text-anchor="end">Reproduction</text>
<line x1="527.14" y1="542.4" x2="527.14" y2="545.6" stroke="#7a7a7a" stroke-width="0.7"/>
<text transform="translate(529.34 548.3) rotate(-90)" font-size="6.45" fill="#252525" text-anchor="end">Respiratory</text>
<line x1="533.72" y1="542.4" x2="533.72" y2="545.6" stroke="#7a7a7a" stroke-width="0.7"/>
<text transform="translate(535.92 548.3) rotate(-90)" font-size="6.45" fill="#252525" text-anchor="end">Skeletal</text>
<line x1="540.29" y1="542.4" x2="540.29" y2="545.6" stroke="#7a7a7a" stroke-width="0.7"/>
<text transform="translate(542.49 548.3) rotate(-90)" font-size="6.45" fill="#252525" text-anchor="end">Social interactions</text>
<line x1="389" y1="528.6" x2="389" y2="540.3" stroke="#00BBDC" stroke-width="3.4" stroke-linecap="round"/>
<circle cx="389" cy="479.2" r="1.7" fill="#00BBDC"/>
<circle cx="389" cy="501.4" r="1.7" fill="#00BBDC"/>
<circle cx="389" cy="508.8" r="1.7" fill="#00BBDC"/>
<circle cx="389" cy="513.8" r="1.7" fill="#00BBDC"/>
<circle cx="395.58" cy="532.4" r="1.7" fill="#FF64B0"/>
<circle cx="395.58" cy="538" r="1.7" fill="#FF64B0"/>
<line x1="402.16" y1="513.3" x2="402.16" y2="540.3" stroke="#C77CFF" stroke-width="3.4" stroke-linecap="round"/>
<circle cx="402.16" cy="434.6" r="1.7" fill="#C77CFF"/>
<circle cx="402.16" cy="436.4" r="1.7" fill="#C77CFF"/>
<line x1="408.73" y1="526" x2="408.73" y2="540.5" stroke="#00BFC4" stroke-width="3.4" stroke-linecap="round"/>
<circle cx="408.73" cy="521" r="1.7" fill="#00BFC4"/>
<circle cx="415.31" cy="508.5" r="1.7" fill="#00C1A9"/>
<circle cx="415.31" cy="515.5" r="1.7" fill="#00C1A9"/>
<circle cx="415.31" cy="531" r="1.7" fill="#00C1A9"/>
<circle cx="415.31" cy="534.4" r="1.7" fill="#00C1A9"/>
<circle cx="415.31" cy="538.5" r="1.7" fill="#00C1A9"/>
<circle cx="421.89" cy="538.3" r="1.7" fill="#7CAE00"/>
<circle cx="421.89" cy="539" r="1.7" fill="#7CAE00"/>
<circle cx="428.47" cy="521.3" r="1.7" fill="#F564E3"/>
<circle cx="428.47" cy="535" r="1.7" fill="#F564E3"/>
<circle cx="435.05" cy="463.9" r="1.7" fill="#00BA38"/>
<circle cx="435.05" cy="491.1" r="1.7" fill="#00BA38"/>
<circle cx="435.05" cy="497.2" r="1.7" fill="#00BA38"/>
<circle cx="435.05" cy="508.3" r="1.7" fill="#00BA38"/>
<circle cx="435.05" cy="513.4" r="1.7" fill="#00BA38"/>
<circle cx="435.05" cy="522.7" r="1.7" fill="#00BA38"/>
<circle cx="435.05" cy="524.5" r="1.7" fill="#00BA38"/>
<circle cx="435.05" cy="528.3" r="1.7" fill="#00BA38"/>
<circle cx="435.05" cy="536.6" r="1.7" fill="#00BA38"/>
<circle cx="435.05" cy="538.7" r="1.7" fill="#00BA38"/>
<circle cx="441.62" cy="486.6" r="1.7" fill="#DE8C00"/>
<circle cx="441.62" cy="498.5" r="1.7" fill="#DE8C00"/>
<circle cx="441.62" cy="509.8" r="1.7" fill="#DE8C00"/>
<circle cx="441.62" cy="515.4" r="1.7" fill="#DE8C00"/>
<circle cx="441.62" cy="520" r="1.7" fill="#DE8C00"/>
<circle cx="441.62" cy="528" r="1.7" fill="#DE8C00"/>
<circle cx="441.62" cy="532.4" r="1.7" fill="#DE8C00"/>
<circle cx="448.2" cy="452.3" r="1.7" fill="#FF6C91"/>
<circle cx="448.2" cy="477.6" r="1.7" fill="#FF6C91"/>
<circle cx="448.2" cy="491.5" r="1.7" fill="#FF6C91"/>
<circle cx="448.2" cy="494.5" r="1.7" fill="#FF6C91"/>
<circle cx="448.2" cy="514.1" r="1.7" fill="#FF6C91"/>
<circle cx="448.2" cy="525.4" r="1.7" fill="#FF6C91"/>
<circle cx="454.78" cy="516" r="1.7" fill="#00C08B"/>
<circle cx="454.78" cy="521.2" r="1.7" fill="#00C08B"/>
<circle cx="454.78" cy="531.5" r="1.7" fill="#00C08B"/>
<circle cx="454.78" cy="535.5" r="1.7" fill="#00C08B"/>
<circle cx="454.78" cy="538.5" r="1.7" fill="#00C08B"/>
<line x1="461.36" y1="526.3" x2="461.36" y2="540.3" stroke="#49B500" stroke-width="3.4" stroke-linecap="round"/>
<circle cx="467.94" cy="536.2" r="1.7" fill="#FF61CC"/>
<line x1="474.51" y1="500.6" x2="474.51" y2="540.3" stroke="#B79F00" stroke-width="3.4" stroke-linecap="round"/>
<circle cx="474.51" cy="389.1" r="1.7" fill="#B79F00"/>
<circle cx="474.51" cy="390.8" r="1.7" fill="#B79F00"/>
<circle cx="474.51" cy="404.3" r="1.7" fill="#B79F00"/>
<circle cx="474.51" cy="406" r="1.7" fill="#B79F00"/>
<circle cx="474.51" cy="455" r="1.7" fill="#B79F00"/>
<circle cx="474.51" cy="489.8" r="1.7" fill="#B79F00"/>
<circle cx="481.09" cy="528.2" r="1.7" fill="#00B4F0"/>
<circle cx="481.09" cy="530.2" r="1.7" fill="#00B4F0"/>
<circle cx="481.09" cy="536.6" r="1.7" fill="#00B4F0"/>
<circle cx="487.67" cy="530.4" r="1.7" fill="#00BE67"/>
<circle cx="487.67" cy="534.6" r="1.7" fill="#00BE67"/>
<circle cx="487.67" cy="539.6" r="1.7" fill="#00BE67"/>
<line x1="494.25" y1="523.5" x2="494.25" y2="540.3" stroke="#ED813E" stroke-width="3.4" stroke-linecap="round"/>
<circle cx="494.25" cy="457.8" r="1.7" fill="#ED813E"/>
<circle cx="494.25" cy="479.6" r="1.7" fill="#ED813E"/>
<circle cx="494.25" cy="515.3" r="1.7" fill="#ED813E"/>
<circle cx="500.83" cy="500" r="1.7" fill="#E36EF6"/>
<circle cx="500.83" cy="520.7" r="1.7" fill="#E36EF6"/>
<circle cx="507.4" cy="504.2" r="1.7" fill="#CD9600"/>
<circle cx="507.4" cy="519.2" r="1.7" fill="#CD9600"/>
<circle cx="507.4" cy="522.5" r="1.7" fill="#CD9600"/>
<circle cx="507.4" cy="527.8" r="1.7" fill="#CD9600"/>
<circle cx="507.4" cy="533.5" r="1.7" fill="#CD9600"/>
<line x1="513.98" y1="523.5" x2="513.98" y2="540.3" stroke="#F8766D" stroke-width="3.4" stroke-linecap="round"/>
<circle cx="513.98" cy="509.3" r="1.7" fill="#F8766D"/>
<circle cx="513.98" cy="516.4" r="1.7" fill="#F8766D"/>
<circle cx="520.56" cy="510.1" r="1.7" fill="#619CFF"/>
<circle cx="520.56" cy="537.3" r="1.7" fill="#619CFF"/>
<circle cx="520.56" cy="538.5" r="1.7" fill="#619CFF"/>
<circle cx="527.14" cy="536.6" r="1.7" fill="#9F8CFF"/>
<circle cx="527.14" cy="537.6" r="1.7" fill="#9F8CFF"/>
<circle cx="533.72" cy="415.4" r="1.7" fill="#9DA700"/>
<circle cx="533.72" cy="419.5" r="1.7" fill="#9DA700"/>
<circle cx="533.72" cy="488" r="1.7" fill="#9DA700"/>
<circle cx="533.72" cy="495" r="1.7" fill="#9DA700"/>
<circle cx="533.72" cy="497" r="1.7" fill="#9DA700"/>
<circle cx="533.72" cy="499.5" r="1.7" fill="#9DA700"/>
<circle cx="533.72" cy="530.8" r="1.7" fill="#9DA700"/>
<circle cx="533.72" cy="535.2" r="1.7" fill="#9DA700"/>
<circle cx="540.29" cy="521" r="1.7" fill="#00A9FF"/>
<circle cx="540.29" cy="523.5" r="1.7" fill="#00A9FF"/>
<circle cx="540.29" cy="535.9" r="1.7" fill="#00A9FF"/>
<text x="438" y="386.6" font-size="4.9" fill="#B79F00">Peptide: Dipeptide: X-14208--phenylalanylserine</text>
<text x="425.1" y="396.2" font-size="4.9" fill="#B79F00">Peptide-Dipeptide-X-14189--leucylalanine</text>
<text x="528.9" y="412.6" font-size="4.9" fill="#9DA700">Height</text>
<text x="509.4" y="425.9" font-size="4.9" fill="#9DA700">Standing height</text>
<text x="387.6" y="431.6" font-size="4.9" fill="#C77CFF">High blood pressure</text>
<text x="406" y="440.4" font-size="4.9" fill="#C77CFF">Non-cancer illness code, self-reported: hypertension</text>
<text x="395" y="449.5" font-size="4.9" fill="#FF6C91">Agents acting on the renin-angiotensin system</text>
<text x="393.8" y="461.2" font-size="4.9" fill="#ED813E">Proxy and clinically diagnosed Alzheimer's disease</text>
<text x="423.9" y="469.6" font-size="4.9" fill="#00BA38">T2D</text>
<text x="558.9" y="409.2" font-size="7.6" fill="#252525">Domain</text>
<circle cx="557.3" cy="417.3" r="1.75" fill="#00BBDC"/>
<text x="563.2" y="419.6" font-size="6.45" fill="#252525">Activities</text>
<circle cx="557.3" cy="426.62" r="1.75" fill="#FF64B0"/>
<text x="563.2" y="428.92" font-size="6.45" fill="#252525">Body structures</text>
<circle cx="557.3" cy="435.94" r="1.75" fill="#C77CFF"/>
<text x="563.2" y="438.24" font-size="6.45" fill="#252525">Cardiovascular</text>
<circle cx="557.3" cy="445.26" r="1.75" fill="#00BFC4"/>
<text x="563.2" y="447.56" font-size="6.45" fill="#252525">Cell</text>
<circle cx="557.3" cy="454.58" r="1.75" fill="#00C1A9"/>
<text x="563.2" y="456.88" font-size="6.45" fill="#252525">Cognitive</text>
<circle cx="557.3" cy="463.9" r="1.75" fill="#7CAE00"/>
<text x="563.2" y="466.2" font-size="6.45" fill="#252525">Connective tissue</text>
<circle cx="557.3" cy="473.22" r="1.75" fill="#F564E3"/>
<text x="563.2" y="475.52" font-size="6.45" fill="#252525">Dermatological</text>
<circle cx="557.3" cy="482.54" r="1.75" fill="#00BA38"/>
<text x="563.2" y="484.84" font-size="6.45" fill="#252525">Endocrine</text>
<circle cx="557.3" cy="491.86" r="1.75" fill="#DE8C00"/>
<text x="563.2" y="494.16" font-size="6.45" fill="#252525">Environment</text>
<circle cx="557.3" cy="501.18" r="1.75" fill="#FF6C91"/>
<text x="563.2" y="503.48" font-size="6.45" fill="#252525">Environmental</text>
<circle cx="557.3" cy="510.5" r="1.75" fill="#00C08B"/>
<text x="563.2" y="512.8" font-size="6.45" fill="#252525">Gastrointestinal</text>
<circle cx="557.3" cy="519.82" r="1.75" fill="#49B500"/>
<text x="563.2" y="522.12" font-size="6.45" fill="#252525">Immunological</text>
<circle cx="626.5" cy="417.3" r="1.75" fill="#FF61CC"/>
<text x="632.2" y="419.6" font-size="6.45" fill="#252525">Infection</text>
<circle cx="626.5" cy="426.62" r="1.75" fill="#B79F00"/>
<text x="632.2" y="428.92" font-size="6.45" fill="#252525">Metabolic</text>
<circle cx="626.5" cy="435.94" r="1.75" fill="#00B4F0"/>
<text x="632.2" y="438.24" font-size="6.45" fill="#252525">Mortality</text>
<circle cx="626.5" cy="445.26" r="1.75" fill="#00BE67"/>
<text x="632.2" y="447.56" font-size="6.45" fill="#252525">Neoplasms</text>
<circle cx="626.5" cy="454.58" r="1.75" fill="#ED813E"/>
<text x="632.2" y="456.88" font-size="6.45" fill="#252525">Neurological</text>
<circle cx="626.5" cy="463.9" r="1.75" fill="#E36EF6"/>
<text x="632.2" y="466.2" font-size="6.45" fill="#252525">Nutritional</text>
<circle cx="626.5" cy="473.22" r="1.75" fill="#CD9600"/>
<text x="632.2" y="475.52" font-size="6.45" fill="#252525">Ophthalmological</text>
<circle cx="626.5" cy="482.54" r="1.75" fill="#F8766D"/>
<text x="632.2" y="484.84" font-size="6.45" fill="#252525">Psychiatric</text>
<circle cx="626.5" cy="491.86" r="1.75" fill="#619CFF"/>
<text x="632.2" y="494.16" font-size="6.45" fill="#252525">Reproduction</text>
<circle cx="626.5" cy="501.18" r="1.75" fill="#9F8CFF"/>
<text x="632.2" y="503.48" font-size="6.45" fill="#252525">Respiratory</text>
<circle cx="626.5" cy="510.5" r="1.75" fill="#9DA700"/>
<text x="632.2" y="512.8" font-size="6.45" fill="#252525">Skeletal</text>
<circle cx="626.5" cy="519.82" r="1.75" fill="#00A9FF"/>
<text x="632.2" y="522.12" font-size="6.45" fill="#252525">Social interactions</text>
<text x="463.7" y="610.7" font-size="7.6" fill="#252525" text-anchor="middle">Domain</text>
<text x="355.4" y="630.5" font-size="14.6" fill="#000" font-weight="bold">e</text>
<line x1="384.7" y1="629" x2="384.7" y2="780.3" stroke="#7a7a7a" stroke-width="0.8"/>
<line x1="384.7" y1="780.3" x2="547.6" y2="780.3" stroke="#7a7a7a" stroke-width="0.8"/>
<line x1="381.4" y1="648.3" x2="384.7" y2="648.3" stroke="#7a7a7a" stroke-width="0.7"/>
<text x="378.5" y="651.1" font-size="8" fill="#252525" text-anchor="end">20</text>
<line x1="381.4" y1="683.4" x2="384.7" y2="683.4" stroke="#7a7a7a" stroke-width="0.7"/>
<text x="378.5" y="686.2" font-size="8" fill="#252525" text-anchor="end">15</text>
<line x1="381.4" y1="718.3" x2="384.7" y2="718.3" stroke="#7a7a7a" stroke-width="0.7"/>
<text x="378.5" y="721.1" font-size="8" fill="#252525" text-anchor="end">10</text>
<line x1="381.4" y1="753.2" x2="384.7" y2="753.2" stroke="#7a7a7a" stroke-width="0.7"/>
<text x="378.5" y="756" font-size="8" fill="#252525" text-anchor="end">5</text>
<text transform="translate(361.5 698.8) rotate(-90)" font-size="9.3" fill="#252525" text-anchor="middle">&#8722;log<tspan font-size="6.32" dy="2.6">10</tspan><tspan dy="-2.6">(</tspan><tspan>P</tspan>)</text>
<line x1="388.4" y1="780.3" x2="388.4" y2="783.5" stroke="#7a7a7a" stroke-width="0.7"/>
<text transform="translate(390.6 786.4) rotate(-90)" font-size="6.45" fill="#252525" text-anchor="end">Activities</text>
<line x1="395.58" y1="780.3" x2="395.58" y2="783.5" stroke="#7a7a7a" stroke-width="0.7"/>
<text transform="translate(397.78 786.4) rotate(-90)" font-size="6.45" fill="#252525" text-anchor="end">Cardiovascular</text>
<line x1="402.75" y1="780.3" x2="402.75" y2="783.5" stroke="#7a7a7a" stroke-width="0.7"/>
<text transform="translate(404.95 786.4) rotate(-90)" font-size="6.45" fill="#252525" text-anchor="end">Cell</text>
<line x1="409.93" y1="780.3" x2="409.93" y2="783.5" stroke="#7a7a7a" stroke-width="0.7"/>
<text transform="translate(412.13 786.4) rotate(-90)" font-size="6.45" fill="#252525" text-anchor="end">Cognitive</text>
<line x1="417.1" y1="780.3" x2="417.1" y2="783.5" stroke="#7a7a7a" stroke-width="0.7"/>
<text transform="translate(419.3 786.4) rotate(-90)" font-size="6.45" fill="#252525" text-anchor="end">Connective tissue</text>
<line x1="424.28" y1="780.3" x2="424.28" y2="783.5" stroke="#7a7a7a" stroke-width="0.7"/>
<text transform="translate(426.48 786.4) rotate(-90)" font-size="6.45" fill="#252525" text-anchor="end">Dermatological</text>
<line x1="431.46" y1="780.3" x2="431.46" y2="783.5" stroke="#7a7a7a" stroke-width="0.7"/>
<text transform="translate(433.66 786.4) rotate(-90)" font-size="6.45" fill="#252525" text-anchor="end">Endocrine</text>
<line x1="438.63" y1="780.3" x2="438.63" y2="783.5" stroke="#7a7a7a" stroke-width="0.7"/>
<text transform="translate(440.83 786.4) rotate(-90)" font-size="6.45" fill="#252525" text-anchor="end">Environment</text>
<line x1="445.81" y1="780.3" x2="445.81" y2="783.5" stroke="#7a7a7a" stroke-width="0.7"/>
<text transform="translate(448.01 786.4) rotate(-90)" font-size="6.45" fill="#252525" text-anchor="end">Environmental</text>
<line x1="452.98" y1="780.3" x2="452.98" y2="783.5" stroke="#7a7a7a" stroke-width="0.7"/>
<text transform="translate(455.18 786.4) rotate(-90)" font-size="6.45" fill="#252525" text-anchor="end">Gastrointestinal</text>
<line x1="460.16" y1="780.3" x2="460.16" y2="783.5" stroke="#7a7a7a" stroke-width="0.7"/>
<text transform="translate(462.36 786.4) rotate(-90)" font-size="6.45" fill="#252525" text-anchor="end">Immunological</text>
<line x1="467.34" y1="780.3" x2="467.34" y2="783.5" stroke="#7a7a7a" stroke-width="0.7"/>
<text transform="translate(469.54 786.4) rotate(-90)" font-size="6.45" fill="#252525" text-anchor="end">Metabolic</text>
<line x1="474.51" y1="780.3" x2="474.51" y2="783.5" stroke="#7a7a7a" stroke-width="0.7"/>
<text transform="translate(476.71 786.4) rotate(-90)" font-size="6.45" fill="#252525" text-anchor="end">Mortality</text>
<line x1="481.69" y1="780.3" x2="481.69" y2="783.5" stroke="#7a7a7a" stroke-width="0.7"/>
<text transform="translate(483.89 786.4) rotate(-90)" font-size="6.45" fill="#252525" text-anchor="end">Neoplasms</text>
<line x1="488.86" y1="780.3" x2="488.86" y2="783.5" stroke="#7a7a7a" stroke-width="0.7"/>
<text transform="translate(491.06 786.4) rotate(-90)" font-size="6.45" fill="#252525" text-anchor="end">Neurological</text>
<line x1="496.04" y1="780.3" x2="496.04" y2="783.5" stroke="#7a7a7a" stroke-width="0.7"/>
<text transform="translate(498.24 786.4) rotate(-90)" font-size="6.45" fill="#252525" text-anchor="end">Nutritional</text>
<line x1="503.22" y1="780.3" x2="503.22" y2="783.5" stroke="#7a7a7a" stroke-width="0.7"/>
<text transform="translate(505.42 786.4) rotate(-90)" font-size="6.45" fill="#252525" text-anchor="end">Ophthalmological</text>
<line x1="510.39" y1="780.3" x2="510.39" y2="783.5" stroke="#7a7a7a" stroke-width="0.7"/>
<text transform="translate(512.59 786.4) rotate(-90)" font-size="6.45" fill="#252525" text-anchor="end">Psychiatric</text>
<line x1="517.57" y1="780.3" x2="517.57" y2="783.5" stroke="#7a7a7a" stroke-width="0.7"/>
<text transform="translate(519.77 786.4) rotate(-90)" font-size="6.45" fill="#252525" text-anchor="end">Reproduction</text>
<line x1="524.74" y1="780.3" x2="524.74" y2="783.5" stroke="#7a7a7a" stroke-width="0.7"/>
<text transform="translate(526.94 786.4) rotate(-90)" font-size="6.45" fill="#252525" text-anchor="end">Respiratory</text>
<line x1="531.92" y1="780.3" x2="531.92" y2="783.5" stroke="#7a7a7a" stroke-width="0.7"/>
<text transform="translate(534.12 786.4) rotate(-90)" font-size="6.45" fill="#252525" text-anchor="end">Skeletal</text>
<line x1="539.1" y1="780.3" x2="539.1" y2="783.5" stroke="#7a7a7a" stroke-width="0.7"/>
<text transform="translate(541.3 786.4) rotate(-90)" font-size="6.45" fill="#252525" text-anchor="end">Social interactions</text>
<line x1="388.4" y1="766.6" x2="388.4" y2="779.5" stroke="#00C1A7" stroke-width="3.4" stroke-linecap="round"/>
<circle cx="388.4" cy="757.4" r="1.7" fill="#00C1A7"/>
<circle cx="395.58" cy="700.1" r="1.7" fill="#AEA200"/>
<circle cx="395.58" cy="731.4" r="1.7" fill="#AEA200"/>
<circle cx="395.58" cy="765.3" r="1.7" fill="#AEA200"/>
<circle cx="395.58" cy="767.3" r="1.7" fill="#AEA200"/>
<circle cx="395.58" cy="772" r="1.7" fill="#AEA200"/>
<circle cx="395.58" cy="775" r="1.7" fill="#AEA200"/>
<circle cx="395.58" cy="779" r="1.7" fill="#AEA200"/>
<circle cx="402.75" cy="774.6" r="1.7" fill="#FF6B94"/>
<circle cx="402.75" cy="778.6" r="1.7" fill="#FF6B94"/>
<circle cx="409.93" cy="772.5" r="1.7" fill="#EC8239"/>
<circle cx="409.93" cy="777.5" r="1.7" fill="#EC8239"/>
<circle cx="409.93" cy="779" r="1.7" fill="#EC8239"/>
<circle cx="417.1" cy="770.6" r="1.7" fill="#FF63B6"/>
<circle cx="424.28" cy="767.6" r="1.7" fill="#00B2F3"/>
<circle cx="424.28" cy="778.2" r="1.7" fill="#00B2F3"/>
<circle cx="431.46" cy="771.5" r="1.7" fill="#EF67EB"/>
<circle cx="431.46" cy="778.2" r="1.7" fill="#EF67EB"/>
<circle cx="438.63" cy="772.7" r="1.7" fill="#00C085"/>
<circle cx="438.63" cy="777.5" r="1.7" fill="#00C085"/>
<circle cx="438.63" cy="779" r="1.7" fill="#00C085"/>
<circle cx="445.81" cy="769.5" r="1.7" fill="#FD61D3"/>
<circle cx="445.81" cy="771.8" r="1.7" fill="#FD61D3"/>
<circle cx="445.81" cy="778.6" r="1.7" fill="#FD61D3"/>
<line x1="452.98" y1="773.1" x2="452.98" y2="779.5" stroke="#B385FF" stroke-width="3.4" stroke-linecap="round"/>
<circle cx="460.16" cy="762.9" r="1.7" fill="#64B200"/>
<circle cx="460.16" cy="766.8" r="1.7" fill="#64B200"/>
<circle cx="460.16" cy="769.5" r="1.7" fill="#64B200"/>
<circle cx="460.16" cy="774.6" r="1.7" fill="#64B200"/>
<circle cx="460.16" cy="776.4" r="1.7" fill="#64B200"/>
<circle cx="460.16" cy="779" r="1.7" fill="#64B200"/>
<line x1="467.34" y1="765" x2="467.34" y2="779.5" stroke="#8FAA00" stroke-width="3.4" stroke-linecap="round"/>
<circle cx="467.34" cy="627.9" r="1.7" fill="#8FAA00"/>
<circle cx="467.34" cy="665.7" r="1.7" fill="#8FAA00"/>
<circle cx="467.34" cy="698.8" r="1.7" fill="#8FAA00"/>
<circle cx="467.34" cy="704.6" r="1.7" fill="#8FAA00"/>
<circle cx="467.34" cy="710.4" r="1.7" fill="#8FAA00"/>
<circle cx="467.34" cy="739.6" r="1.7" fill="#8FAA00"/>
<circle cx="467.34" cy="741.4" r="1.7" fill="#8FAA00"/>
<circle cx="467.34" cy="745.8" r="1.7" fill="#8FAA00"/>
<circle cx="467.34" cy="752.8" r="1.7" fill="#8FAA00"/>
<circle cx="467.34" cy="754.7" r="1.7" fill="#8FAA00"/>
<circle cx="467.34" cy="757.5" r="1.7" fill="#8FAA00"/>
<circle cx="474.51" cy="773.1" r="1.7" fill="#00B81B"/>
<circle cx="474.51" cy="775.5" r="1.7" fill="#00B81B"/>
<circle cx="474.51" cy="778" r="1.7" fill="#00B81B"/>
<circle cx="481.69" cy="771.3" r="1.7" fill="#7C96FF"/>
<circle cx="481.69" cy="776" r="1.7" fill="#7C96FF"/>
<line x1="488.86" y1="770" x2="488.86" y2="779.5" stroke="#00BD5C" stroke-width="3.4" stroke-linecap="round"/>
<circle cx="488.86" cy="753" r="1.7" fill="#00BD5C"/>
<circle cx="488.86" cy="764.5" r="1.7" fill="#00BD5C"/>
<line x1="496.04" y1="771.3" x2="496.04" y2="779.5" stroke="#00BFC4" stroke-width="3.4" stroke-linecap="round"/>
<circle cx="496.04" cy="757.5" r="1.7" fill="#00BFC4"/>
<line x1="503.22" y1="774.5" x2="503.22" y2="779.5" stroke="#D874FD" stroke-width="3.4" stroke-linecap="round"/>
<line x1="510.39" y1="773" x2="510.39" y2="779.5" stroke="#F8766D" stroke-width="3.4" stroke-linecap="round"/>
<circle cx="510.39" cy="766.4" r="1.7" fill="#F8766D"/>
<circle cx="517.57" cy="764.4" r="1.7" fill="#DB8E00"/>
<circle cx="517.57" cy="773" r="1.7" fill="#DB8E00"/>
<circle cx="517.57" cy="775.5" r="1.7" fill="#DB8E00"/>
<circle cx="517.57" cy="778" r="1.7" fill="#DB8E00"/>
<line x1="524.74" y1="767" x2="524.74" y2="779.5" stroke="#00A6FF" stroke-width="3.4" stroke-linecap="round"/>
<circle cx="524.74" cy="763.4" r="1.7" fill="#00A6FF"/>
<line x1="531.92" y1="768.5" x2="531.92" y2="779.5" stroke="#C79800" stroke-width="3.4" stroke-linecap="round"/>
<circle cx="531.92" cy="740.2" r="1.7" fill="#C79800"/>
<circle cx="531.92" cy="746.3" r="1.7" fill="#C79800"/>
<circle cx="531.92" cy="751.5" r="1.7" fill="#C79800"/>
<circle cx="539.1" cy="767.7" r="1.7" fill="#00BADE"/>
<circle cx="539.1" cy="774.3" r="1.7" fill="#00BADE"/>
<text x="448" y="635" font-size="4.9" fill="#8FAA00">Waist-hip ratio</text>
<text x="437.5" y="663.5" font-size="4.9" fill="#8FAA00">Waist-hip ratio (adjusted for BMI)</text>
<text x="398.8" y="702" font-size="4.9" fill="#AEA200">Resting heart rate</text>
<text x="398.8" y="733.2" font-size="4.9" fill="#AEA200">Pulse rate (automated reading)</text>
<text x="552.4" y="653" font-size="7.6" fill="#252525">Domain</text>
<circle cx="556.5" cy="661.1" r="1.75" fill="#00C1A7"/>
<text x="562.2" y="663.4" font-size="6.45" fill="#252525">Activities</text>
<circle cx="556.5" cy="670.41" r="1.75" fill="#AEA200"/>
<text x="562.2" y="672.71" font-size="6.45" fill="#252525">Cardiovascular</text>
<circle cx="556.5" cy="679.72" r="1.75" fill="#FF6B94"/>
<text x="562.2" y="682.02" font-size="6.45" fill="#252525">Cell</text>
<circle cx="556.5" cy="689.03" r="1.75" fill="#EC8239"/>
<text x="562.2" y="691.33" font-size="6.45" fill="#252525">Cognitive</text>
<circle cx="556.5" cy="698.34" r="1.75" fill="#FF63B6"/>
<text x="562.2" y="700.64" font-size="6.45" fill="#252525">Connective tissue</text>
<circle cx="556.5" cy="707.65" r="1.75" fill="#00B2F3"/>
<text x="562.2" y="709.95" font-size="6.45" fill="#252525">Dermatological</text>
<circle cx="556.5" cy="716.96" r="1.75" fill="#EF67EB"/>
<text x="562.2" y="719.26" font-size="6.45" fill="#252525">Endocrine</text>
<circle cx="556.5" cy="726.27" r="1.75" fill="#00C085"/>
<text x="562.2" y="728.57" font-size="6.45" fill="#252525">Environment</text>
<circle cx="556.5" cy="735.58" r="1.75" fill="#FD61D3"/>
<text x="562.2" y="737.88" font-size="6.45" fill="#252525">Environmental</text>
<circle cx="556.5" cy="744.89" r="1.75" fill="#B385FF"/>
<text x="562.2" y="747.19" font-size="6.45" fill="#252525">Gastrointestinal</text>
<circle cx="556.5" cy="754.2" r="1.75" fill="#64B200"/>
<text x="562.2" y="756.5" font-size="6.45" fill="#252525">Immunological</text>
<circle cx="621.7" cy="661.1" r="1.75" fill="#8FAA00"/>
<text x="626.9" y="663.4" font-size="6.45" fill="#252525">Metabolic</text>
<circle cx="621.7" cy="670.41" r="1.75" fill="#00B81B"/>
<text x="626.9" y="672.71" font-size="6.45" fill="#252525">Mortality</text>
<circle cx="621.7" cy="679.72" r="1.75" fill="#7C96FF"/>
<text x="626.9" y="682.02" font-size="6.45" fill="#252525">Neoplasms</text>
<circle cx="621.7" cy="689.03" r="1.75" fill="#00BD5C"/>
<text x="626.9" y="691.33" font-size="6.45" fill="#252525">Neurological</text>
<circle cx="621.7" cy="698.34" r="1.75" fill="#00BFC4"/>
<text x="626.9" y="700.64" font-size="6.45" fill="#252525">Nutritional</text>
<circle cx="621.7" cy="707.65" r="1.75" fill="#D874FD"/>
<text x="626.9" y="709.95" font-size="6.45" fill="#252525">Ophthalmological</text>
<circle cx="621.7" cy="716.96" r="1.75" fill="#F8766D"/>
<text x="626.9" y="719.26" font-size="6.45" fill="#252525">Psychiatric</text>
<circle cx="621.7" cy="726.27" r="1.75" fill="#DB8E00"/>
<text x="626.9" y="728.57" font-size="6.45" fill="#252525">Reproduction</text>
<circle cx="621.7" cy="735.58" r="1.75" fill="#00A6FF"/>
<text x="626.9" y="737.88" font-size="6.45" fill="#252525">Respiratory</text>
<circle cx="621.7" cy="744.89" r="1.75" fill="#C79800"/>
<text x="626.9" y="747.19" font-size="6.45" fill="#252525">Skeletal</text>
<circle cx="621.7" cy="754.2" r="1.75" fill="#00BADE"/>
<text x="626.9" y="756.5" font-size="6.45" fill="#252525">Social interactions</text>
<text x="463.1" y="849" font-size="7.6" fill="#252525" text-anchor="middle">Domain</text>
</svg></body></html>
